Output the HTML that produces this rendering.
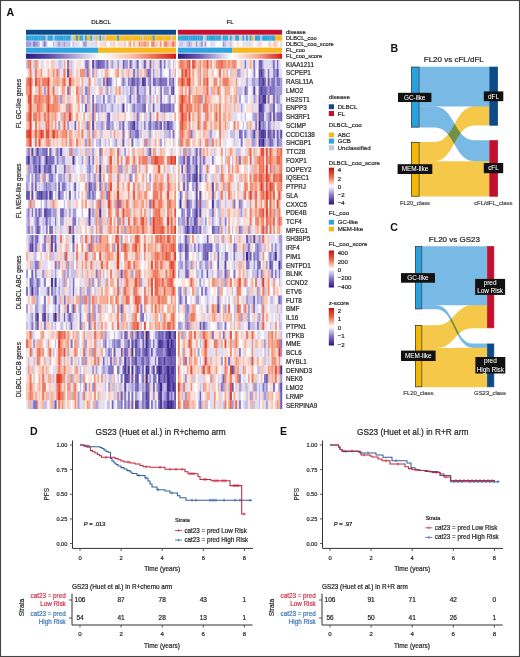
<!DOCTYPE html><html><head><meta charset="utf-8"><style>html,body{margin:0;padding:0;background:#fff}body{width:520px;height:657px;overflow:hidden}svg{display:block}text{font-family:"Liberation Sans",sans-serif}</style></head><body><svg width="520" height="657" viewBox="0 0 520 657" font-family='"Liberation Sans", sans-serif'>
<defs><linearGradient id="g0" x1="0" x2="1" y1="0" y2="0"><stop offset="0" stop-color="#2a1a80"/><stop offset="0.15" stop-color="#5a48a8"/><stop offset="0.3" stop-color="#a898d0"/><stop offset="0.5" stop-color="#ffffff"/><stop offset="0.7" stop-color="#f8c0a8"/><stop offset="0.86" stop-color="#ee6a4c"/><stop offset="1" stop-color="#d41c1c"/></linearGradient><linearGradient id="g1" x1="0" x2="1" y1="0" y2="0"><stop offset="0" stop-color="#2a1a80"/><stop offset="0.2" stop-color="#6a58b4"/><stop offset="0.52" stop-color="#ffffff"/><stop offset="0.78" stop-color="#f6a088"/><stop offset="1" stop-color="#d41c1c"/></linearGradient><filter id="hb" x="-0.01" y="-0.01" width="1.02" height="1.02"><feGaussianBlur stdDeviation="0.45 0.35"/></filter><filter id="ab" x="-0.01" y="-0.1" width="1.02" height="1.2"><feGaussianBlur stdDeviation="0.45 0.01"/></filter><linearGradient id="gz" x1="0" x2="0" y1="0" y2="1"><stop offset="0" stop-color="#c4100c"/><stop offset="0.25" stop-color="#f06a48"/><stop offset="0.5" stop-color="#ffffff"/><stop offset="0.75" stop-color="#8a78c8"/><stop offset="1" stop-color="#2a1478"/></linearGradient></defs>
<rect x="0" y="0" width="520" height="657" fill="#fff"/>
<text x="6.6" y="15.9" font-size="10.6" text-anchor="start" fill="#111" font-weight="bold" >A</text>
<text x="101" y="24.3" font-size="6.1" text-anchor="middle" fill="#262626" stroke="#262626" stroke-width="0.2" >DLBCL</text>
<text x="230" y="24.3" font-size="6.1" text-anchor="middle" fill="#262626" stroke="#262626" stroke-width="0.2" >FL</text>
<g filter="url(#ab)"><rect x="26" y="29.8" width="150" height="4.9" fill="#0c4a88"/><rect x="177.7" y="29.8" width="104.3" height="4.9" fill="#c8102e"/><rect x="26" y="35.4" width="2.04" height="5.3" fill="#2ea4de"/><rect x="27.79" y="35.4" width="2.04" height="5.3" fill="#2ea4de"/><rect x="29.57" y="35.4" width="2.04" height="5.3" fill="#2ea4de"/><rect x="31.36" y="35.4" width="2.04" height="5.3" fill="#2ea4de"/><rect x="33.14" y="35.4" width="2.04" height="5.3" fill="#2ea4de"/><rect x="34.93" y="35.4" width="2.04" height="5.3" fill="#2ea4de"/><rect x="36.71" y="35.4" width="2.04" height="5.3" fill="#2ea4de"/><rect x="38.5" y="35.4" width="2.04" height="5.3" fill="#2ea4de"/><rect x="40.29" y="35.4" width="2.04" height="5.3" fill="#2ea4de"/><rect x="42.07" y="35.4" width="2.04" height="5.3" fill="#2ea4de"/><rect x="43.86" y="35.4" width="2.04" height="5.3" fill="#2ea4de"/><rect x="45.64" y="35.4" width="2.04" height="5.3" fill="#c4cbd6"/><rect x="47.43" y="35.4" width="2.04" height="5.3" fill="#2ea4de"/><rect x="49.21" y="35.4" width="2.04" height="5.3" fill="#2ea4de"/><rect x="51" y="35.4" width="2.04" height="5.3" fill="#2ea4de"/><rect x="52.79" y="35.4" width="2.04" height="5.3" fill="#c4cbd6"/><rect x="54.57" y="35.4" width="2.04" height="5.3" fill="#2ea4de"/><rect x="56.36" y="35.4" width="2.04" height="5.3" fill="#2ea4de"/><rect x="58.14" y="35.4" width="2.04" height="5.3" fill="#2ea4de"/><rect x="59.93" y="35.4" width="2.04" height="5.3" fill="#2ea4de"/><rect x="61.71" y="35.4" width="2.04" height="5.3" fill="#2ea4de"/><rect x="63.5" y="35.4" width="2.04" height="5.3" fill="#2ea4de"/><rect x="65.29" y="35.4" width="2.04" height="5.3" fill="#2ea4de"/><rect x="67.07" y="35.4" width="2.04" height="5.3" fill="#2ea4de"/><rect x="68.86" y="35.4" width="2.04" height="5.3" fill="#2ea4de"/><rect x="70.64" y="35.4" width="2.04" height="5.3" fill="#c4cbd6"/><rect x="72.43" y="35.4" width="2.04" height="5.3" fill="#c4cbd6"/><rect x="74.21" y="35.4" width="2.04" height="5.3" fill="#f6b81c"/><rect x="76" y="35.4" width="2.04" height="5.3" fill="#2ea4de"/><rect x="77.79" y="35.4" width="2.04" height="5.3" fill="#f6b81c"/><rect x="79.57" y="35.4" width="2.04" height="5.3" fill="#2ea4de"/><rect x="81.36" y="35.4" width="2.04" height="5.3" fill="#2ea4de"/><rect x="83.14" y="35.4" width="2.04" height="5.3" fill="#c4cbd6"/><rect x="84.93" y="35.4" width="2.04" height="5.3" fill="#2ea4de"/><rect x="86.71" y="35.4" width="2.04" height="5.3" fill="#f6b81c"/><rect x="88.5" y="35.4" width="2.04" height="5.3" fill="#f6b81c"/><rect x="90.29" y="35.4" width="2.04" height="5.3" fill="#2ea4de"/><rect x="92.07" y="35.4" width="2.04" height="5.3" fill="#c4cbd6"/><rect x="93.86" y="35.4" width="2.04" height="5.3" fill="#c4cbd6"/><rect x="95.64" y="35.4" width="2.04" height="5.3" fill="#f6b81c"/><rect x="97.43" y="35.4" width="2.04" height="5.3" fill="#c4cbd6"/><rect x="99.21" y="35.4" width="2.04" height="5.3" fill="#2ea4de"/><rect x="101" y="35.4" width="2.04" height="5.3" fill="#c4cbd6"/><rect x="102.79" y="35.4" width="2.04" height="5.3" fill="#f6b81c"/><rect x="104.57" y="35.4" width="2.04" height="5.3" fill="#c4cbd6"/><rect x="106.36" y="35.4" width="2.04" height="5.3" fill="#f6b81c"/><rect x="108.14" y="35.4" width="2.04" height="5.3" fill="#f6b81c"/><rect x="109.93" y="35.4" width="2.04" height="5.3" fill="#f6b81c"/><rect x="111.71" y="35.4" width="2.04" height="5.3" fill="#f6b81c"/><rect x="113.5" y="35.4" width="2.04" height="5.3" fill="#f6b81c"/><rect x="115.29" y="35.4" width="2.04" height="5.3" fill="#f6b81c"/><rect x="117.07" y="35.4" width="2.04" height="5.3" fill="#2ea4de"/><rect x="118.86" y="35.4" width="2.04" height="5.3" fill="#f6b81c"/><rect x="120.64" y="35.4" width="2.04" height="5.3" fill="#f6b81c"/><rect x="122.43" y="35.4" width="2.04" height="5.3" fill="#f6b81c"/><rect x="124.21" y="35.4" width="2.04" height="5.3" fill="#f6b81c"/><rect x="126" y="35.4" width="2.04" height="5.3" fill="#f6b81c"/><rect x="127.79" y="35.4" width="2.04" height="5.3" fill="#f6b81c"/><rect x="129.57" y="35.4" width="2.04" height="5.3" fill="#f6b81c"/><rect x="131.36" y="35.4" width="2.04" height="5.3" fill="#f6b81c"/><rect x="133.14" y="35.4" width="2.04" height="5.3" fill="#f6b81c"/><rect x="134.93" y="35.4" width="2.04" height="5.3" fill="#f6b81c"/><rect x="136.71" y="35.4" width="2.04" height="5.3" fill="#f6b81c"/><rect x="138.5" y="35.4" width="2.04" height="5.3" fill="#f6b81c"/><rect x="140.29" y="35.4" width="2.04" height="5.3" fill="#f6b81c"/><rect x="142.07" y="35.4" width="2.04" height="5.3" fill="#c4cbd6"/><rect x="143.86" y="35.4" width="2.04" height="5.3" fill="#f6b81c"/><rect x="145.64" y="35.4" width="2.04" height="5.3" fill="#f6b81c"/><rect x="147.43" y="35.4" width="2.04" height="5.3" fill="#f6b81c"/><rect x="149.21" y="35.4" width="2.04" height="5.3" fill="#f6b81c"/><rect x="151" y="35.4" width="2.04" height="5.3" fill="#f6b81c"/><rect x="152.79" y="35.4" width="2.04" height="5.3" fill="#2ea4de"/><rect x="154.57" y="35.4" width="2.04" height="5.3" fill="#f6b81c"/><rect x="156.36" y="35.4" width="2.04" height="5.3" fill="#f6b81c"/><rect x="158.14" y="35.4" width="2.04" height="5.3" fill="#f6b81c"/><rect x="159.93" y="35.4" width="2.04" height="5.3" fill="#f6b81c"/><rect x="161.71" y="35.4" width="2.04" height="5.3" fill="#f6b81c"/><rect x="163.5" y="35.4" width="2.04" height="5.3" fill="#f6b81c"/><rect x="165.29" y="35.4" width="2.04" height="5.3" fill="#f6b81c"/><rect x="167.07" y="35.4" width="2.04" height="5.3" fill="#f6b81c"/><rect x="168.86" y="35.4" width="2.04" height="5.3" fill="#f6b81c"/><rect x="170.64" y="35.4" width="2.04" height="5.3" fill="#c4cbd6"/><rect x="172.43" y="35.4" width="2.04" height="5.3" fill="#f6b81c"/><rect x="174.21" y="35.4" width="2.04" height="5.3" fill="#f6b81c"/><rect x="26" y="41.3" width="2.04" height="5.5" fill="#a49ad6"/><rect x="27.79" y="41.3" width="2.04" height="5.5" fill="#a49ad6"/><rect x="29.57" y="41.3" width="2.04" height="5.5" fill="#a49ad6"/><rect x="31.36" y="41.3" width="2.04" height="5.5" fill="#c6bfe7"/><rect x="33.14" y="41.3" width="2.04" height="5.5" fill="#8274c6"/><rect x="34.93" y="41.3" width="2.04" height="5.5" fill="#a49ad6"/><rect x="36.71" y="41.3" width="2.04" height="5.5" fill="#a49ad6"/><rect x="38.5" y="41.3" width="2.04" height="5.5" fill="#c6bfe7"/><rect x="40.29" y="41.3" width="2.04" height="5.5" fill="#fbf9fb"/><rect x="42.07" y="41.3" width="2.04" height="5.5" fill="#c6bfe7"/><rect x="43.86" y="41.3" width="2.04" height="5.5" fill="#8274c6"/><rect x="45.64" y="41.3" width="2.04" height="5.5" fill="#c6bfe7"/><rect x="47.43" y="41.3" width="2.04" height="5.5" fill="#fbf9fb"/><rect x="49.21" y="41.3" width="2.04" height="5.5" fill="#fbf9fb"/><rect x="51" y="41.3" width="2.04" height="5.5" fill="#fbf9fb"/><rect x="52.79" y="41.3" width="2.04" height="5.5" fill="#c6bfe7"/><rect x="54.57" y="41.3" width="2.04" height="5.5" fill="#e0dcf1"/><rect x="56.36" y="41.3" width="2.04" height="5.5" fill="#c6bfe7"/><rect x="58.14" y="41.3" width="2.04" height="5.5" fill="#a49ad6"/><rect x="59.93" y="41.3" width="2.04" height="5.5" fill="#c6bfe7"/><rect x="61.71" y="41.3" width="2.04" height="5.5" fill="#c6bfe7"/><rect x="63.5" y="41.3" width="2.04" height="5.5" fill="#a49ad6"/><rect x="65.29" y="41.3" width="2.04" height="5.5" fill="#c6bfe7"/><rect x="67.07" y="41.3" width="2.04" height="5.5" fill="#c6bfe7"/><rect x="68.86" y="41.3" width="2.04" height="5.5" fill="#c6bfe7"/><rect x="70.64" y="41.3" width="2.04" height="5.5" fill="#fbf9fb"/><rect x="72.43" y="41.3" width="2.04" height="5.5" fill="#c6bfe7"/><rect x="74.21" y="41.3" width="2.04" height="5.5" fill="#e0dcf1"/><rect x="76" y="41.3" width="2.04" height="5.5" fill="#e0dcf1"/><rect x="77.79" y="41.3" width="2.04" height="5.5" fill="#e0dcf1"/><rect x="79.57" y="41.3" width="2.04" height="5.5" fill="#fbf9fb"/><rect x="81.36" y="41.3" width="2.04" height="5.5" fill="#e0dcf1"/><rect x="83.14" y="41.3" width="2.04" height="5.5" fill="#a49ad6"/><rect x="84.93" y="41.3" width="2.04" height="5.5" fill="#a49ad6"/><rect x="86.71" y="41.3" width="2.04" height="5.5" fill="#e0dcf1"/><rect x="88.5" y="41.3" width="2.04" height="5.5" fill="#e0dcf1"/><rect x="90.29" y="41.3" width="2.04" height="5.5" fill="#e0dcf1"/><rect x="92.07" y="41.3" width="2.04" height="5.5" fill="#e0dcf1"/><rect x="93.86" y="41.3" width="2.04" height="5.5" fill="#e0dcf1"/><rect x="95.64" y="41.3" width="2.04" height="5.5" fill="#f8c8b8"/><rect x="97.43" y="41.3" width="2.04" height="5.5" fill="#fbf9fb"/><rect x="99.21" y="41.3" width="2.04" height="5.5" fill="#fae0da"/><rect x="101" y="41.3" width="2.04" height="5.5" fill="#fae0da"/><rect x="102.79" y="41.3" width="2.04" height="5.5" fill="#fae0da"/><rect x="104.57" y="41.3" width="2.04" height="5.5" fill="#f8c8b8"/><rect x="106.36" y="41.3" width="2.04" height="5.5" fill="#fbf9fb"/><rect x="108.14" y="41.3" width="2.04" height="5.5" fill="#fbf9fb"/><rect x="109.93" y="41.3" width="2.04" height="5.5" fill="#e0dcf1"/><rect x="111.71" y="41.3" width="2.04" height="5.5" fill="#fae0da"/><rect x="113.5" y="41.3" width="2.04" height="5.5" fill="#f8c8b8"/><rect x="115.29" y="41.3" width="2.04" height="5.5" fill="#fbf9fb"/><rect x="117.07" y="41.3" width="2.04" height="5.5" fill="#fae0da"/><rect x="118.86" y="41.3" width="2.04" height="5.5" fill="#fae0da"/><rect x="120.64" y="41.3" width="2.04" height="5.5" fill="#fae0da"/><rect x="122.43" y="41.3" width="2.04" height="5.5" fill="#fae0da"/><rect x="124.21" y="41.3" width="2.04" height="5.5" fill="#f8c8b8"/><rect x="126" y="41.3" width="2.04" height="5.5" fill="#fbf9fb"/><rect x="127.79" y="41.3" width="2.04" height="5.5" fill="#f8c8b8"/><rect x="129.57" y="41.3" width="2.04" height="5.5" fill="#f29276"/><rect x="131.36" y="41.3" width="2.04" height="5.5" fill="#fbf9fb"/><rect x="133.14" y="41.3" width="2.04" height="5.5" fill="#f5ad97"/><rect x="134.93" y="41.3" width="2.04" height="5.5" fill="#fae0da"/><rect x="136.71" y="41.3" width="2.04" height="5.5" fill="#fae0da"/><rect x="138.5" y="41.3" width="2.04" height="5.5" fill="#f29276"/><rect x="140.29" y="41.3" width="2.04" height="5.5" fill="#f5ad97"/><rect x="142.07" y="41.3" width="2.04" height="5.5" fill="#f5ad97"/><rect x="143.86" y="41.3" width="2.04" height="5.5" fill="#f29276"/><rect x="145.64" y="41.3" width="2.04" height="5.5" fill="#f5ad97"/><rect x="147.43" y="41.3" width="2.04" height="5.5" fill="#f5ad97"/><rect x="149.21" y="41.3" width="2.04" height="5.5" fill="#fbf9fb"/><rect x="151" y="41.3" width="2.04" height="5.5" fill="#f29276"/><rect x="152.79" y="41.3" width="2.04" height="5.5" fill="#ee7d64"/><rect x="154.57" y="41.3" width="2.04" height="5.5" fill="#f8c8b8"/><rect x="156.36" y="41.3" width="2.04" height="5.5" fill="#f8c8b8"/><rect x="158.14" y="41.3" width="2.04" height="5.5" fill="#fae0da"/><rect x="159.93" y="41.3" width="2.04" height="5.5" fill="#f29276"/><rect x="161.71" y="41.3" width="2.04" height="5.5" fill="#fbf9fb"/><rect x="163.5" y="41.3" width="2.04" height="5.5" fill="#f29276"/><rect x="165.29" y="41.3" width="2.04" height="5.5" fill="#ee7d64"/><rect x="167.07" y="41.3" width="2.04" height="5.5" fill="#f5ad97"/><rect x="168.86" y="41.3" width="2.04" height="5.5" fill="#f8c8b8"/><rect x="170.64" y="41.3" width="2.04" height="5.5" fill="#f5ad97"/><rect x="172.43" y="41.3" width="2.04" height="5.5" fill="#ea6851"/><rect x="174.21" y="41.3" width="2.04" height="5.5" fill="#f5ad97"/><rect x="26" y="47.6" width="72" height="5.2" fill="#2ea4de"/><rect x="98" y="47.6" width="78" height="5.2" fill="#f6b81c"/><rect x="26" y="53.6" width="150" height="5.2" fill="url(#g0)"/><rect x="177.7" y="35.4" width="2.05" height="5.3" fill="#2ea4de"/><rect x="179.5" y="35.4" width="2.05" height="5.3" fill="#2ea4de"/><rect x="181.3" y="35.4" width="2.05" height="5.3" fill="#2ea4de"/><rect x="183.09" y="35.4" width="2.05" height="5.3" fill="#2ea4de"/><rect x="184.89" y="35.4" width="2.05" height="5.3" fill="#2ea4de"/><rect x="186.69" y="35.4" width="2.05" height="5.3" fill="#2ea4de"/><rect x="188.49" y="35.4" width="2.05" height="5.3" fill="#2ea4de"/><rect x="190.29" y="35.4" width="2.05" height="5.3" fill="#2ea4de"/><rect x="192.09" y="35.4" width="2.05" height="5.3" fill="#2ea4de"/><rect x="193.88" y="35.4" width="2.05" height="5.3" fill="#2ea4de"/><rect x="195.68" y="35.4" width="2.05" height="5.3" fill="#2ea4de"/><rect x="197.48" y="35.4" width="2.05" height="5.3" fill="#2ea4de"/><rect x="199.28" y="35.4" width="2.05" height="5.3" fill="#2ea4de"/><rect x="201.08" y="35.4" width="2.05" height="5.3" fill="#2ea4de"/><rect x="202.88" y="35.4" width="2.05" height="5.3" fill="#c4cbd6"/><rect x="204.67" y="35.4" width="2.05" height="5.3" fill="#c4cbd6"/><rect x="206.47" y="35.4" width="2.05" height="5.3" fill="#2ea4de"/><rect x="208.27" y="35.4" width="2.05" height="5.3" fill="#2ea4de"/><rect x="210.07" y="35.4" width="2.05" height="5.3" fill="#2ea4de"/><rect x="211.87" y="35.4" width="2.05" height="5.3" fill="#2ea4de"/><rect x="213.67" y="35.4" width="2.05" height="5.3" fill="#2ea4de"/><rect x="215.46" y="35.4" width="2.05" height="5.3" fill="#2ea4de"/><rect x="217.26" y="35.4" width="2.05" height="5.3" fill="#2ea4de"/><rect x="219.06" y="35.4" width="2.05" height="5.3" fill="#2ea4de"/><rect x="220.86" y="35.4" width="2.05" height="5.3" fill="#c4cbd6"/><rect x="222.66" y="35.4" width="2.05" height="5.3" fill="#2ea4de"/><rect x="224.46" y="35.4" width="2.05" height="5.3" fill="#2ea4de"/><rect x="226.25" y="35.4" width="2.05" height="5.3" fill="#2ea4de"/><rect x="228.05" y="35.4" width="2.05" height="5.3" fill="#c4cbd6"/><rect x="229.85" y="35.4" width="2.05" height="5.3" fill="#2ea4de"/><rect x="231.65" y="35.4" width="2.05" height="5.3" fill="#c4cbd6"/><rect x="233.45" y="35.4" width="2.05" height="5.3" fill="#c4cbd6"/><rect x="235.24" y="35.4" width="2.05" height="5.3" fill="#2ea4de"/><rect x="237.04" y="35.4" width="2.05" height="5.3" fill="#2ea4de"/><rect x="238.84" y="35.4" width="2.05" height="5.3" fill="#c4cbd6"/><rect x="240.64" y="35.4" width="2.05" height="5.3" fill="#c4cbd6"/><rect x="242.44" y="35.4" width="2.05" height="5.3" fill="#2ea4de"/><rect x="244.24" y="35.4" width="2.05" height="5.3" fill="#c4cbd6"/><rect x="246.03" y="35.4" width="2.05" height="5.3" fill="#2ea4de"/><rect x="247.83" y="35.4" width="2.05" height="5.3" fill="#c4cbd6"/><rect x="249.63" y="35.4" width="2.05" height="5.3" fill="#2ea4de"/><rect x="251.43" y="35.4" width="2.05" height="5.3" fill="#f6b81c"/><rect x="253.23" y="35.4" width="2.05" height="5.3" fill="#c4cbd6"/><rect x="255.03" y="35.4" width="2.05" height="5.3" fill="#2ea4de"/><rect x="256.82" y="35.4" width="2.05" height="5.3" fill="#2ea4de"/><rect x="258.62" y="35.4" width="2.05" height="5.3" fill="#2ea4de"/><rect x="260.42" y="35.4" width="2.05" height="5.3" fill="#c4cbd6"/><rect x="262.22" y="35.4" width="2.05" height="5.3" fill="#2ea4de"/><rect x="264.02" y="35.4" width="2.05" height="5.3" fill="#2ea4de"/><rect x="265.82" y="35.4" width="2.05" height="5.3" fill="#2ea4de"/><rect x="267.61" y="35.4" width="2.05" height="5.3" fill="#2ea4de"/><rect x="269.41" y="35.4" width="2.05" height="5.3" fill="#2ea4de"/><rect x="271.21" y="35.4" width="2.05" height="5.3" fill="#2ea4de"/><rect x="273.01" y="35.4" width="2.05" height="5.3" fill="#2ea4de"/><rect x="274.81" y="35.4" width="2.05" height="5.3" fill="#f6b81c"/><rect x="276.61" y="35.4" width="2.05" height="5.3" fill="#f6b81c"/><rect x="278.4" y="35.4" width="2.05" height="5.3" fill="#f6b81c"/><rect x="280.2" y="35.4" width="2.05" height="5.3" fill="#f6b81c"/><rect x="177.7" y="41.3" width="2.05" height="5.5" fill="#e0dcf1"/><rect x="179.5" y="41.3" width="2.05" height="5.5" fill="#c6bfe7"/><rect x="181.3" y="41.3" width="2.05" height="5.5" fill="#c6bfe7"/><rect x="183.09" y="41.3" width="2.05" height="5.5" fill="#e0dcf1"/><rect x="184.89" y="41.3" width="2.05" height="5.5" fill="#e0dcf1"/><rect x="186.69" y="41.3" width="2.05" height="5.5" fill="#c6bfe7"/><rect x="188.49" y="41.3" width="2.05" height="5.5" fill="#a49ad6"/><rect x="190.29" y="41.3" width="2.05" height="5.5" fill="#c6bfe7"/><rect x="192.09" y="41.3" width="2.05" height="5.5" fill="#e0dcf1"/><rect x="193.88" y="41.3" width="2.05" height="5.5" fill="#fae0da"/><rect x="195.68" y="41.3" width="2.05" height="5.5" fill="#a49ad6"/><rect x="197.48" y="41.3" width="2.05" height="5.5" fill="#e0dcf1"/><rect x="199.28" y="41.3" width="2.05" height="5.5" fill="#c6bfe7"/><rect x="201.08" y="41.3" width="2.05" height="5.5" fill="#a49ad6"/><rect x="202.88" y="41.3" width="2.05" height="5.5" fill="#fae0da"/><rect x="204.67" y="41.3" width="2.05" height="5.5" fill="#a49ad6"/><rect x="206.47" y="41.3" width="2.05" height="5.5" fill="#fbf9fb"/><rect x="208.27" y="41.3" width="2.05" height="5.5" fill="#fbf9fb"/><rect x="210.07" y="41.3" width="2.05" height="5.5" fill="#e0dcf1"/><rect x="211.87" y="41.3" width="2.05" height="5.5" fill="#e0dcf1"/><rect x="213.67" y="41.3" width="2.05" height="5.5" fill="#e0dcf1"/><rect x="215.46" y="41.3" width="2.05" height="5.5" fill="#fbf9fb"/><rect x="217.26" y="41.3" width="2.05" height="5.5" fill="#fbf9fb"/><rect x="219.06" y="41.3" width="2.05" height="5.5" fill="#fbf9fb"/><rect x="220.86" y="41.3" width="2.05" height="5.5" fill="#fbf9fb"/><rect x="222.66" y="41.3" width="2.05" height="5.5" fill="#a49ad6"/><rect x="224.46" y="41.3" width="2.05" height="5.5" fill="#c6bfe7"/><rect x="226.25" y="41.3" width="2.05" height="5.5" fill="#e0dcf1"/><rect x="228.05" y="41.3" width="2.05" height="5.5" fill="#e0dcf1"/><rect x="229.85" y="41.3" width="2.05" height="5.5" fill="#c6bfe7"/><rect x="231.65" y="41.3" width="2.05" height="5.5" fill="#fae0da"/><rect x="233.45" y="41.3" width="2.05" height="5.5" fill="#fbf9fb"/><rect x="235.24" y="41.3" width="2.05" height="5.5" fill="#fbf9fb"/><rect x="237.04" y="41.3" width="2.05" height="5.5" fill="#fae0da"/><rect x="238.84" y="41.3" width="2.05" height="5.5" fill="#fbf9fb"/><rect x="240.64" y="41.3" width="2.05" height="5.5" fill="#fbf9fb"/><rect x="242.44" y="41.3" width="2.05" height="5.5" fill="#e0dcf1"/><rect x="244.24" y="41.3" width="2.05" height="5.5" fill="#fae0da"/><rect x="246.03" y="41.3" width="2.05" height="5.5" fill="#e0dcf1"/><rect x="247.83" y="41.3" width="2.05" height="5.5" fill="#e0dcf1"/><rect x="249.63" y="41.3" width="2.05" height="5.5" fill="#e0dcf1"/><rect x="251.43" y="41.3" width="2.05" height="5.5" fill="#fae0da"/><rect x="253.23" y="41.3" width="2.05" height="5.5" fill="#fbf9fb"/><rect x="255.03" y="41.3" width="2.05" height="5.5" fill="#fbf9fb"/><rect x="256.82" y="41.3" width="2.05" height="5.5" fill="#fae0da"/><rect x="258.62" y="41.3" width="2.05" height="5.5" fill="#e0dcf1"/><rect x="260.42" y="41.3" width="2.05" height="5.5" fill="#fae0da"/><rect x="262.22" y="41.3" width="2.05" height="5.5" fill="#fbf9fb"/><rect x="264.02" y="41.3" width="2.05" height="5.5" fill="#fbf9fb"/><rect x="265.82" y="41.3" width="2.05" height="5.5" fill="#fbf9fb"/><rect x="267.61" y="41.3" width="2.05" height="5.5" fill="#fae0da"/><rect x="269.41" y="41.3" width="2.05" height="5.5" fill="#f8c8b8"/><rect x="271.21" y="41.3" width="2.05" height="5.5" fill="#fbf9fb"/><rect x="273.01" y="41.3" width="2.05" height="5.5" fill="#f8c8b8"/><rect x="274.81" y="41.3" width="2.05" height="5.5" fill="#f8c8b8"/><rect x="276.61" y="41.3" width="2.05" height="5.5" fill="#fae0da"/><rect x="278.4" y="41.3" width="2.05" height="5.5" fill="#fbf9fb"/><rect x="280.2" y="41.3" width="2.05" height="5.5" fill="#e0dcf1"/><rect x="177.7" y="47.6" width="54.8" height="5.2" fill="#2ea4de"/><rect x="232.5" y="47.6" width="49.5" height="5.2" fill="#f6b81c"/><rect x="177.7" y="53.6" width="104.3" height="5.2" fill="url(#g1)"/></g>
<g filter="url(#hb)"><path fill="#c6bfe7" d="M26 60h2.04v8.82h-2.04zM26 147.25h2.04v8.82h-2.04zM26 173.43h2.04v8.82h-2.04zM26 208.32h2.04v8.82h-2.04zM26 217.05h2.04v8.82h-2.04zM26 225.78h2.04v8.82h-2.04zM26 321.75h2.04v8.82h-2.04zM27.79 182.15h2.04v8.82h-2.04zM27.79 199.6h2.04v8.82h-2.04zM27.79 234.5h2.04v8.82h-2.04zM27.79 243.22h2.04v8.82h-2.04zM27.79 356.65h2.04v8.82h-2.04zM27.79 400.27h2.04v8.82h-2.04zM29.57 155.97h2.04v8.82h-2.04zM29.57 313.02h2.04v8.82h-2.04zM29.57 321.75h2.04v8.82h-2.04zM31.36 164.7h2.04v8.82h-2.04zM31.36 199.6h2.04v8.82h-2.04zM31.36 260.67h2.04v8.82h-2.04zM31.36 330.47h2.04v8.82h-2.04zM31.36 347.93h2.04v8.82h-2.04zM31.36 365.38h2.04v8.82h-2.04zM31.36 400.27h2.04v8.82h-2.04zM33.14 60h2.04v8.82h-2.04zM33.14 217.05h2.04v8.82h-2.04zM33.14 234.5h2.04v8.82h-2.04zM33.14 243.22h2.04v8.82h-2.04zM33.14 251.95h2.04v8.82h-2.04zM33.14 260.67h2.04v8.82h-2.04zM33.14 278.12h2.04v8.82h-2.04zM33.14 286.85h2.04v8.82h-2.04zM33.14 356.65h2.04v8.82h-2.04zM34.93 190.88h2.04v8.82h-2.04zM34.93 251.95h2.04v8.82h-2.04zM34.93 278.12h2.04v8.82h-2.04zM34.93 295.57h2.04v8.82h-2.04zM36.71 208.32h2.04v8.82h-2.04zM36.71 243.22h2.04v8.82h-2.04zM38.5 182.15h2.04v8.82h-2.04zM38.5 217.05h2.04v8.82h-2.04zM40.29 155.97h2.04v8.82h-2.04zM40.29 164.7h2.04v8.82h-2.04zM40.29 199.6h2.04v8.82h-2.04zM42.07 164.7h2.04v8.82h-2.04zM42.07 182.15h2.04v8.82h-2.04zM42.07 217.05h2.04v8.82h-2.04zM42.07 225.78h2.04v8.82h-2.04zM43.86 199.6h2.04v8.82h-2.04zM43.86 217.05h2.04v8.82h-2.04zM43.86 269.4h2.04v8.82h-2.04zM43.86 400.27h2.04v8.82h-2.04zM45.64 286.85h2.04v8.82h-2.04zM45.64 400.27h2.04v8.82h-2.04zM47.43 173.43h2.04v8.82h-2.04zM47.43 190.88h2.04v8.82h-2.04zM47.43 217.05h2.04v8.82h-2.04zM47.43 234.5h2.04v8.82h-2.04zM47.43 391.55h2.04v8.82h-2.04zM51 147.25h2.04v8.82h-2.04zM51 164.7h2.04v8.82h-2.04zM51 182.15h2.04v8.82h-2.04zM51 199.6h2.04v8.82h-2.04zM51 208.32h2.04v8.82h-2.04zM51 251.95h2.04v8.82h-2.04zM51 269.4h2.04v8.82h-2.04zM51 321.75h2.04v8.82h-2.04zM52.79 173.43h2.04v8.82h-2.04zM52.79 182.15h2.04v8.82h-2.04zM52.79 251.95h2.04v8.82h-2.04zM52.79 286.85h2.04v8.82h-2.04zM52.79 347.93h2.04v8.82h-2.04zM52.79 374.1h2.04v8.82h-2.04zM52.79 400.27h2.04v8.82h-2.04zM54.57 147.25h2.04v8.82h-2.04zM54.57 173.43h2.04v8.82h-2.04zM54.57 190.88h2.04v8.82h-2.04zM54.57 225.78h2.04v8.82h-2.04zM54.57 321.75h2.04v8.82h-2.04zM54.57 339.2h2.04v8.82h-2.04zM58.14 60h2.04v8.82h-2.04zM58.14 68.72h2.04v8.82h-2.04zM58.14 94.9h2.04v8.82h-2.04zM58.14 147.25h2.04v8.82h-2.04zM58.14 155.97h2.04v8.82h-2.04zM58.14 278.12h2.04v8.82h-2.04zM58.14 295.57h2.04v8.82h-2.04zM59.93 60h2.04v8.82h-2.04zM59.93 112.35h2.04v8.82h-2.04zM59.93 155.97h2.04v8.82h-2.04zM59.93 225.78h2.04v8.82h-2.04zM59.93 321.75h2.04v8.82h-2.04zM61.71 147.25h2.04v8.82h-2.04zM61.71 173.43h2.04v8.82h-2.04zM61.71 278.12h2.04v8.82h-2.04zM61.71 286.85h2.04v8.82h-2.04zM61.71 321.75h2.04v8.82h-2.04zM63.5 199.6h2.04v8.82h-2.04zM63.5 208.32h2.04v8.82h-2.04zM63.5 304.3h2.04v8.82h-2.04zM65.29 164.7h2.04v8.82h-2.04zM65.29 182.15h2.04v8.82h-2.04zM65.29 190.88h2.04v8.82h-2.04zM65.29 208.32h2.04v8.82h-2.04zM65.29 321.75h2.04v8.82h-2.04zM67.07 94.9h2.04v8.82h-2.04zM67.07 112.35h2.04v8.82h-2.04zM67.07 243.22h2.04v8.82h-2.04zM68.86 164.7h2.04v8.82h-2.04zM68.86 182.15h2.04v8.82h-2.04zM68.86 199.6h2.04v8.82h-2.04zM68.86 278.12h2.04v8.82h-2.04zM68.86 286.85h2.04v8.82h-2.04zM68.86 295.57h2.04v8.82h-2.04zM68.86 321.75h2.04v8.82h-2.04zM70.64 60h2.04v8.82h-2.04zM70.64 260.67h2.04v8.82h-2.04zM70.64 269.4h2.04v8.82h-2.04zM70.64 304.3h2.04v8.82h-2.04zM70.64 391.55h2.04v8.82h-2.04zM72.43 147.25h2.04v8.82h-2.04zM72.43 164.7h2.04v8.82h-2.04zM72.43 182.15h2.04v8.82h-2.04zM72.43 251.95h2.04v8.82h-2.04zM72.43 260.67h2.04v8.82h-2.04zM72.43 269.4h2.04v8.82h-2.04zM72.43 295.57h2.04v8.82h-2.04zM72.43 313.02h2.04v8.82h-2.04zM74.21 147.25h2.04v8.82h-2.04zM74.21 155.97h2.04v8.82h-2.04zM74.21 269.4h2.04v8.82h-2.04zM76 147.25h2.04v8.82h-2.04zM77.79 190.88h2.04v8.82h-2.04zM77.79 217.05h2.04v8.82h-2.04zM77.79 304.3h2.04v8.82h-2.04zM77.79 330.47h2.04v8.82h-2.04zM77.79 339.2h2.04v8.82h-2.04zM77.79 356.65h2.04v8.82h-2.04zM79.57 86.17h2.04v8.82h-2.04zM79.57 234.5h2.04v8.82h-2.04zM79.57 365.38h2.04v8.82h-2.04zM79.57 382.82h2.04v8.82h-2.04zM81.36 103.62h2.04v8.82h-2.04zM81.36 208.32h2.04v8.82h-2.04zM81.36 374.1h2.04v8.82h-2.04zM81.36 391.55h2.04v8.82h-2.04zM83.14 173.43h2.04v8.82h-2.04zM83.14 286.85h2.04v8.82h-2.04zM83.14 321.75h2.04v8.82h-2.04zM84.93 68.72h2.04v8.82h-2.04zM84.93 121.07h2.04v8.82h-2.04zM84.93 347.93h2.04v8.82h-2.04zM86.71 103.62h2.04v8.82h-2.04zM86.71 129.8h2.04v8.82h-2.04zM86.71 138.52h2.04v8.82h-2.04zM86.71 147.25h2.04v8.82h-2.04zM86.71 155.97h2.04v8.82h-2.04zM86.71 173.43h2.04v8.82h-2.04zM86.71 182.15h2.04v8.82h-2.04zM86.71 217.05h2.04v8.82h-2.04zM88.5 147.25h2.04v8.82h-2.04zM90.29 164.7h2.04v8.82h-2.04zM90.29 190.88h2.04v8.82h-2.04zM92.07 138.52h2.04v8.82h-2.04zM92.07 164.7h2.04v8.82h-2.04zM92.07 173.43h2.04v8.82h-2.04zM92.07 199.6h2.04v8.82h-2.04zM92.07 225.78h2.04v8.82h-2.04zM92.07 400.27h2.04v8.82h-2.04zM93.86 60h2.04v8.82h-2.04zM93.86 208.32h2.04v8.82h-2.04zM93.86 217.05h2.04v8.82h-2.04zM93.86 286.85h2.04v8.82h-2.04zM95.64 68.72h2.04v8.82h-2.04zM95.64 94.9h2.04v8.82h-2.04zM95.64 121.07h2.04v8.82h-2.04zM95.64 138.52h2.04v8.82h-2.04zM95.64 339.2h2.04v8.82h-2.04zM95.64 356.65h2.04v8.82h-2.04zM97.43 77.45h2.04v8.82h-2.04zM97.43 94.9h2.04v8.82h-2.04zM97.43 112.35h2.04v8.82h-2.04zM97.43 121.07h2.04v8.82h-2.04zM97.43 138.52h2.04v8.82h-2.04zM97.43 173.43h2.04v8.82h-2.04zM97.43 234.5h2.04v8.82h-2.04zM97.43 321.75h2.04v8.82h-2.04zM97.43 400.27h2.04v8.82h-2.04zM99.21 77.45h2.04v8.82h-2.04zM99.21 94.9h2.04v8.82h-2.04zM99.21 103.62h2.04v8.82h-2.04zM99.21 121.07h2.04v8.82h-2.04zM99.21 129.8h2.04v8.82h-2.04zM99.21 190.88h2.04v8.82h-2.04zM101 86.17h2.04v8.82h-2.04zM101 129.8h2.04v8.82h-2.04zM101 155.97h2.04v8.82h-2.04zM101 365.38h2.04v8.82h-2.04zM102.79 103.62h2.04v8.82h-2.04zM102.79 121.07h2.04v8.82h-2.04zM102.79 269.4h2.04v8.82h-2.04zM102.79 330.47h2.04v8.82h-2.04zM104.57 60h2.04v8.82h-2.04zM104.57 138.52h2.04v8.82h-2.04zM104.57 190.88h2.04v8.82h-2.04zM104.57 278.12h2.04v8.82h-2.04zM104.57 347.93h2.04v8.82h-2.04zM104.57 365.38h2.04v8.82h-2.04zM104.57 374.1h2.04v8.82h-2.04zM104.57 382.82h2.04v8.82h-2.04zM106.36 94.9h2.04v8.82h-2.04zM106.36 182.15h2.04v8.82h-2.04zM106.36 199.6h2.04v8.82h-2.04zM106.36 217.05h2.04v8.82h-2.04zM106.36 347.93h2.04v8.82h-2.04zM106.36 356.65h2.04v8.82h-2.04zM106.36 365.38h2.04v8.82h-2.04zM106.36 400.27h2.04v8.82h-2.04zM108.14 138.52h2.04v8.82h-2.04zM108.14 339.2h2.04v8.82h-2.04zM108.14 374.1h2.04v8.82h-2.04zM108.14 400.27h2.04v8.82h-2.04zM109.93 60h2.04v8.82h-2.04zM109.93 86.17h2.04v8.82h-2.04zM109.93 94.9h2.04v8.82h-2.04zM109.93 103.62h2.04v8.82h-2.04zM109.93 121.07h2.04v8.82h-2.04zM109.93 129.8h2.04v8.82h-2.04zM109.93 374.1h2.04v8.82h-2.04zM111.71 382.82h2.04v8.82h-2.04zM113.5 138.52h2.04v8.82h-2.04zM113.5 304.3h2.04v8.82h-2.04zM113.5 330.47h2.04v8.82h-2.04zM113.5 374.1h2.04v8.82h-2.04zM113.5 382.82h2.04v8.82h-2.04zM113.5 391.55h2.04v8.82h-2.04zM115.29 77.45h2.04v8.82h-2.04zM117.07 103.62h2.04v8.82h-2.04zM117.07 374.1h2.04v8.82h-2.04zM118.86 147.25h2.04v8.82h-2.04zM118.86 173.43h2.04v8.82h-2.04zM118.86 269.4h2.04v8.82h-2.04zM118.86 286.85h2.04v8.82h-2.04zM118.86 304.3h2.04v8.82h-2.04zM118.86 330.47h2.04v8.82h-2.04zM118.86 365.38h2.04v8.82h-2.04zM118.86 382.82h2.04v8.82h-2.04zM120.64 77.45h2.04v8.82h-2.04zM120.64 103.62h2.04v8.82h-2.04zM120.64 121.07h2.04v8.82h-2.04zM120.64 278.12h2.04v8.82h-2.04zM120.64 295.57h2.04v8.82h-2.04zM120.64 321.75h2.04v8.82h-2.04zM120.64 356.65h2.04v8.82h-2.04zM120.64 382.82h2.04v8.82h-2.04zM122.43 68.72h2.04v8.82h-2.04zM122.43 86.17h2.04v8.82h-2.04zM124.21 77.45h2.04v8.82h-2.04zM124.21 155.97h2.04v8.82h-2.04zM124.21 164.7h2.04v8.82h-2.04zM124.21 173.43h2.04v8.82h-2.04zM126 86.17h2.04v8.82h-2.04zM126 94.9h2.04v8.82h-2.04zM126 103.62h2.04v8.82h-2.04zM126 400.27h2.04v8.82h-2.04zM127.79 94.9h2.04v8.82h-2.04zM127.79 347.93h2.04v8.82h-2.04zM127.79 382.82h2.04v8.82h-2.04zM129.57 234.5h2.04v8.82h-2.04zM129.57 321.75h2.04v8.82h-2.04zM129.57 382.82h2.04v8.82h-2.04zM131.36 60h2.04v8.82h-2.04zM131.36 147.25h2.04v8.82h-2.04zM131.36 173.43h2.04v8.82h-2.04zM133.14 86.17h2.04v8.82h-2.04zM133.14 94.9h2.04v8.82h-2.04zM133.14 112.35h2.04v8.82h-2.04zM133.14 382.82h2.04v8.82h-2.04zM134.93 60h2.04v8.82h-2.04zM134.93 103.62h2.04v8.82h-2.04zM134.93 121.07h2.04v8.82h-2.04zM136.71 138.52h2.04v8.82h-2.04zM136.71 391.55h2.04v8.82h-2.04zM138.5 86.17h2.04v8.82h-2.04zM138.5 112.35h2.04v8.82h-2.04zM138.5 129.8h2.04v8.82h-2.04zM138.5 382.82h2.04v8.82h-2.04zM138.5 400.27h2.04v8.82h-2.04zM140.29 77.45h2.04v8.82h-2.04zM140.29 86.17h2.04v8.82h-2.04zM140.29 94.9h2.04v8.82h-2.04zM140.29 121.07h2.04v8.82h-2.04zM140.29 129.8h2.04v8.82h-2.04zM140.29 295.57h2.04v8.82h-2.04zM140.29 321.75h2.04v8.82h-2.04zM140.29 347.93h2.04v8.82h-2.04zM140.29 365.38h2.04v8.82h-2.04zM140.29 374.1h2.04v8.82h-2.04zM140.29 382.82h2.04v8.82h-2.04zM140.29 400.27h2.04v8.82h-2.04zM142.07 60h2.04v8.82h-2.04zM142.07 86.17h2.04v8.82h-2.04zM143.86 68.72h2.04v8.82h-2.04zM143.86 112.35h2.04v8.82h-2.04zM143.86 339.2h2.04v8.82h-2.04zM143.86 382.82h2.04v8.82h-2.04zM145.64 173.43h2.04v8.82h-2.04zM145.64 313.02h2.04v8.82h-2.04zM147.43 103.62h2.04v8.82h-2.04zM147.43 129.8h2.04v8.82h-2.04zM147.43 138.52h2.04v8.82h-2.04zM147.43 155.97h2.04v8.82h-2.04zM147.43 374.1h2.04v8.82h-2.04zM149.21 103.62h2.04v8.82h-2.04zM149.21 138.52h2.04v8.82h-2.04zM149.21 155.97h2.04v8.82h-2.04zM149.21 182.15h2.04v8.82h-2.04zM149.21 208.32h2.04v8.82h-2.04zM149.21 347.93h2.04v8.82h-2.04zM149.21 356.65h2.04v8.82h-2.04zM151 121.07h2.04v8.82h-2.04zM152.79 60h2.04v8.82h-2.04zM152.79 94.9h2.04v8.82h-2.04zM154.57 86.17h2.04v8.82h-2.04zM154.57 347.93h2.04v8.82h-2.04zM158.14 60h2.04v8.82h-2.04zM159.93 313.02h2.04v8.82h-2.04zM161.71 391.55h2.04v8.82h-2.04zM163.5 112.35h2.04v8.82h-2.04zM163.5 129.8h2.04v8.82h-2.04zM163.5 138.52h2.04v8.82h-2.04zM163.5 382.82h2.04v8.82h-2.04zM165.29 129.8h2.04v8.82h-2.04zM167.07 60h2.04v8.82h-2.04zM167.07 94.9h2.04v8.82h-2.04zM167.07 129.8h2.04v8.82h-2.04zM168.86 60h2.04v8.82h-2.04zM170.64 147.25h2.04v8.82h-2.04zM172.43 60h2.04v8.82h-2.04zM172.43 121.07h2.04v8.82h-2.04zM172.43 138.52h2.04v8.82h-2.04zM172.43 164.7h2.04v8.82h-2.04zM172.43 391.55h2.04v8.82h-2.04zM174.21 94.9h2.04v8.82h-2.04zM177.7 138.52h2.05v8.82h-2.05zM177.7 155.97h2.05v8.82h-2.05zM177.7 260.67h2.05v8.82h-2.05zM177.7 295.57h2.05v8.82h-2.05zM177.7 304.3h2.05v8.82h-2.05zM179.5 147.25h2.05v8.82h-2.05zM179.5 217.05h2.05v8.82h-2.05zM179.5 225.78h2.05v8.82h-2.05zM179.5 234.5h2.05v8.82h-2.05zM181.3 173.43h2.05v8.82h-2.05zM181.3 190.88h2.05v8.82h-2.05zM181.3 295.57h2.05v8.82h-2.05zM181.3 321.75h2.05v8.82h-2.05zM181.3 347.93h2.05v8.82h-2.05zM181.3 382.82h2.05v8.82h-2.05zM181.3 391.55h2.05v8.82h-2.05zM183.09 234.5h2.05v8.82h-2.05zM183.09 243.22h2.05v8.82h-2.05zM184.89 330.47h2.05v8.82h-2.05zM186.69 147.25h2.05v8.82h-2.05zM188.49 217.05h2.05v8.82h-2.05zM188.49 304.3h2.05v8.82h-2.05zM190.29 86.17h2.05v8.82h-2.05zM190.29 164.7h2.05v8.82h-2.05zM190.29 173.43h2.05v8.82h-2.05zM190.29 243.22h2.05v8.82h-2.05zM190.29 321.75h2.05v8.82h-2.05zM192.09 129.8h2.05v8.82h-2.05zM192.09 164.7h2.05v8.82h-2.05zM192.09 217.05h2.05v8.82h-2.05zM192.09 374.1h2.05v8.82h-2.05zM193.88 147.25h2.05v8.82h-2.05zM193.88 182.15h2.05v8.82h-2.05zM193.88 199.6h2.05v8.82h-2.05zM195.68 260.67h2.05v8.82h-2.05zM195.68 269.4h2.05v8.82h-2.05zM195.68 286.85h2.05v8.82h-2.05zM197.48 208.32h2.05v8.82h-2.05zM197.48 251.95h2.05v8.82h-2.05zM197.48 269.4h2.05v8.82h-2.05zM197.48 286.85h2.05v8.82h-2.05zM197.48 400.27h2.05v8.82h-2.05zM199.28 217.05h2.05v8.82h-2.05zM199.28 243.22h2.05v8.82h-2.05zM199.28 330.47h2.05v8.82h-2.05zM199.28 339.2h2.05v8.82h-2.05zM199.28 356.65h2.05v8.82h-2.05zM199.28 382.82h2.05v8.82h-2.05zM201.08 164.7h2.05v8.82h-2.05zM201.08 173.43h2.05v8.82h-2.05zM201.08 199.6h2.05v8.82h-2.05zM201.08 217.05h2.05v8.82h-2.05zM201.08 243.22h2.05v8.82h-2.05zM201.08 251.95h2.05v8.82h-2.05zM201.08 260.67h2.05v8.82h-2.05zM201.08 321.75h2.05v8.82h-2.05zM201.08 400.27h2.05v8.82h-2.05zM202.88 199.6h2.05v8.82h-2.05zM202.88 225.78h2.05v8.82h-2.05zM202.88 278.12h2.05v8.82h-2.05zM204.67 155.97h2.05v8.82h-2.05zM204.67 199.6h2.05v8.82h-2.05zM204.67 225.78h2.05v8.82h-2.05zM206.47 286.85h2.05v8.82h-2.05zM206.47 295.57h2.05v8.82h-2.05zM206.47 321.75h2.05v8.82h-2.05zM206.47 356.65h2.05v8.82h-2.05zM206.47 400.27h2.05v8.82h-2.05zM208.27 129.8h2.05v8.82h-2.05zM208.27 138.52h2.05v8.82h-2.05zM208.27 208.32h2.05v8.82h-2.05zM210.07 86.17h2.05v8.82h-2.05zM210.07 138.52h2.05v8.82h-2.05zM210.07 208.32h2.05v8.82h-2.05zM210.07 251.95h2.05v8.82h-2.05zM211.87 173.43h2.05v8.82h-2.05zM211.87 243.22h2.05v8.82h-2.05zM211.87 269.4h2.05v8.82h-2.05zM211.87 374.1h2.05v8.82h-2.05zM213.67 147.25h2.05v8.82h-2.05zM213.67 234.5h2.05v8.82h-2.05zM215.46 199.6h2.05v8.82h-2.05zM217.26 164.7h2.05v8.82h-2.05zM217.26 182.15h2.05v8.82h-2.05zM217.26 208.32h2.05v8.82h-2.05zM217.26 234.5h2.05v8.82h-2.05zM217.26 278.12h2.05v8.82h-2.05zM217.26 339.2h2.05v8.82h-2.05zM217.26 382.82h2.05v8.82h-2.05zM219.06 173.43h2.05v8.82h-2.05zM219.06 190.88h2.05v8.82h-2.05zM219.06 199.6h2.05v8.82h-2.05zM219.06 208.32h2.05v8.82h-2.05zM219.06 225.78h2.05v8.82h-2.05zM219.06 269.4h2.05v8.82h-2.05zM219.06 295.57h2.05v8.82h-2.05zM219.06 304.3h2.05v8.82h-2.05zM219.06 321.75h2.05v8.82h-2.05zM220.86 234.5h2.05v8.82h-2.05zM220.86 251.95h2.05v8.82h-2.05zM220.86 269.4h2.05v8.82h-2.05zM220.86 278.12h2.05v8.82h-2.05zM220.86 321.75h2.05v8.82h-2.05zM220.86 374.1h2.05v8.82h-2.05zM222.66 400.27h2.05v8.82h-2.05zM224.46 147.25h2.05v8.82h-2.05zM224.46 155.97h2.05v8.82h-2.05zM224.46 182.15h2.05v8.82h-2.05zM224.46 190.88h2.05v8.82h-2.05zM224.46 199.6h2.05v8.82h-2.05zM224.46 225.78h2.05v8.82h-2.05zM224.46 243.22h2.05v8.82h-2.05zM228.05 295.57h2.05v8.82h-2.05zM228.05 382.82h2.05v8.82h-2.05zM228.05 391.55h2.05v8.82h-2.05zM229.85 68.72h2.05v8.82h-2.05zM229.85 129.8h2.05v8.82h-2.05zM231.65 129.8h2.05v8.82h-2.05zM231.65 155.97h2.05v8.82h-2.05zM231.65 225.78h2.05v8.82h-2.05zM231.65 286.85h2.05v8.82h-2.05zM231.65 339.2h2.05v8.82h-2.05zM233.45 129.8h2.05v8.82h-2.05zM233.45 138.52h2.05v8.82h-2.05zM233.45 234.5h2.05v8.82h-2.05zM233.45 260.67h2.05v8.82h-2.05zM233.45 295.57h2.05v8.82h-2.05zM233.45 304.3h2.05v8.82h-2.05zM233.45 313.02h2.05v8.82h-2.05zM233.45 321.75h2.05v8.82h-2.05zM235.24 147.25h2.05v8.82h-2.05zM235.24 286.85h2.05v8.82h-2.05zM235.24 304.3h2.05v8.82h-2.05zM237.04 86.17h2.05v8.82h-2.05zM237.04 147.25h2.05v8.82h-2.05zM238.84 86.17h2.05v8.82h-2.05zM238.84 147.25h2.05v8.82h-2.05zM238.84 173.43h2.05v8.82h-2.05zM238.84 208.32h2.05v8.82h-2.05zM238.84 391.55h2.05v8.82h-2.05zM240.64 86.17h2.05v8.82h-2.05zM240.64 260.67h2.05v8.82h-2.05zM240.64 382.82h2.05v8.82h-2.05zM242.44 121.07h2.05v8.82h-2.05zM242.44 304.3h2.05v8.82h-2.05zM244.24 94.9h2.05v8.82h-2.05zM244.24 112.35h2.05v8.82h-2.05zM244.24 243.22h2.05v8.82h-2.05zM244.24 382.82h2.05v8.82h-2.05zM244.24 400.27h2.05v8.82h-2.05zM246.03 68.72h2.05v8.82h-2.05zM246.03 94.9h2.05v8.82h-2.05zM246.03 121.07h2.05v8.82h-2.05zM246.03 129.8h2.05v8.82h-2.05zM246.03 243.22h2.05v8.82h-2.05zM246.03 269.4h2.05v8.82h-2.05zM246.03 278.12h2.05v8.82h-2.05zM246.03 286.85h2.05v8.82h-2.05zM246.03 313.02h2.05v8.82h-2.05zM246.03 382.82h2.05v8.82h-2.05zM246.03 391.55h2.05v8.82h-2.05zM246.03 400.27h2.05v8.82h-2.05zM247.83 234.5h2.05v8.82h-2.05zM247.83 286.85h2.05v8.82h-2.05zM247.83 295.57h2.05v8.82h-2.05zM249.63 129.8h2.05v8.82h-2.05zM249.63 295.57h2.05v8.82h-2.05zM249.63 321.75h2.05v8.82h-2.05zM249.63 356.65h2.05v8.82h-2.05zM249.63 400.27h2.05v8.82h-2.05zM251.43 112.35h2.05v8.82h-2.05zM251.43 164.7h2.05v8.82h-2.05zM251.43 190.88h2.05v8.82h-2.05zM251.43 269.4h2.05v8.82h-2.05zM251.43 295.57h2.05v8.82h-2.05zM251.43 321.75h2.05v8.82h-2.05zM253.23 155.97h2.05v8.82h-2.05zM253.23 269.4h2.05v8.82h-2.05zM253.23 321.75h2.05v8.82h-2.05zM253.23 400.27h2.05v8.82h-2.05zM255.03 77.45h2.05v8.82h-2.05zM255.03 94.9h2.05v8.82h-2.05zM255.03 129.8h2.05v8.82h-2.05zM255.03 138.52h2.05v8.82h-2.05zM255.03 269.4h2.05v8.82h-2.05zM255.03 391.55h2.05v8.82h-2.05zM256.82 77.45h2.05v8.82h-2.05zM256.82 234.5h2.05v8.82h-2.05zM256.82 313.02h2.05v8.82h-2.05zM256.82 365.38h2.05v8.82h-2.05zM258.62 251.95h2.05v8.82h-2.05zM258.62 295.57h2.05v8.82h-2.05zM258.62 365.38h2.05v8.82h-2.05zM258.62 382.82h2.05v8.82h-2.05zM258.62 391.55h2.05v8.82h-2.05zM258.62 400.27h2.05v8.82h-2.05zM260.42 234.5h2.05v8.82h-2.05zM260.42 243.22h2.05v8.82h-2.05zM260.42 278.12h2.05v8.82h-2.05zM260.42 304.3h2.05v8.82h-2.05zM260.42 321.75h2.05v8.82h-2.05zM262.22 60h2.05v8.82h-2.05zM262.22 391.55h2.05v8.82h-2.05zM264.02 68.72h2.05v8.82h-2.05zM264.02 103.62h2.05v8.82h-2.05zM264.02 225.78h2.05v8.82h-2.05zM264.02 243.22h2.05v8.82h-2.05zM264.02 286.85h2.05v8.82h-2.05zM264.02 347.93h2.05v8.82h-2.05zM264.02 356.65h2.05v8.82h-2.05zM264.02 382.82h2.05v8.82h-2.05zM265.82 112.35h2.05v8.82h-2.05zM265.82 138.52h2.05v8.82h-2.05zM265.82 391.55h2.05v8.82h-2.05zM267.61 251.95h2.05v8.82h-2.05zM269.41 77.45h2.05v8.82h-2.05zM269.41 269.4h2.05v8.82h-2.05zM269.41 295.57h2.05v8.82h-2.05zM269.41 321.75h2.05v8.82h-2.05zM271.21 60h2.05v8.82h-2.05zM271.21 251.95h2.05v8.82h-2.05zM271.21 295.57h2.05v8.82h-2.05zM273.01 121.07h2.05v8.82h-2.05zM273.01 138.52h2.05v8.82h-2.05zM274.81 77.45h2.05v8.82h-2.05zM274.81 94.9h2.05v8.82h-2.05zM274.81 112.35h2.05v8.82h-2.05zM274.81 164.7h2.05v8.82h-2.05zM274.81 208.32h2.05v8.82h-2.05zM276.61 103.62h2.05v8.82h-2.05zM278.4 103.62h2.05v8.82h-2.05zM278.4 129.8h2.05v8.82h-2.05zM278.4 243.22h2.05v8.82h-2.05zM278.4 251.95h2.05v8.82h-2.05zM278.4 278.12h2.05v8.82h-2.05zM278.4 313.02h2.05v8.82h-2.05zM278.4 321.75h2.05v8.82h-2.05zM280.2 304.3h2.05v8.82h-2.05zM280.2 321.75h2.05v8.82h-2.05zM280.2 330.47h2.05v8.82h-2.05z"/>
<path fill="#fbf9fb" d="M26 68.72h2.04v8.82h-2.04zM26 199.6h2.04v8.82h-2.04zM26 295.57h2.04v8.82h-2.04zM27.79 269.4h2.04v8.82h-2.04zM27.79 278.12h2.04v8.82h-2.04zM27.79 286.85h2.04v8.82h-2.04zM27.79 304.3h2.04v8.82h-2.04zM27.79 347.93h2.04v8.82h-2.04zM29.57 173.43h2.04v8.82h-2.04zM29.57 190.88h2.04v8.82h-2.04zM29.57 269.4h2.04v8.82h-2.04zM29.57 295.57h2.04v8.82h-2.04zM31.36 138.52h2.04v8.82h-2.04zM31.36 217.05h2.04v8.82h-2.04zM31.36 374.1h2.04v8.82h-2.04zM33.14 77.45h2.04v8.82h-2.04zM33.14 86.17h2.04v8.82h-2.04zM33.14 121.07h2.04v8.82h-2.04zM33.14 190.88h2.04v8.82h-2.04zM33.14 269.4h2.04v8.82h-2.04zM33.14 304.3h2.04v8.82h-2.04zM33.14 313.02h2.04v8.82h-2.04zM34.93 199.6h2.04v8.82h-2.04zM34.93 330.47h2.04v8.82h-2.04zM34.93 365.38h2.04v8.82h-2.04zM34.93 374.1h2.04v8.82h-2.04zM34.93 382.82h2.04v8.82h-2.04zM36.71 199.6h2.04v8.82h-2.04zM36.71 251.95h2.04v8.82h-2.04zM36.71 330.47h2.04v8.82h-2.04zM36.71 374.1h2.04v8.82h-2.04zM38.5 60h2.04v8.82h-2.04zM38.5 199.6h2.04v8.82h-2.04zM38.5 251.95h2.04v8.82h-2.04zM38.5 286.85h2.04v8.82h-2.04zM38.5 313.02h2.04v8.82h-2.04zM38.5 330.47h2.04v8.82h-2.04zM40.29 225.78h2.04v8.82h-2.04zM40.29 234.5h2.04v8.82h-2.04zM40.29 243.22h2.04v8.82h-2.04zM40.29 278.12h2.04v8.82h-2.04zM40.29 295.57h2.04v8.82h-2.04zM40.29 356.65h2.04v8.82h-2.04zM42.07 68.72h2.04v8.82h-2.04zM42.07 199.6h2.04v8.82h-2.04zM42.07 208.32h2.04v8.82h-2.04zM42.07 251.95h2.04v8.82h-2.04zM42.07 295.57h2.04v8.82h-2.04zM43.86 60h2.04v8.82h-2.04zM43.86 339.2h2.04v8.82h-2.04zM43.86 347.93h2.04v8.82h-2.04zM45.64 68.72h2.04v8.82h-2.04zM45.64 278.12h2.04v8.82h-2.04zM45.64 295.57h2.04v8.82h-2.04zM45.64 330.47h2.04v8.82h-2.04zM45.64 347.93h2.04v8.82h-2.04zM45.64 382.82h2.04v8.82h-2.04zM47.43 147.25h2.04v8.82h-2.04zM47.43 225.78h2.04v8.82h-2.04zM47.43 251.95h2.04v8.82h-2.04zM47.43 260.67h2.04v8.82h-2.04zM47.43 278.12h2.04v8.82h-2.04zM47.43 400.27h2.04v8.82h-2.04zM49.21 60h2.04v8.82h-2.04zM49.21 260.67h2.04v8.82h-2.04zM49.21 286.85h2.04v8.82h-2.04zM49.21 304.3h2.04v8.82h-2.04zM49.21 365.38h2.04v8.82h-2.04zM51 295.57h2.04v8.82h-2.04zM51 304.3h2.04v8.82h-2.04zM51 339.2h2.04v8.82h-2.04zM51 356.65h2.04v8.82h-2.04zM51 365.38h2.04v8.82h-2.04zM52.79 190.88h2.04v8.82h-2.04zM52.79 243.22h2.04v8.82h-2.04zM52.79 260.67h2.04v8.82h-2.04zM52.79 339.2h2.04v8.82h-2.04zM52.79 356.65h2.04v8.82h-2.04zM54.57 347.93h2.04v8.82h-2.04zM56.36 121.07h2.04v8.82h-2.04zM56.36 164.7h2.04v8.82h-2.04zM56.36 173.43h2.04v8.82h-2.04zM56.36 182.15h2.04v8.82h-2.04zM56.36 278.12h2.04v8.82h-2.04zM56.36 321.75h2.04v8.82h-2.04zM56.36 339.2h2.04v8.82h-2.04zM58.14 86.17h2.04v8.82h-2.04zM58.14 112.35h2.04v8.82h-2.04zM58.14 199.6h2.04v8.82h-2.04zM58.14 208.32h2.04v8.82h-2.04zM58.14 217.05h2.04v8.82h-2.04zM58.14 269.4h2.04v8.82h-2.04zM58.14 321.75h2.04v8.82h-2.04zM59.93 182.15h2.04v8.82h-2.04zM59.93 199.6h2.04v8.82h-2.04zM59.93 269.4h2.04v8.82h-2.04zM59.93 304.3h2.04v8.82h-2.04zM61.71 199.6h2.04v8.82h-2.04zM61.71 243.22h2.04v8.82h-2.04zM63.5 190.88h2.04v8.82h-2.04zM63.5 234.5h2.04v8.82h-2.04zM63.5 321.75h2.04v8.82h-2.04zM65.29 60h2.04v8.82h-2.04zM65.29 86.17h2.04v8.82h-2.04zM65.29 199.6h2.04v8.82h-2.04zM65.29 382.82h2.04v8.82h-2.04zM65.29 391.55h2.04v8.82h-2.04zM65.29 400.27h2.04v8.82h-2.04zM67.07 190.88h2.04v8.82h-2.04zM67.07 278.12h2.04v8.82h-2.04zM68.86 304.3h2.04v8.82h-2.04zM70.64 86.17h2.04v8.82h-2.04zM70.64 182.15h2.04v8.82h-2.04zM70.64 190.88h2.04v8.82h-2.04zM70.64 243.22h2.04v8.82h-2.04zM70.64 330.47h2.04v8.82h-2.04zM70.64 400.27h2.04v8.82h-2.04zM72.43 103.62h2.04v8.82h-2.04zM72.43 112.35h2.04v8.82h-2.04zM72.43 129.8h2.04v8.82h-2.04zM72.43 173.43h2.04v8.82h-2.04zM72.43 339.2h2.04v8.82h-2.04zM72.43 365.38h2.04v8.82h-2.04zM74.21 60h2.04v8.82h-2.04zM74.21 68.72h2.04v8.82h-2.04zM74.21 86.17h2.04v8.82h-2.04zM74.21 94.9h2.04v8.82h-2.04zM74.21 138.52h2.04v8.82h-2.04zM74.21 234.5h2.04v8.82h-2.04zM74.21 260.67h2.04v8.82h-2.04zM74.21 278.12h2.04v8.82h-2.04zM76 121.07h2.04v8.82h-2.04zM76 155.97h2.04v8.82h-2.04zM76 164.7h2.04v8.82h-2.04zM76 182.15h2.04v8.82h-2.04zM76 190.88h2.04v8.82h-2.04zM76 208.32h2.04v8.82h-2.04zM76 217.05h2.04v8.82h-2.04zM76 278.12h2.04v8.82h-2.04zM76 304.3h2.04v8.82h-2.04zM77.79 164.7h2.04v8.82h-2.04zM77.79 173.43h2.04v8.82h-2.04zM77.79 199.6h2.04v8.82h-2.04zM77.79 208.32h2.04v8.82h-2.04zM77.79 234.5h2.04v8.82h-2.04zM77.79 243.22h2.04v8.82h-2.04zM77.79 278.12h2.04v8.82h-2.04zM77.79 286.85h2.04v8.82h-2.04zM77.79 313.02h2.04v8.82h-2.04zM77.79 321.75h2.04v8.82h-2.04zM77.79 347.93h2.04v8.82h-2.04zM77.79 382.82h2.04v8.82h-2.04zM79.57 77.45h2.04v8.82h-2.04zM79.57 103.62h2.04v8.82h-2.04zM79.57 121.07h2.04v8.82h-2.04zM79.57 182.15h2.04v8.82h-2.04zM79.57 190.88h2.04v8.82h-2.04zM79.57 199.6h2.04v8.82h-2.04zM79.57 208.32h2.04v8.82h-2.04zM79.57 243.22h2.04v8.82h-2.04zM79.57 330.47h2.04v8.82h-2.04zM79.57 339.2h2.04v8.82h-2.04zM79.57 356.65h2.04v8.82h-2.04zM81.36 60h2.04v8.82h-2.04zM81.36 112.35h2.04v8.82h-2.04zM81.36 182.15h2.04v8.82h-2.04zM81.36 225.78h2.04v8.82h-2.04zM81.36 304.3h2.04v8.82h-2.04zM81.36 365.38h2.04v8.82h-2.04zM81.36 382.82h2.04v8.82h-2.04zM83.14 103.62h2.04v8.82h-2.04zM83.14 155.97h2.04v8.82h-2.04zM83.14 164.7h2.04v8.82h-2.04zM83.14 182.15h2.04v8.82h-2.04zM83.14 190.88h2.04v8.82h-2.04zM83.14 208.32h2.04v8.82h-2.04zM83.14 225.78h2.04v8.82h-2.04zM83.14 243.22h2.04v8.82h-2.04zM83.14 313.02h2.04v8.82h-2.04zM84.93 112.35h2.04v8.82h-2.04zM84.93 208.32h2.04v8.82h-2.04zM84.93 374.1h2.04v8.82h-2.04zM84.93 400.27h2.04v8.82h-2.04zM86.71 199.6h2.04v8.82h-2.04zM86.71 208.32h2.04v8.82h-2.04zM86.71 225.78h2.04v8.82h-2.04zM86.71 321.75h2.04v8.82h-2.04zM86.71 374.1h2.04v8.82h-2.04zM88.5 356.65h2.04v8.82h-2.04zM90.29 60h2.04v8.82h-2.04zM90.29 68.72h2.04v8.82h-2.04zM90.29 94.9h2.04v8.82h-2.04zM90.29 121.07h2.04v8.82h-2.04zM90.29 304.3h2.04v8.82h-2.04zM90.29 400.27h2.04v8.82h-2.04zM92.07 77.45h2.04v8.82h-2.04zM92.07 286.85h2.04v8.82h-2.04zM92.07 339.2h2.04v8.82h-2.04zM92.07 374.1h2.04v8.82h-2.04zM92.07 391.55h2.04v8.82h-2.04zM93.86 94.9h2.04v8.82h-2.04zM93.86 138.52h2.04v8.82h-2.04zM93.86 164.7h2.04v8.82h-2.04zM93.86 199.6h2.04v8.82h-2.04zM93.86 225.78h2.04v8.82h-2.04zM95.64 86.17h2.04v8.82h-2.04zM95.64 112.35h2.04v8.82h-2.04zM95.64 190.88h2.04v8.82h-2.04zM95.64 251.95h2.04v8.82h-2.04zM95.64 278.12h2.04v8.82h-2.04zM95.64 391.55h2.04v8.82h-2.04zM97.43 147.25h2.04v8.82h-2.04zM97.43 182.15h2.04v8.82h-2.04zM97.43 190.88h2.04v8.82h-2.04zM97.43 251.95h2.04v8.82h-2.04zM99.21 68.72h2.04v8.82h-2.04zM99.21 365.38h2.04v8.82h-2.04zM99.21 374.1h2.04v8.82h-2.04zM101 138.52h2.04v8.82h-2.04zM101 339.2h2.04v8.82h-2.04zM102.79 68.72h2.04v8.82h-2.04zM102.79 147.25h2.04v8.82h-2.04zM102.79 286.85h2.04v8.82h-2.04zM102.79 321.75h2.04v8.82h-2.04zM102.79 347.93h2.04v8.82h-2.04zM104.57 94.9h2.04v8.82h-2.04zM104.57 155.97h2.04v8.82h-2.04zM104.57 173.43h2.04v8.82h-2.04zM104.57 269.4h2.04v8.82h-2.04zM104.57 313.02h2.04v8.82h-2.04zM104.57 400.27h2.04v8.82h-2.04zM106.36 173.43h2.04v8.82h-2.04zM106.36 208.32h2.04v8.82h-2.04zM106.36 313.02h2.04v8.82h-2.04zM106.36 339.2h2.04v8.82h-2.04zM106.36 382.82h2.04v8.82h-2.04zM106.36 391.55h2.04v8.82h-2.04zM108.14 234.5h2.04v8.82h-2.04zM108.14 260.67h2.04v8.82h-2.04zM108.14 269.4h2.04v8.82h-2.04zM108.14 278.12h2.04v8.82h-2.04zM108.14 295.57h2.04v8.82h-2.04zM108.14 304.3h2.04v8.82h-2.04zM108.14 321.75h2.04v8.82h-2.04zM109.93 68.72h2.04v8.82h-2.04zM109.93 112.35h2.04v8.82h-2.04zM109.93 138.52h2.04v8.82h-2.04zM109.93 234.5h2.04v8.82h-2.04zM109.93 243.22h2.04v8.82h-2.04zM109.93 286.85h2.04v8.82h-2.04zM109.93 304.3h2.04v8.82h-2.04zM109.93 321.75h2.04v8.82h-2.04zM109.93 330.47h2.04v8.82h-2.04zM109.93 400.27h2.04v8.82h-2.04zM111.71 68.72h2.04v8.82h-2.04zM111.71 217.05h2.04v8.82h-2.04zM111.71 330.47h2.04v8.82h-2.04zM111.71 347.93h2.04v8.82h-2.04zM113.5 77.45h2.04v8.82h-2.04zM113.5 121.07h2.04v8.82h-2.04zM113.5 208.32h2.04v8.82h-2.04zM113.5 295.57h2.04v8.82h-2.04zM113.5 365.38h2.04v8.82h-2.04zM115.29 94.9h2.04v8.82h-2.04zM115.29 147.25h2.04v8.82h-2.04zM115.29 217.05h2.04v8.82h-2.04zM115.29 278.12h2.04v8.82h-2.04zM115.29 304.3h2.04v8.82h-2.04zM115.29 321.75h2.04v8.82h-2.04zM115.29 330.47h2.04v8.82h-2.04zM115.29 365.38h2.04v8.82h-2.04zM115.29 374.1h2.04v8.82h-2.04zM115.29 400.27h2.04v8.82h-2.04zM117.07 77.45h2.04v8.82h-2.04zM118.86 68.72h2.04v8.82h-2.04zM118.86 77.45h2.04v8.82h-2.04zM118.86 155.97h2.04v8.82h-2.04zM118.86 313.02h2.04v8.82h-2.04zM118.86 374.1h2.04v8.82h-2.04zM120.64 251.95h2.04v8.82h-2.04zM120.64 365.38h2.04v8.82h-2.04zM122.43 155.97h2.04v8.82h-2.04zM122.43 234.5h2.04v8.82h-2.04zM122.43 251.95h2.04v8.82h-2.04zM122.43 260.67h2.04v8.82h-2.04zM122.43 374.1h2.04v8.82h-2.04zM122.43 400.27h2.04v8.82h-2.04zM124.21 94.9h2.04v8.82h-2.04zM124.21 103.62h2.04v8.82h-2.04zM124.21 121.07h2.04v8.82h-2.04zM124.21 138.52h2.04v8.82h-2.04zM124.21 182.15h2.04v8.82h-2.04zM126 112.35h2.04v8.82h-2.04zM126 129.8h2.04v8.82h-2.04zM126 147.25h2.04v8.82h-2.04zM126 313.02h2.04v8.82h-2.04zM127.79 103.62h2.04v8.82h-2.04zM127.79 112.35h2.04v8.82h-2.04zM127.79 234.5h2.04v8.82h-2.04zM129.57 138.52h2.04v8.82h-2.04zM129.57 147.25h2.04v8.82h-2.04zM129.57 155.97h2.04v8.82h-2.04zM129.57 182.15h2.04v8.82h-2.04zM129.57 199.6h2.04v8.82h-2.04zM129.57 295.57h2.04v8.82h-2.04zM129.57 365.38h2.04v8.82h-2.04zM129.57 391.55h2.04v8.82h-2.04zM131.36 304.3h2.04v8.82h-2.04zM133.14 138.52h2.04v8.82h-2.04zM133.14 173.43h2.04v8.82h-2.04zM133.14 347.93h2.04v8.82h-2.04zM133.14 391.55h2.04v8.82h-2.04zM133.14 400.27h2.04v8.82h-2.04zM134.93 147.25h2.04v8.82h-2.04zM134.93 190.88h2.04v8.82h-2.04zM136.71 155.97h2.04v8.82h-2.04zM136.71 313.02h2.04v8.82h-2.04zM138.5 60h2.04v8.82h-2.04zM138.5 173.43h2.04v8.82h-2.04zM138.5 374.1h2.04v8.82h-2.04zM140.29 138.52h2.04v8.82h-2.04zM140.29 234.5h2.04v8.82h-2.04zM140.29 243.22h2.04v8.82h-2.04zM140.29 260.67h2.04v8.82h-2.04zM140.29 391.55h2.04v8.82h-2.04zM142.07 112.35h2.04v8.82h-2.04zM142.07 251.95h2.04v8.82h-2.04zM142.07 260.67h2.04v8.82h-2.04zM142.07 269.4h2.04v8.82h-2.04zM142.07 286.85h2.04v8.82h-2.04zM142.07 295.57h2.04v8.82h-2.04zM142.07 304.3h2.04v8.82h-2.04zM142.07 321.75h2.04v8.82h-2.04zM143.86 182.15h2.04v8.82h-2.04zM143.86 313.02h2.04v8.82h-2.04zM145.64 103.62h2.04v8.82h-2.04zM145.64 234.5h2.04v8.82h-2.04zM145.64 260.67h2.04v8.82h-2.04zM145.64 321.75h2.04v8.82h-2.04zM147.43 86.17h2.04v8.82h-2.04zM147.43 164.7h2.04v8.82h-2.04zM147.43 173.43h2.04v8.82h-2.04zM147.43 304.3h2.04v8.82h-2.04zM147.43 313.02h2.04v8.82h-2.04zM147.43 321.75h2.04v8.82h-2.04zM149.21 164.7h2.04v8.82h-2.04zM149.21 190.88h2.04v8.82h-2.04zM149.21 400.27h2.04v8.82h-2.04zM151 77.45h2.04v8.82h-2.04zM151 86.17h2.04v8.82h-2.04zM151 164.7h2.04v8.82h-2.04zM151 173.43h2.04v8.82h-2.04zM151 182.15h2.04v8.82h-2.04zM151 190.88h2.04v8.82h-2.04zM151 208.32h2.04v8.82h-2.04zM151 330.47h2.04v8.82h-2.04zM152.79 129.8h2.04v8.82h-2.04zM152.79 260.67h2.04v8.82h-2.04zM152.79 278.12h2.04v8.82h-2.04zM152.79 286.85h2.04v8.82h-2.04zM152.79 304.3h2.04v8.82h-2.04zM154.57 94.9h2.04v8.82h-2.04zM154.57 112.35h2.04v8.82h-2.04zM156.36 86.17h2.04v8.82h-2.04zM156.36 138.52h2.04v8.82h-2.04zM156.36 147.25h2.04v8.82h-2.04zM156.36 374.1h2.04v8.82h-2.04zM156.36 400.27h2.04v8.82h-2.04zM158.14 313.02h2.04v8.82h-2.04zM161.71 86.17h2.04v8.82h-2.04zM161.71 138.52h2.04v8.82h-2.04zM161.71 164.7h2.04v8.82h-2.04zM163.5 68.72h2.04v8.82h-2.04zM163.5 173.43h2.04v8.82h-2.04zM163.5 304.3h2.04v8.82h-2.04zM165.29 60h2.04v8.82h-2.04zM165.29 68.72h2.04v8.82h-2.04zM165.29 94.9h2.04v8.82h-2.04zM165.29 147.25h2.04v8.82h-2.04zM165.29 208.32h2.04v8.82h-2.04zM165.29 304.3h2.04v8.82h-2.04zM167.07 68.72h2.04v8.82h-2.04zM167.07 77.45h2.04v8.82h-2.04zM167.07 112.35h2.04v8.82h-2.04zM167.07 138.52h2.04v8.82h-2.04zM167.07 147.25h2.04v8.82h-2.04zM167.07 295.57h2.04v8.82h-2.04zM170.64 60h2.04v8.82h-2.04zM170.64 94.9h2.04v8.82h-2.04zM170.64 129.8h2.04v8.82h-2.04zM170.64 138.52h2.04v8.82h-2.04zM170.64 164.7h2.04v8.82h-2.04zM172.43 112.35h2.04v8.82h-2.04zM172.43 190.88h2.04v8.82h-2.04zM174.21 86.17h2.04v8.82h-2.04zM174.21 103.62h2.04v8.82h-2.04zM174.21 278.12h2.04v8.82h-2.04zM177.7 121.07h2.05v8.82h-2.05zM177.7 208.32h2.05v8.82h-2.05zM177.7 251.95h2.05v8.82h-2.05zM177.7 278.12h2.05v8.82h-2.05zM179.5 68.72h2.05v8.82h-2.05zM179.5 164.7h2.05v8.82h-2.05zM179.5 182.15h2.05v8.82h-2.05zM179.5 208.32h2.05v8.82h-2.05zM179.5 278.12h2.05v8.82h-2.05zM179.5 313.02h2.05v8.82h-2.05zM179.5 339.2h2.05v8.82h-2.05zM179.5 347.93h2.05v8.82h-2.05zM181.3 199.6h2.05v8.82h-2.05zM181.3 234.5h2.05v8.82h-2.05zM181.3 286.85h2.05v8.82h-2.05zM181.3 313.02h2.05v8.82h-2.05zM181.3 365.38h2.05v8.82h-2.05zM181.3 374.1h2.05v8.82h-2.05zM181.3 400.27h2.05v8.82h-2.05zM183.09 190.88h2.05v8.82h-2.05zM183.09 251.95h2.05v8.82h-2.05zM184.89 208.32h2.05v8.82h-2.05zM184.89 278.12h2.05v8.82h-2.05zM184.89 365.38h2.05v8.82h-2.05zM186.69 86.17h2.05v8.82h-2.05zM186.69 278.12h2.05v8.82h-2.05zM186.69 295.57h2.05v8.82h-2.05zM186.69 330.47h2.05v8.82h-2.05zM186.69 347.93h2.05v8.82h-2.05zM188.49 182.15h2.05v8.82h-2.05zM188.49 251.95h2.05v8.82h-2.05zM188.49 295.57h2.05v8.82h-2.05zM190.29 60h2.05v8.82h-2.05zM190.29 94.9h2.05v8.82h-2.05zM190.29 112.35h2.05v8.82h-2.05zM190.29 121.07h2.05v8.82h-2.05zM190.29 138.52h2.05v8.82h-2.05zM190.29 182.15h2.05v8.82h-2.05zM190.29 208.32h2.05v8.82h-2.05zM190.29 234.5h2.05v8.82h-2.05zM190.29 251.95h2.05v8.82h-2.05zM190.29 286.85h2.05v8.82h-2.05zM192.09 190.88h2.05v8.82h-2.05zM192.09 295.57h2.05v8.82h-2.05zM192.09 330.47h2.05v8.82h-2.05zM193.88 234.5h2.05v8.82h-2.05zM193.88 251.95h2.05v8.82h-2.05zM193.88 269.4h2.05v8.82h-2.05zM193.88 339.2h2.05v8.82h-2.05zM193.88 382.82h2.05v8.82h-2.05zM195.68 77.45h2.05v8.82h-2.05zM195.68 129.8h2.05v8.82h-2.05zM195.68 138.52h2.05v8.82h-2.05zM195.68 304.3h2.05v8.82h-2.05zM195.68 347.93h2.05v8.82h-2.05zM195.68 374.1h2.05v8.82h-2.05zM195.68 382.82h2.05v8.82h-2.05zM195.68 391.55h2.05v8.82h-2.05zM195.68 400.27h2.05v8.82h-2.05zM197.48 164.7h2.05v8.82h-2.05zM197.48 190.88h2.05v8.82h-2.05zM197.48 260.67h2.05v8.82h-2.05zM197.48 278.12h2.05v8.82h-2.05zM197.48 304.3h2.05v8.82h-2.05zM197.48 313.02h2.05v8.82h-2.05zM197.48 339.2h2.05v8.82h-2.05zM197.48 356.65h2.05v8.82h-2.05zM199.28 234.5h2.05v8.82h-2.05zM199.28 251.95h2.05v8.82h-2.05zM199.28 286.85h2.05v8.82h-2.05zM199.28 347.93h2.05v8.82h-2.05zM201.08 77.45h2.05v8.82h-2.05zM201.08 112.35h2.05v8.82h-2.05zM201.08 129.8h2.05v8.82h-2.05zM201.08 182.15h2.05v8.82h-2.05zM201.08 234.5h2.05v8.82h-2.05zM201.08 278.12h2.05v8.82h-2.05zM201.08 295.57h2.05v8.82h-2.05zM201.08 356.65h2.05v8.82h-2.05zM202.88 138.52h2.05v8.82h-2.05zM202.88 182.15h2.05v8.82h-2.05zM202.88 190.88h2.05v8.82h-2.05zM202.88 286.85h2.05v8.82h-2.05zM202.88 295.57h2.05v8.82h-2.05zM202.88 304.3h2.05v8.82h-2.05zM202.88 391.55h2.05v8.82h-2.05zM204.67 269.4h2.05v8.82h-2.05zM204.67 278.12h2.05v8.82h-2.05zM206.47 190.88h2.05v8.82h-2.05zM206.47 208.32h2.05v8.82h-2.05zM206.47 217.05h2.05v8.82h-2.05zM206.47 278.12h2.05v8.82h-2.05zM206.47 374.1h2.05v8.82h-2.05zM208.27 77.45h2.05v8.82h-2.05zM208.27 147.25h2.05v8.82h-2.05zM208.27 173.43h2.05v8.82h-2.05zM208.27 199.6h2.05v8.82h-2.05zM208.27 225.78h2.05v8.82h-2.05zM208.27 251.95h2.05v8.82h-2.05zM208.27 374.1h2.05v8.82h-2.05zM208.27 400.27h2.05v8.82h-2.05zM210.07 155.97h2.05v8.82h-2.05zM210.07 164.7h2.05v8.82h-2.05zM210.07 199.6h2.05v8.82h-2.05zM210.07 225.78h2.05v8.82h-2.05zM210.07 278.12h2.05v8.82h-2.05zM210.07 286.85h2.05v8.82h-2.05zM210.07 295.57h2.05v8.82h-2.05zM210.07 321.75h2.05v8.82h-2.05zM211.87 60h2.05v8.82h-2.05zM211.87 112.35h2.05v8.82h-2.05zM211.87 164.7h2.05v8.82h-2.05zM211.87 234.5h2.05v8.82h-2.05zM211.87 251.95h2.05v8.82h-2.05zM211.87 286.85h2.05v8.82h-2.05zM211.87 321.75h2.05v8.82h-2.05zM211.87 339.2h2.05v8.82h-2.05zM213.67 68.72h2.05v8.82h-2.05zM213.67 164.7h2.05v8.82h-2.05zM213.67 182.15h2.05v8.82h-2.05zM213.67 243.22h2.05v8.82h-2.05zM213.67 260.67h2.05v8.82h-2.05zM213.67 269.4h2.05v8.82h-2.05zM213.67 295.57h2.05v8.82h-2.05zM213.67 321.75h2.05v8.82h-2.05zM215.46 68.72h2.05v8.82h-2.05zM215.46 94.9h2.05v8.82h-2.05zM215.46 129.8h2.05v8.82h-2.05zM215.46 155.97h2.05v8.82h-2.05zM215.46 190.88h2.05v8.82h-2.05zM215.46 208.32h2.05v8.82h-2.05zM215.46 217.05h2.05v8.82h-2.05zM215.46 260.67h2.05v8.82h-2.05zM215.46 286.85h2.05v8.82h-2.05zM215.46 374.1h2.05v8.82h-2.05zM215.46 382.82h2.05v8.82h-2.05zM215.46 391.55h2.05v8.82h-2.05zM217.26 77.45h2.05v8.82h-2.05zM217.26 129.8h2.05v8.82h-2.05zM217.26 147.25h2.05v8.82h-2.05zM217.26 155.97h2.05v8.82h-2.05zM219.06 155.97h2.05v8.82h-2.05zM219.06 251.95h2.05v8.82h-2.05zM219.06 365.38h2.05v8.82h-2.05zM220.86 68.72h2.05v8.82h-2.05zM220.86 86.17h2.05v8.82h-2.05zM220.86 103.62h2.05v8.82h-2.05zM220.86 112.35h2.05v8.82h-2.05zM220.86 138.52h2.05v8.82h-2.05zM220.86 243.22h2.05v8.82h-2.05zM220.86 304.3h2.05v8.82h-2.05zM220.86 313.02h2.05v8.82h-2.05zM220.86 330.47h2.05v8.82h-2.05zM222.66 94.9h2.05v8.82h-2.05zM222.66 147.25h2.05v8.82h-2.05zM222.66 155.97h2.05v8.82h-2.05zM222.66 286.85h2.05v8.82h-2.05zM222.66 295.57h2.05v8.82h-2.05zM222.66 321.75h2.05v8.82h-2.05zM222.66 339.2h2.05v8.82h-2.05zM222.66 356.65h2.05v8.82h-2.05zM222.66 391.55h2.05v8.82h-2.05zM224.46 286.85h2.05v8.82h-2.05zM226.25 138.52h2.05v8.82h-2.05zM226.25 164.7h2.05v8.82h-2.05zM226.25 217.05h2.05v8.82h-2.05zM226.25 243.22h2.05v8.82h-2.05zM226.25 260.67h2.05v8.82h-2.05zM226.25 295.57h2.05v8.82h-2.05zM226.25 321.75h2.05v8.82h-2.05zM226.25 339.2h2.05v8.82h-2.05zM226.25 400.27h2.05v8.82h-2.05zM228.05 68.72h2.05v8.82h-2.05zM228.05 129.8h2.05v8.82h-2.05zM228.05 138.52h2.05v8.82h-2.05zM228.05 251.95h2.05v8.82h-2.05zM228.05 321.75h2.05v8.82h-2.05zM228.05 347.93h2.05v8.82h-2.05zM228.05 365.38h2.05v8.82h-2.05zM229.85 121.07h2.05v8.82h-2.05zM229.85 138.52h2.05v8.82h-2.05zM229.85 155.97h2.05v8.82h-2.05zM229.85 217.05h2.05v8.82h-2.05zM229.85 225.78h2.05v8.82h-2.05zM229.85 260.67h2.05v8.82h-2.05zM229.85 269.4h2.05v8.82h-2.05zM229.85 295.57h2.05v8.82h-2.05zM229.85 304.3h2.05v8.82h-2.05zM231.65 86.17h2.05v8.82h-2.05zM231.65 121.07h2.05v8.82h-2.05zM231.65 234.5h2.05v8.82h-2.05zM231.65 251.95h2.05v8.82h-2.05zM231.65 269.4h2.05v8.82h-2.05zM231.65 278.12h2.05v8.82h-2.05zM231.65 304.3h2.05v8.82h-2.05zM231.65 313.02h2.05v8.82h-2.05zM231.65 330.47h2.05v8.82h-2.05zM231.65 347.93h2.05v8.82h-2.05zM231.65 391.55h2.05v8.82h-2.05zM233.45 173.43h2.05v8.82h-2.05zM233.45 225.78h2.05v8.82h-2.05zM233.45 286.85h2.05v8.82h-2.05zM233.45 382.82h2.05v8.82h-2.05zM235.24 182.15h2.05v8.82h-2.05zM235.24 190.88h2.05v8.82h-2.05zM235.24 199.6h2.05v8.82h-2.05zM235.24 217.05h2.05v8.82h-2.05zM235.24 269.4h2.05v8.82h-2.05zM235.24 391.55h2.05v8.82h-2.05zM237.04 60h2.05v8.82h-2.05zM237.04 112.35h2.05v8.82h-2.05zM238.84 77.45h2.05v8.82h-2.05zM238.84 112.35h2.05v8.82h-2.05zM238.84 121.07h2.05v8.82h-2.05zM238.84 138.52h2.05v8.82h-2.05zM238.84 295.57h2.05v8.82h-2.05zM238.84 330.47h2.05v8.82h-2.05zM238.84 339.2h2.05v8.82h-2.05zM240.64 94.9h2.05v8.82h-2.05zM240.64 121.07h2.05v8.82h-2.05zM240.64 164.7h2.05v8.82h-2.05zM240.64 182.15h2.05v8.82h-2.05zM240.64 217.05h2.05v8.82h-2.05zM240.64 243.22h2.05v8.82h-2.05zM240.64 269.4h2.05v8.82h-2.05zM240.64 304.3h2.05v8.82h-2.05zM240.64 339.2h2.05v8.82h-2.05zM240.64 347.93h2.05v8.82h-2.05zM240.64 374.1h2.05v8.82h-2.05zM240.64 391.55h2.05v8.82h-2.05zM240.64 400.27h2.05v8.82h-2.05zM242.44 94.9h2.05v8.82h-2.05zM242.44 112.35h2.05v8.82h-2.05zM242.44 129.8h2.05v8.82h-2.05zM242.44 138.52h2.05v8.82h-2.05zM242.44 147.25h2.05v8.82h-2.05zM242.44 164.7h2.05v8.82h-2.05zM242.44 286.85h2.05v8.82h-2.05zM242.44 391.55h2.05v8.82h-2.05zM244.24 68.72h2.05v8.82h-2.05zM244.24 103.62h2.05v8.82h-2.05zM244.24 121.07h2.05v8.82h-2.05zM244.24 199.6h2.05v8.82h-2.05zM244.24 286.85h2.05v8.82h-2.05zM244.24 321.75h2.05v8.82h-2.05zM246.03 112.35h2.05v8.82h-2.05zM246.03 190.88h2.05v8.82h-2.05zM246.03 347.93h2.05v8.82h-2.05zM246.03 365.38h2.05v8.82h-2.05zM246.03 374.1h2.05v8.82h-2.05zM247.83 68.72h2.05v8.82h-2.05zM247.83 86.17h2.05v8.82h-2.05zM247.83 94.9h2.05v8.82h-2.05zM247.83 112.35h2.05v8.82h-2.05zM247.83 155.97h2.05v8.82h-2.05zM247.83 164.7h2.05v8.82h-2.05zM247.83 173.43h2.05v8.82h-2.05zM247.83 182.15h2.05v8.82h-2.05zM247.83 208.32h2.05v8.82h-2.05zM247.83 278.12h2.05v8.82h-2.05zM247.83 347.93h2.05v8.82h-2.05zM249.63 68.72h2.05v8.82h-2.05zM249.63 86.17h2.05v8.82h-2.05zM249.63 112.35h2.05v8.82h-2.05zM249.63 269.4h2.05v8.82h-2.05zM249.63 313.02h2.05v8.82h-2.05zM249.63 347.93h2.05v8.82h-2.05zM249.63 374.1h2.05v8.82h-2.05zM249.63 382.82h2.05v8.82h-2.05zM251.43 147.25h2.05v8.82h-2.05zM251.43 251.95h2.05v8.82h-2.05zM253.23 217.05h2.05v8.82h-2.05zM253.23 243.22h2.05v8.82h-2.05zM253.23 278.12h2.05v8.82h-2.05zM253.23 365.38h2.05v8.82h-2.05zM255.03 68.72h2.05v8.82h-2.05zM255.03 330.47h2.05v8.82h-2.05zM255.03 365.38h2.05v8.82h-2.05zM256.82 60h2.05v8.82h-2.05zM256.82 68.72h2.05v8.82h-2.05zM256.82 86.17h2.05v8.82h-2.05zM258.62 304.3h2.05v8.82h-2.05zM258.62 339.2h2.05v8.82h-2.05zM258.62 356.65h2.05v8.82h-2.05zM258.62 374.1h2.05v8.82h-2.05zM260.42 260.67h2.05v8.82h-2.05zM260.42 286.85h2.05v8.82h-2.05zM260.42 330.47h2.05v8.82h-2.05zM260.42 400.27h2.05v8.82h-2.05zM262.22 330.47h2.05v8.82h-2.05zM262.22 347.93h2.05v8.82h-2.05zM262.22 374.1h2.05v8.82h-2.05zM264.02 155.97h2.05v8.82h-2.05zM264.02 217.05h2.05v8.82h-2.05zM264.02 251.95h2.05v8.82h-2.05zM264.02 313.02h2.05v8.82h-2.05zM265.82 68.72h2.05v8.82h-2.05zM265.82 251.95h2.05v8.82h-2.05zM267.61 199.6h2.05v8.82h-2.05zM267.61 225.78h2.05v8.82h-2.05zM267.61 295.57h2.05v8.82h-2.05zM267.61 304.3h2.05v8.82h-2.05zM267.61 321.75h2.05v8.82h-2.05zM267.61 382.82h2.05v8.82h-2.05zM269.41 94.9h2.05v8.82h-2.05zM269.41 243.22h2.05v8.82h-2.05zM269.41 278.12h2.05v8.82h-2.05zM269.41 286.85h2.05v8.82h-2.05zM269.41 313.02h2.05v8.82h-2.05zM269.41 347.93h2.05v8.82h-2.05zM271.21 286.85h2.05v8.82h-2.05zM273.01 260.67h2.05v8.82h-2.05zM273.01 269.4h2.05v8.82h-2.05zM273.01 313.02h2.05v8.82h-2.05zM273.01 391.55h2.05v8.82h-2.05zM273.01 400.27h2.05v8.82h-2.05zM274.81 103.62h2.05v8.82h-2.05zM274.81 182.15h2.05v8.82h-2.05zM274.81 190.88h2.05v8.82h-2.05zM274.81 199.6h2.05v8.82h-2.05zM274.81 225.78h2.05v8.82h-2.05zM274.81 234.5h2.05v8.82h-2.05zM274.81 295.57h2.05v8.82h-2.05zM274.81 382.82h2.05v8.82h-2.05zM276.61 260.67h2.05v8.82h-2.05zM276.61 278.12h2.05v8.82h-2.05zM276.61 321.75h2.05v8.82h-2.05zM276.61 382.82h2.05v8.82h-2.05zM278.4 286.85h2.05v8.82h-2.05zM280.2 60h2.05v8.82h-2.05zM280.2 121.07h2.05v8.82h-2.05zM280.2 199.6h2.05v8.82h-2.05zM280.2 208.32h2.05v8.82h-2.05z"/>
<path fill="#f29276" d="M26 77.45h2.04v8.82h-2.04zM26 86.17h2.04v8.82h-2.04zM27.79 86.17h2.04v8.82h-2.04zM27.79 103.62h2.04v8.82h-2.04zM27.79 365.38h2.04v8.82h-2.04zM31.36 391.55h2.04v8.82h-2.04zM33.14 94.9h2.04v8.82h-2.04zM34.93 60h2.04v8.82h-2.04zM36.71 77.45h2.04v8.82h-2.04zM36.71 94.9h2.04v8.82h-2.04zM36.71 400.27h2.04v8.82h-2.04zM38.5 356.65h2.04v8.82h-2.04zM40.29 68.72h2.04v8.82h-2.04zM40.29 94.9h2.04v8.82h-2.04zM40.29 103.62h2.04v8.82h-2.04zM42.07 94.9h2.04v8.82h-2.04zM42.07 173.43h2.04v8.82h-2.04zM42.07 330.47h2.04v8.82h-2.04zM42.07 347.93h2.04v8.82h-2.04zM42.07 365.38h2.04v8.82h-2.04zM45.64 103.62h2.04v8.82h-2.04zM45.64 138.52h2.04v8.82h-2.04zM47.43 339.2h2.04v8.82h-2.04zM49.21 103.62h2.04v8.82h-2.04zM49.21 243.22h2.04v8.82h-2.04zM51 103.62h2.04v8.82h-2.04zM51 129.8h2.04v8.82h-2.04zM52.79 68.72h2.04v8.82h-2.04zM52.79 94.9h2.04v8.82h-2.04zM52.79 199.6h2.04v8.82h-2.04zM54.57 103.62h2.04v8.82h-2.04zM54.57 112.35h2.04v8.82h-2.04zM54.57 121.07h2.04v8.82h-2.04zM54.57 129.8h2.04v8.82h-2.04zM56.36 77.45h2.04v8.82h-2.04zM56.36 94.9h2.04v8.82h-2.04zM56.36 103.62h2.04v8.82h-2.04zM59.93 339.2h2.04v8.82h-2.04zM59.93 382.82h2.04v8.82h-2.04zM61.71 77.45h2.04v8.82h-2.04zM61.71 86.17h2.04v8.82h-2.04zM61.71 129.8h2.04v8.82h-2.04zM61.71 374.1h2.04v8.82h-2.04zM61.71 400.27h2.04v8.82h-2.04zM63.5 129.8h2.04v8.82h-2.04zM63.5 374.1h2.04v8.82h-2.04zM65.29 103.62h2.04v8.82h-2.04zM65.29 138.52h2.04v8.82h-2.04zM65.29 260.67h2.04v8.82h-2.04zM67.07 330.47h2.04v8.82h-2.04zM67.07 339.2h2.04v8.82h-2.04zM67.07 347.93h2.04v8.82h-2.04zM67.07 382.82h2.04v8.82h-2.04zM68.86 86.17h2.04v8.82h-2.04zM68.86 129.8h2.04v8.82h-2.04zM68.86 138.52h2.04v8.82h-2.04zM68.86 382.82h2.04v8.82h-2.04zM70.64 77.45h2.04v8.82h-2.04zM70.64 112.35h2.04v8.82h-2.04zM70.64 138.52h2.04v8.82h-2.04zM70.64 225.78h2.04v8.82h-2.04zM72.43 391.55h2.04v8.82h-2.04zM74.21 304.3h2.04v8.82h-2.04zM74.21 339.2h2.04v8.82h-2.04zM74.21 391.55h2.04v8.82h-2.04zM74.21 400.27h2.04v8.82h-2.04zM76 112.35h2.04v8.82h-2.04zM76 243.22h2.04v8.82h-2.04zM76 365.38h2.04v8.82h-2.04zM77.79 94.9h2.04v8.82h-2.04zM79.57 68.72h2.04v8.82h-2.04zM81.36 68.72h2.04v8.82h-2.04zM81.36 243.22h2.04v8.82h-2.04zM81.36 260.67h2.04v8.82h-2.04zM81.36 295.57h2.04v8.82h-2.04zM83.14 68.72h2.04v8.82h-2.04zM83.14 330.47h2.04v8.82h-2.04zM83.14 339.2h2.04v8.82h-2.04zM83.14 356.65h2.04v8.82h-2.04zM83.14 374.1h2.04v8.82h-2.04zM84.93 182.15h2.04v8.82h-2.04zM84.93 199.6h2.04v8.82h-2.04zM84.93 260.67h2.04v8.82h-2.04zM86.71 251.95h2.04v8.82h-2.04zM86.71 313.02h2.04v8.82h-2.04zM86.71 400.27h2.04v8.82h-2.04zM88.5 86.17h2.04v8.82h-2.04zM88.5 121.07h2.04v8.82h-2.04zM88.5 129.8h2.04v8.82h-2.04zM88.5 382.82h2.04v8.82h-2.04zM92.07 243.22h2.04v8.82h-2.04zM92.07 304.3h2.04v8.82h-2.04zM92.07 313.02h2.04v8.82h-2.04zM93.86 251.95h2.04v8.82h-2.04zM93.86 339.2h2.04v8.82h-2.04zM93.86 374.1h2.04v8.82h-2.04zM93.86 391.55h2.04v8.82h-2.04zM95.64 164.7h2.04v8.82h-2.04zM95.64 217.05h2.04v8.82h-2.04zM95.64 225.78h2.04v8.82h-2.04zM99.21 243.22h2.04v8.82h-2.04zM99.21 269.4h2.04v8.82h-2.04zM99.21 304.3h2.04v8.82h-2.04zM101 147.25h2.04v8.82h-2.04zM101 190.88h2.04v8.82h-2.04zM101 225.78h2.04v8.82h-2.04zM101 321.75h2.04v8.82h-2.04zM101 330.47h2.04v8.82h-2.04zM101 374.1h2.04v8.82h-2.04zM104.57 243.22h2.04v8.82h-2.04zM106.36 234.5h2.04v8.82h-2.04zM106.36 251.95h2.04v8.82h-2.04zM106.36 278.12h2.04v8.82h-2.04zM106.36 295.57h2.04v8.82h-2.04zM108.14 155.97h2.04v8.82h-2.04zM108.14 164.7h2.04v8.82h-2.04zM108.14 182.15h2.04v8.82h-2.04zM108.14 225.78h2.04v8.82h-2.04zM108.14 251.95h2.04v8.82h-2.04zM109.93 147.25h2.04v8.82h-2.04zM109.93 173.43h2.04v8.82h-2.04zM109.93 199.6h2.04v8.82h-2.04zM109.93 208.32h2.04v8.82h-2.04zM109.93 225.78h2.04v8.82h-2.04zM109.93 295.57h2.04v8.82h-2.04zM111.71 243.22h2.04v8.82h-2.04zM111.71 321.75h2.04v8.82h-2.04zM113.5 129.8h2.04v8.82h-2.04zM115.29 208.32h2.04v8.82h-2.04zM117.07 68.72h2.04v8.82h-2.04zM117.07 164.7h2.04v8.82h-2.04zM117.07 295.57h2.04v8.82h-2.04zM118.86 86.17h2.04v8.82h-2.04zM120.64 155.97h2.04v8.82h-2.04zM120.64 199.6h2.04v8.82h-2.04zM120.64 225.78h2.04v8.82h-2.04zM122.43 286.85h2.04v8.82h-2.04zM122.43 304.3h2.04v8.82h-2.04zM126 208.32h2.04v8.82h-2.04zM126 243.22h2.04v8.82h-2.04zM126 251.95h2.04v8.82h-2.04zM126 269.4h2.04v8.82h-2.04zM127.79 155.97h2.04v8.82h-2.04zM127.79 190.88h2.04v8.82h-2.04zM127.79 208.32h2.04v8.82h-2.04zM129.57 260.67h2.04v8.82h-2.04zM129.57 330.47h2.04v8.82h-2.04zM131.36 243.22h2.04v8.82h-2.04zM131.36 321.75h2.04v8.82h-2.04zM133.14 164.7h2.04v8.82h-2.04zM133.14 199.6h2.04v8.82h-2.04zM133.14 225.78h2.04v8.82h-2.04zM133.14 313.02h2.04v8.82h-2.04zM134.93 173.43h2.04v8.82h-2.04zM134.93 217.05h2.04v8.82h-2.04zM134.93 251.95h2.04v8.82h-2.04zM134.93 269.4h2.04v8.82h-2.04zM136.71 251.95h2.04v8.82h-2.04zM136.71 269.4h2.04v8.82h-2.04zM136.71 278.12h2.04v8.82h-2.04zM138.5 190.88h2.04v8.82h-2.04zM138.5 234.5h2.04v8.82h-2.04zM138.5 243.22h2.04v8.82h-2.04zM140.29 208.32h2.04v8.82h-2.04zM142.07 199.6h2.04v8.82h-2.04zM143.86 190.88h2.04v8.82h-2.04zM143.86 208.32h2.04v8.82h-2.04zM143.86 234.5h2.04v8.82h-2.04zM143.86 251.95h2.04v8.82h-2.04zM143.86 304.3h2.04v8.82h-2.04zM145.64 68.72h2.04v8.82h-2.04zM145.64 164.7h2.04v8.82h-2.04zM145.64 190.88h2.04v8.82h-2.04zM145.64 217.05h2.04v8.82h-2.04zM147.43 243.22h2.04v8.82h-2.04zM147.43 278.12h2.04v8.82h-2.04zM151 199.6h2.04v8.82h-2.04zM151 295.57h2.04v8.82h-2.04zM151 304.3h2.04v8.82h-2.04zM152.79 147.25h2.04v8.82h-2.04zM152.79 182.15h2.04v8.82h-2.04zM152.79 208.32h2.04v8.82h-2.04zM154.57 173.43h2.04v8.82h-2.04zM154.57 234.5h2.04v8.82h-2.04zM154.57 243.22h2.04v8.82h-2.04zM154.57 321.75h2.04v8.82h-2.04zM156.36 295.57h2.04v8.82h-2.04zM158.14 182.15h2.04v8.82h-2.04zM158.14 234.5h2.04v8.82h-2.04zM158.14 251.95h2.04v8.82h-2.04zM158.14 304.3h2.04v8.82h-2.04zM158.14 321.75h2.04v8.82h-2.04zM161.71 182.15h2.04v8.82h-2.04zM161.71 217.05h2.04v8.82h-2.04zM161.71 234.5h2.04v8.82h-2.04zM161.71 260.67h2.04v8.82h-2.04zM163.5 225.78h2.04v8.82h-2.04zM163.5 243.22h2.04v8.82h-2.04zM163.5 251.95h2.04v8.82h-2.04zM163.5 295.57h2.04v8.82h-2.04zM165.29 295.57h2.04v8.82h-2.04zM168.86 182.15h2.04v8.82h-2.04zM168.86 269.4h2.04v8.82h-2.04zM170.64 208.32h2.04v8.82h-2.04zM170.64 269.4h2.04v8.82h-2.04zM170.64 286.85h2.04v8.82h-2.04zM170.64 295.57h2.04v8.82h-2.04zM172.43 225.78h2.04v8.82h-2.04zM172.43 251.95h2.04v8.82h-2.04zM172.43 304.3h2.04v8.82h-2.04zM174.21 190.88h2.04v8.82h-2.04zM174.21 199.6h2.04v8.82h-2.04zM174.21 217.05h2.04v8.82h-2.04zM174.21 234.5h2.04v8.82h-2.04zM177.7 77.45h2.05v8.82h-2.05zM177.7 182.15h2.05v8.82h-2.05zM177.7 374.1h2.05v8.82h-2.05zM179.5 77.45h2.05v8.82h-2.05zM179.5 112.35h2.05v8.82h-2.05zM181.3 86.17h2.05v8.82h-2.05zM183.09 60h2.05v8.82h-2.05zM183.09 68.72h2.05v8.82h-2.05zM183.09 121.07h2.05v8.82h-2.05zM183.09 347.93h2.05v8.82h-2.05zM184.89 94.9h2.05v8.82h-2.05zM184.89 103.62h2.05v8.82h-2.05zM184.89 121.07h2.05v8.82h-2.05zM184.89 147.25h2.05v8.82h-2.05zM186.69 68.72h2.05v8.82h-2.05zM188.49 121.07h2.05v8.82h-2.05zM188.49 321.75h2.05v8.82h-2.05zM188.49 330.47h2.05v8.82h-2.05zM188.49 356.65h2.05v8.82h-2.05zM190.29 339.2h2.05v8.82h-2.05zM190.29 382.82h2.05v8.82h-2.05zM192.09 68.72h2.05v8.82h-2.05zM192.09 234.5h2.05v8.82h-2.05zM192.09 286.85h2.05v8.82h-2.05zM192.09 304.3h2.05v8.82h-2.05zM193.88 94.9h2.05v8.82h-2.05zM193.88 103.62h2.05v8.82h-2.05zM193.88 313.02h2.05v8.82h-2.05zM193.88 356.65h2.05v8.82h-2.05zM195.68 94.9h2.05v8.82h-2.05zM197.48 199.6h2.05v8.82h-2.05zM199.28 60h2.05v8.82h-2.05zM199.28 68.72h2.05v8.82h-2.05zM199.28 77.45h2.05v8.82h-2.05zM199.28 138.52h2.05v8.82h-2.05zM201.08 365.38h2.05v8.82h-2.05zM202.88 60h2.05v8.82h-2.05zM202.88 121.07h2.05v8.82h-2.05zM202.88 382.82h2.05v8.82h-2.05zM204.67 77.45h2.05v8.82h-2.05zM204.67 112.35h2.05v8.82h-2.05zM204.67 138.52h2.05v8.82h-2.05zM204.67 330.47h2.05v8.82h-2.05zM206.47 68.72h2.05v8.82h-2.05zM206.47 365.38h2.05v8.82h-2.05zM210.07 60h2.05v8.82h-2.05zM210.07 374.1h2.05v8.82h-2.05zM211.87 278.12h2.05v8.82h-2.05zM213.67 278.12h2.05v8.82h-2.05zM213.67 313.02h2.05v8.82h-2.05zM213.67 391.55h2.05v8.82h-2.05zM213.67 400.27h2.05v8.82h-2.05zM215.46 60h2.05v8.82h-2.05zM215.46 77.45h2.05v8.82h-2.05zM215.46 103.62h2.05v8.82h-2.05zM215.46 182.15h2.05v8.82h-2.05zM215.46 365.38h2.05v8.82h-2.05zM219.06 138.52h2.05v8.82h-2.05zM220.86 147.25h2.05v8.82h-2.05zM220.86 164.7h2.05v8.82h-2.05zM220.86 225.78h2.05v8.82h-2.05zM222.66 60h2.05v8.82h-2.05zM222.66 173.43h2.05v8.82h-2.05zM222.66 182.15h2.05v8.82h-2.05zM222.66 234.5h2.05v8.82h-2.05zM224.46 60h2.05v8.82h-2.05zM224.46 86.17h2.05v8.82h-2.05zM224.46 121.07h2.05v8.82h-2.05zM228.05 60h2.05v8.82h-2.05zM228.05 155.97h2.05v8.82h-2.05zM228.05 164.7h2.05v8.82h-2.05zM228.05 225.78h2.05v8.82h-2.05zM229.85 147.25h2.05v8.82h-2.05zM229.85 173.43h2.05v8.82h-2.05zM229.85 234.5h2.05v8.82h-2.05zM229.85 339.2h2.05v8.82h-2.05zM229.85 347.93h2.05v8.82h-2.05zM231.65 60h2.05v8.82h-2.05zM231.65 164.7h2.05v8.82h-2.05zM235.24 77.45h2.05v8.82h-2.05zM235.24 94.9h2.05v8.82h-2.05zM235.24 155.97h2.05v8.82h-2.05zM235.24 356.65h2.05v8.82h-2.05zM237.04 164.7h2.05v8.82h-2.05zM237.04 278.12h2.05v8.82h-2.05zM237.04 295.57h2.05v8.82h-2.05zM237.04 365.38h2.05v8.82h-2.05zM238.84 313.02h2.05v8.82h-2.05zM242.44 243.22h2.05v8.82h-2.05zM242.44 365.38h2.05v8.82h-2.05zM244.24 155.97h2.05v8.82h-2.05zM244.24 173.43h2.05v8.82h-2.05zM246.03 182.15h2.05v8.82h-2.05zM249.63 182.15h2.05v8.82h-2.05zM249.63 199.6h2.05v8.82h-2.05zM251.43 182.15h2.05v8.82h-2.05zM251.43 339.2h2.05v8.82h-2.05zM251.43 347.93h2.05v8.82h-2.05zM251.43 391.55h2.05v8.82h-2.05zM255.03 182.15h2.05v8.82h-2.05zM255.03 208.32h2.05v8.82h-2.05zM255.03 217.05h2.05v8.82h-2.05zM256.82 155.97h2.05v8.82h-2.05zM260.42 199.6h2.05v8.82h-2.05zM260.42 217.05h2.05v8.82h-2.05zM260.42 225.78h2.05v8.82h-2.05zM262.22 251.95h2.05v8.82h-2.05zM267.61 155.97h2.05v8.82h-2.05zM267.61 217.05h2.05v8.82h-2.05zM267.61 278.12h2.05v8.82h-2.05zM267.61 286.85h2.05v8.82h-2.05zM267.61 330.47h2.05v8.82h-2.05zM267.61 339.2h2.05v8.82h-2.05zM267.61 365.38h2.05v8.82h-2.05zM269.41 173.43h2.05v8.82h-2.05zM271.21 155.97h2.05v8.82h-2.05zM271.21 339.2h2.05v8.82h-2.05zM271.21 347.93h2.05v8.82h-2.05zM271.21 356.65h2.05v8.82h-2.05zM271.21 365.38h2.05v8.82h-2.05zM273.01 164.7h2.05v8.82h-2.05zM273.01 182.15h2.05v8.82h-2.05zM273.01 208.32h2.05v8.82h-2.05zM273.01 225.78h2.05v8.82h-2.05zM273.01 278.12h2.05v8.82h-2.05zM273.01 356.65h2.05v8.82h-2.05zM274.81 321.75h2.05v8.82h-2.05zM274.81 330.47h2.05v8.82h-2.05zM274.81 356.65h2.05v8.82h-2.05zM276.61 182.15h2.05v8.82h-2.05zM276.61 400.27h2.05v8.82h-2.05zM278.4 147.25h2.05v8.82h-2.05zM278.4 164.7h2.05v8.82h-2.05zM278.4 182.15h2.05v8.82h-2.05zM278.4 225.78h2.05v8.82h-2.05zM278.4 356.65h2.05v8.82h-2.05zM280.2 217.05h2.05v8.82h-2.05z"/>
<path fill="#fae0da" d="M26 94.9h2.04v8.82h-2.04zM26 103.62h2.04v8.82h-2.04zM26 243.22h2.04v8.82h-2.04zM26 260.67h2.04v8.82h-2.04zM26 347.93h2.04v8.82h-2.04zM26 356.65h2.04v8.82h-2.04zM26 374.1h2.04v8.82h-2.04zM26 400.27h2.04v8.82h-2.04zM29.57 182.15h2.04v8.82h-2.04zM29.57 217.05h2.04v8.82h-2.04zM29.57 251.95h2.04v8.82h-2.04zM29.57 356.65h2.04v8.82h-2.04zM31.36 86.17h2.04v8.82h-2.04zM31.36 94.9h2.04v8.82h-2.04zM31.36 112.35h2.04v8.82h-2.04zM31.36 121.07h2.04v8.82h-2.04zM31.36 251.95h2.04v8.82h-2.04zM31.36 339.2h2.04v8.82h-2.04zM31.36 356.65h2.04v8.82h-2.04zM33.14 173.43h2.04v8.82h-2.04zM33.14 182.15h2.04v8.82h-2.04zM33.14 321.75h2.04v8.82h-2.04zM33.14 347.93h2.04v8.82h-2.04zM34.93 339.2h2.04v8.82h-2.04zM34.93 347.93h2.04v8.82h-2.04zM36.71 121.07h2.04v8.82h-2.04zM36.71 138.52h2.04v8.82h-2.04zM36.71 365.38h2.04v8.82h-2.04zM36.71 391.55h2.04v8.82h-2.04zM38.5 321.75h2.04v8.82h-2.04zM38.5 400.27h2.04v8.82h-2.04zM40.29 260.67h2.04v8.82h-2.04zM40.29 269.4h2.04v8.82h-2.04zM40.29 313.02h2.04v8.82h-2.04zM40.29 374.1h2.04v8.82h-2.04zM40.29 382.82h2.04v8.82h-2.04zM40.29 391.55h2.04v8.82h-2.04zM42.07 86.17h2.04v8.82h-2.04zM42.07 138.52h2.04v8.82h-2.04zM42.07 339.2h2.04v8.82h-2.04zM42.07 356.65h2.04v8.82h-2.04zM43.86 68.72h2.04v8.82h-2.04zM43.86 129.8h2.04v8.82h-2.04zM43.86 330.47h2.04v8.82h-2.04zM43.86 365.38h2.04v8.82h-2.04zM45.64 60h2.04v8.82h-2.04zM45.64 173.43h2.04v8.82h-2.04zM45.64 243.22h2.04v8.82h-2.04zM45.64 304.3h2.04v8.82h-2.04zM47.43 60h2.04v8.82h-2.04zM47.43 269.4h2.04v8.82h-2.04zM47.43 330.47h2.04v8.82h-2.04zM47.43 382.82h2.04v8.82h-2.04zM49.21 68.72h2.04v8.82h-2.04zM49.21 86.17h2.04v8.82h-2.04zM49.21 269.4h2.04v8.82h-2.04zM49.21 278.12h2.04v8.82h-2.04zM49.21 295.57h2.04v8.82h-2.04zM49.21 321.75h2.04v8.82h-2.04zM49.21 330.47h2.04v8.82h-2.04zM49.21 339.2h2.04v8.82h-2.04zM51 77.45h2.04v8.82h-2.04zM51 94.9h2.04v8.82h-2.04zM51 260.67h2.04v8.82h-2.04zM51 347.93h2.04v8.82h-2.04zM51 382.82h2.04v8.82h-2.04zM52.79 121.07h2.04v8.82h-2.04zM52.79 147.25h2.04v8.82h-2.04zM52.79 225.78h2.04v8.82h-2.04zM54.57 60h2.04v8.82h-2.04zM54.57 138.52h2.04v8.82h-2.04zM54.57 330.47h2.04v8.82h-2.04zM54.57 356.65h2.04v8.82h-2.04zM54.57 374.1h2.04v8.82h-2.04zM54.57 391.55h2.04v8.82h-2.04zM56.36 199.6h2.04v8.82h-2.04zM56.36 208.32h2.04v8.82h-2.04zM56.36 243.22h2.04v8.82h-2.04zM56.36 400.27h2.04v8.82h-2.04zM58.14 138.52h2.04v8.82h-2.04zM58.14 225.78h2.04v8.82h-2.04zM58.14 234.5h2.04v8.82h-2.04zM58.14 251.95h2.04v8.82h-2.04zM59.93 68.72h2.04v8.82h-2.04zM59.93 86.17h2.04v8.82h-2.04zM59.93 103.62h2.04v8.82h-2.04zM59.93 121.07h2.04v8.82h-2.04zM59.93 138.52h2.04v8.82h-2.04zM59.93 260.67h2.04v8.82h-2.04zM59.93 313.02h2.04v8.82h-2.04zM61.71 103.62h2.04v8.82h-2.04zM61.71 304.3h2.04v8.82h-2.04zM61.71 382.82h2.04v8.82h-2.04zM63.5 103.62h2.04v8.82h-2.04zM63.5 217.05h2.04v8.82h-2.04zM63.5 225.78h2.04v8.82h-2.04zM63.5 243.22h2.04v8.82h-2.04zM65.29 68.72h2.04v8.82h-2.04zM65.29 94.9h2.04v8.82h-2.04zM65.29 121.07h2.04v8.82h-2.04zM65.29 147.25h2.04v8.82h-2.04zM65.29 286.85h2.04v8.82h-2.04zM67.07 129.8h2.04v8.82h-2.04zM67.07 208.32h2.04v8.82h-2.04zM67.07 217.05h2.04v8.82h-2.04zM67.07 321.75h2.04v8.82h-2.04zM68.86 121.07h2.04v8.82h-2.04zM68.86 217.05h2.04v8.82h-2.04zM68.86 243.22h2.04v8.82h-2.04zM68.86 251.95h2.04v8.82h-2.04zM68.86 339.2h2.04v8.82h-2.04zM68.86 356.65h2.04v8.82h-2.04zM68.86 400.27h2.04v8.82h-2.04zM70.64 94.9h2.04v8.82h-2.04zM70.64 155.97h2.04v8.82h-2.04zM70.64 199.6h2.04v8.82h-2.04zM70.64 217.05h2.04v8.82h-2.04zM70.64 347.93h2.04v8.82h-2.04zM72.43 86.17h2.04v8.82h-2.04zM72.43 94.9h2.04v8.82h-2.04zM72.43 347.93h2.04v8.82h-2.04zM72.43 356.65h2.04v8.82h-2.04zM72.43 400.27h2.04v8.82h-2.04zM74.21 77.45h2.04v8.82h-2.04zM74.21 103.62h2.04v8.82h-2.04zM74.21 112.35h2.04v8.82h-2.04zM74.21 199.6h2.04v8.82h-2.04zM74.21 243.22h2.04v8.82h-2.04zM74.21 251.95h2.04v8.82h-2.04zM74.21 295.57h2.04v8.82h-2.04zM74.21 374.1h2.04v8.82h-2.04zM76 60h2.04v8.82h-2.04zM76 103.62h2.04v8.82h-2.04zM76 173.43h2.04v8.82h-2.04zM76 234.5h2.04v8.82h-2.04zM76 286.85h2.04v8.82h-2.04zM76 321.75h2.04v8.82h-2.04zM76 382.82h2.04v8.82h-2.04zM77.79 60h2.04v8.82h-2.04zM77.79 68.72h2.04v8.82h-2.04zM77.79 112.35h2.04v8.82h-2.04zM77.79 251.95h2.04v8.82h-2.04zM77.79 269.4h2.04v8.82h-2.04zM79.57 60h2.04v8.82h-2.04zM79.57 94.9h2.04v8.82h-2.04zM79.57 112.35h2.04v8.82h-2.04zM79.57 129.8h2.04v8.82h-2.04zM79.57 217.05h2.04v8.82h-2.04zM79.57 260.67h2.04v8.82h-2.04zM81.36 138.52h2.04v8.82h-2.04zM81.36 217.05h2.04v8.82h-2.04zM81.36 278.12h2.04v8.82h-2.04zM81.36 330.47h2.04v8.82h-2.04zM81.36 347.93h2.04v8.82h-2.04zM83.14 77.45h2.04v8.82h-2.04zM83.14 129.8h2.04v8.82h-2.04zM83.14 199.6h2.04v8.82h-2.04zM83.14 251.95h2.04v8.82h-2.04zM83.14 260.67h2.04v8.82h-2.04zM84.93 173.43h2.04v8.82h-2.04zM84.93 243.22h2.04v8.82h-2.04zM84.93 286.85h2.04v8.82h-2.04zM84.93 313.02h2.04v8.82h-2.04zM84.93 321.75h2.04v8.82h-2.04zM86.71 339.2h2.04v8.82h-2.04zM86.71 365.38h2.04v8.82h-2.04zM86.71 391.55h2.04v8.82h-2.04zM88.5 339.2h2.04v8.82h-2.04zM88.5 374.1h2.04v8.82h-2.04zM90.29 77.45h2.04v8.82h-2.04zM90.29 129.8h2.04v8.82h-2.04zM90.29 173.43h2.04v8.82h-2.04zM90.29 365.38h2.04v8.82h-2.04zM90.29 374.1h2.04v8.82h-2.04zM90.29 382.82h2.04v8.82h-2.04zM92.07 321.75h2.04v8.82h-2.04zM92.07 356.65h2.04v8.82h-2.04zM93.86 86.17h2.04v8.82h-2.04zM93.86 121.07h2.04v8.82h-2.04zM93.86 155.97h2.04v8.82h-2.04zM93.86 269.4h2.04v8.82h-2.04zM93.86 278.12h2.04v8.82h-2.04zM93.86 365.38h2.04v8.82h-2.04zM95.64 147.25h2.04v8.82h-2.04zM95.64 313.02h2.04v8.82h-2.04zM95.64 374.1h2.04v8.82h-2.04zM97.43 68.72h2.04v8.82h-2.04zM97.43 86.17h2.04v8.82h-2.04zM97.43 129.8h2.04v8.82h-2.04zM97.43 155.97h2.04v8.82h-2.04zM97.43 295.57h2.04v8.82h-2.04zM97.43 382.82h2.04v8.82h-2.04zM99.21 286.85h2.04v8.82h-2.04zM99.21 356.65h2.04v8.82h-2.04zM99.21 382.82h2.04v8.82h-2.04zM101 112.35h2.04v8.82h-2.04zM101 164.7h2.04v8.82h-2.04zM101 173.43h2.04v8.82h-2.04zM101 251.95h2.04v8.82h-2.04zM101 313.02h2.04v8.82h-2.04zM101 382.82h2.04v8.82h-2.04zM101 400.27h2.04v8.82h-2.04zM102.79 112.35h2.04v8.82h-2.04zM102.79 129.8h2.04v8.82h-2.04zM102.79 155.97h2.04v8.82h-2.04zM102.79 225.78h2.04v8.82h-2.04zM102.79 313.02h2.04v8.82h-2.04zM104.57 121.07h2.04v8.82h-2.04zM104.57 129.8h2.04v8.82h-2.04zM104.57 164.7h2.04v8.82h-2.04zM104.57 199.6h2.04v8.82h-2.04zM104.57 391.55h2.04v8.82h-2.04zM106.36 129.8h2.04v8.82h-2.04zM106.36 138.52h2.04v8.82h-2.04zM106.36 321.75h2.04v8.82h-2.04zM106.36 374.1h2.04v8.82h-2.04zM108.14 60h2.04v8.82h-2.04zM108.14 68.72h2.04v8.82h-2.04zM108.14 86.17h2.04v8.82h-2.04zM108.14 129.8h2.04v8.82h-2.04zM108.14 286.85h2.04v8.82h-2.04zM108.14 313.02h2.04v8.82h-2.04zM108.14 356.65h2.04v8.82h-2.04zM109.93 260.67h2.04v8.82h-2.04zM109.93 391.55h2.04v8.82h-2.04zM111.71 129.8h2.04v8.82h-2.04zM111.71 155.97h2.04v8.82h-2.04zM111.71 182.15h2.04v8.82h-2.04zM111.71 190.88h2.04v8.82h-2.04zM111.71 199.6h2.04v8.82h-2.04zM111.71 208.32h2.04v8.82h-2.04zM111.71 260.67h2.04v8.82h-2.04zM111.71 269.4h2.04v8.82h-2.04zM111.71 286.85h2.04v8.82h-2.04zM111.71 313.02h2.04v8.82h-2.04zM111.71 391.55h2.04v8.82h-2.04zM113.5 68.72h2.04v8.82h-2.04zM113.5 86.17h2.04v8.82h-2.04zM113.5 182.15h2.04v8.82h-2.04zM113.5 234.5h2.04v8.82h-2.04zM113.5 251.95h2.04v8.82h-2.04zM113.5 278.12h2.04v8.82h-2.04zM113.5 313.02h2.04v8.82h-2.04zM115.29 173.43h2.04v8.82h-2.04zM115.29 182.15h2.04v8.82h-2.04zM115.29 243.22h2.04v8.82h-2.04zM115.29 286.85h2.04v8.82h-2.04zM115.29 347.93h2.04v8.82h-2.04zM117.07 94.9h2.04v8.82h-2.04zM117.07 121.07h2.04v8.82h-2.04zM118.86 60h2.04v8.82h-2.04zM118.86 94.9h2.04v8.82h-2.04zM118.86 112.35h2.04v8.82h-2.04zM118.86 129.8h2.04v8.82h-2.04zM118.86 138.52h2.04v8.82h-2.04zM118.86 190.88h2.04v8.82h-2.04zM118.86 243.22h2.04v8.82h-2.04zM118.86 260.67h2.04v8.82h-2.04zM118.86 295.57h2.04v8.82h-2.04zM120.64 112.35h2.04v8.82h-2.04zM120.64 129.8h2.04v8.82h-2.04zM120.64 173.43h2.04v8.82h-2.04zM120.64 182.15h2.04v8.82h-2.04zM122.43 112.35h2.04v8.82h-2.04zM122.43 147.25h2.04v8.82h-2.04zM122.43 173.43h2.04v8.82h-2.04zM122.43 190.88h2.04v8.82h-2.04zM122.43 278.12h2.04v8.82h-2.04zM122.43 330.47h2.04v8.82h-2.04zM122.43 339.2h2.04v8.82h-2.04zM122.43 356.65h2.04v8.82h-2.04zM122.43 382.82h2.04v8.82h-2.04zM124.21 68.72h2.04v8.82h-2.04zM124.21 129.8h2.04v8.82h-2.04zM124.21 190.88h2.04v8.82h-2.04zM124.21 304.3h2.04v8.82h-2.04zM126 173.43h2.04v8.82h-2.04zM126 190.88h2.04v8.82h-2.04zM126 304.3h2.04v8.82h-2.04zM127.79 60h2.04v8.82h-2.04zM127.79 164.7h2.04v8.82h-2.04zM127.79 251.95h2.04v8.82h-2.04zM127.79 313.02h2.04v8.82h-2.04zM129.57 112.35h2.04v8.82h-2.04zM129.57 243.22h2.04v8.82h-2.04zM129.57 251.95h2.04v8.82h-2.04zM129.57 339.2h2.04v8.82h-2.04zM131.36 182.15h2.04v8.82h-2.04zM131.36 260.67h2.04v8.82h-2.04zM131.36 295.57h2.04v8.82h-2.04zM133.14 251.95h2.04v8.82h-2.04zM133.14 269.4h2.04v8.82h-2.04zM133.14 374.1h2.04v8.82h-2.04zM134.93 68.72h2.04v8.82h-2.04zM134.93 86.17h2.04v8.82h-2.04zM134.93 94.9h2.04v8.82h-2.04zM136.71 164.7h2.04v8.82h-2.04zM136.71 208.32h2.04v8.82h-2.04zM138.5 217.05h2.04v8.82h-2.04zM138.5 286.85h2.04v8.82h-2.04zM138.5 304.3h2.04v8.82h-2.04zM138.5 313.02h2.04v8.82h-2.04zM140.29 112.35h2.04v8.82h-2.04zM140.29 164.7h2.04v8.82h-2.04zM140.29 173.43h2.04v8.82h-2.04zM140.29 286.85h2.04v8.82h-2.04zM142.07 68.72h2.04v8.82h-2.04zM142.07 129.8h2.04v8.82h-2.04zM142.07 138.52h2.04v8.82h-2.04zM142.07 208.32h2.04v8.82h-2.04zM142.07 234.5h2.04v8.82h-2.04zM142.07 243.22h2.04v8.82h-2.04zM143.86 173.43h2.04v8.82h-2.04zM143.86 199.6h2.04v8.82h-2.04zM143.86 260.67h2.04v8.82h-2.04zM143.86 278.12h2.04v8.82h-2.04zM145.64 86.17h2.04v8.82h-2.04zM145.64 129.8h2.04v8.82h-2.04zM145.64 243.22h2.04v8.82h-2.04zM145.64 251.95h2.04v8.82h-2.04zM145.64 269.4h2.04v8.82h-2.04zM145.64 278.12h2.04v8.82h-2.04zM147.43 190.88h2.04v8.82h-2.04zM147.43 225.78h2.04v8.82h-2.04zM149.21 234.5h2.04v8.82h-2.04zM149.21 251.95h2.04v8.82h-2.04zM149.21 286.85h2.04v8.82h-2.04zM149.21 304.3h2.04v8.82h-2.04zM149.21 330.47h2.04v8.82h-2.04zM149.21 391.55h2.04v8.82h-2.04zM151 94.9h2.04v8.82h-2.04zM151 103.62h2.04v8.82h-2.04zM151 112.35h2.04v8.82h-2.04zM151 129.8h2.04v8.82h-2.04zM151 138.52h2.04v8.82h-2.04zM151 147.25h2.04v8.82h-2.04zM151 313.02h2.04v8.82h-2.04zM151 391.55h2.04v8.82h-2.04zM152.79 138.52h2.04v8.82h-2.04zM152.79 234.5h2.04v8.82h-2.04zM152.79 321.75h2.04v8.82h-2.04zM154.57 365.38h2.04v8.82h-2.04zM154.57 382.82h2.04v8.82h-2.04zM154.57 391.55h2.04v8.82h-2.04zM156.36 60h2.04v8.82h-2.04zM156.36 129.8h2.04v8.82h-2.04zM156.36 391.55h2.04v8.82h-2.04zM158.14 112.35h2.04v8.82h-2.04zM158.14 129.8h2.04v8.82h-2.04zM158.14 243.22h2.04v8.82h-2.04zM159.93 164.7h2.04v8.82h-2.04zM161.71 94.9h2.04v8.82h-2.04zM161.71 121.07h2.04v8.82h-2.04zM161.71 129.8h2.04v8.82h-2.04zM161.71 190.88h2.04v8.82h-2.04zM163.5 190.88h2.04v8.82h-2.04zM163.5 199.6h2.04v8.82h-2.04zM163.5 217.05h2.04v8.82h-2.04zM163.5 269.4h2.04v8.82h-2.04zM165.29 112.35h2.04v8.82h-2.04zM165.29 138.52h2.04v8.82h-2.04zM165.29 199.6h2.04v8.82h-2.04zM167.07 260.67h2.04v8.82h-2.04zM167.07 313.02h2.04v8.82h-2.04zM168.86 138.52h2.04v8.82h-2.04zM168.86 147.25h2.04v8.82h-2.04zM168.86 190.88h2.04v8.82h-2.04zM168.86 295.57h2.04v8.82h-2.04zM168.86 313.02h2.04v8.82h-2.04zM170.64 112.35h2.04v8.82h-2.04zM172.43 94.9h2.04v8.82h-2.04zM172.43 147.25h2.04v8.82h-2.04zM172.43 208.32h2.04v8.82h-2.04zM174.21 60h2.04v8.82h-2.04zM174.21 129.8h2.04v8.82h-2.04zM174.21 138.52h2.04v8.82h-2.04zM174.21 147.25h2.04v8.82h-2.04zM174.21 164.7h2.04v8.82h-2.04zM177.7 68.72h2.05v8.82h-2.05zM177.7 86.17h2.05v8.82h-2.05zM177.7 147.25h2.05v8.82h-2.05zM177.7 313.02h2.05v8.82h-2.05zM179.5 304.3h2.05v8.82h-2.05zM181.3 147.25h2.05v8.82h-2.05zM181.3 182.15h2.05v8.82h-2.05zM181.3 278.12h2.05v8.82h-2.05zM181.3 304.3h2.05v8.82h-2.05zM181.3 339.2h2.05v8.82h-2.05zM183.09 86.17h2.05v8.82h-2.05zM183.09 138.52h2.05v8.82h-2.05zM183.09 278.12h2.05v8.82h-2.05zM183.09 313.02h2.05v8.82h-2.05zM183.09 321.75h2.05v8.82h-2.05zM183.09 365.38h2.05v8.82h-2.05zM184.89 182.15h2.05v8.82h-2.05zM184.89 339.2h2.05v8.82h-2.05zM186.69 356.65h2.05v8.82h-2.05zM186.69 374.1h2.05v8.82h-2.05zM188.49 286.85h2.05v8.82h-2.05zM188.49 365.38h2.05v8.82h-2.05zM188.49 374.1h2.05v8.82h-2.05zM188.49 382.82h2.05v8.82h-2.05zM190.29 68.72h2.05v8.82h-2.05zM190.29 190.88h2.05v8.82h-2.05zM190.29 269.4h2.05v8.82h-2.05zM190.29 391.55h2.05v8.82h-2.05zM192.09 251.95h2.05v8.82h-2.05zM192.09 269.4h2.05v8.82h-2.05zM192.09 339.2h2.05v8.82h-2.05zM192.09 347.93h2.05v8.82h-2.05zM192.09 356.65h2.05v8.82h-2.05zM192.09 382.82h2.05v8.82h-2.05zM192.09 391.55h2.05v8.82h-2.05zM193.88 68.72h2.05v8.82h-2.05zM193.88 77.45h2.05v8.82h-2.05zM193.88 86.17h2.05v8.82h-2.05zM193.88 121.07h2.05v8.82h-2.05zM193.88 278.12h2.05v8.82h-2.05zM193.88 295.57h2.05v8.82h-2.05zM193.88 391.55h2.05v8.82h-2.05zM195.68 68.72h2.05v8.82h-2.05zM195.68 112.35h2.05v8.82h-2.05zM195.68 121.07h2.05v8.82h-2.05zM195.68 313.02h2.05v8.82h-2.05zM195.68 330.47h2.05v8.82h-2.05zM195.68 365.38h2.05v8.82h-2.05zM197.48 129.8h2.05v8.82h-2.05zM197.48 147.25h2.05v8.82h-2.05zM197.48 382.82h2.05v8.82h-2.05zM199.28 304.3h2.05v8.82h-2.05zM199.28 313.02h2.05v8.82h-2.05zM201.08 190.88h2.05v8.82h-2.05zM201.08 208.32h2.05v8.82h-2.05zM201.08 225.78h2.05v8.82h-2.05zM202.88 94.9h2.05v8.82h-2.05zM202.88 164.7h2.05v8.82h-2.05zM202.88 208.32h2.05v8.82h-2.05zM204.67 147.25h2.05v8.82h-2.05zM204.67 182.15h2.05v8.82h-2.05zM204.67 190.88h2.05v8.82h-2.05zM204.67 304.3h2.05v8.82h-2.05zM204.67 313.02h2.05v8.82h-2.05zM204.67 374.1h2.05v8.82h-2.05zM206.47 155.97h2.05v8.82h-2.05zM206.47 382.82h2.05v8.82h-2.05zM208.27 68.72h2.05v8.82h-2.05zM208.27 86.17h2.05v8.82h-2.05zM208.27 103.62h2.05v8.82h-2.05zM208.27 121.07h2.05v8.82h-2.05zM208.27 182.15h2.05v8.82h-2.05zM208.27 234.5h2.05v8.82h-2.05zM208.27 304.3h2.05v8.82h-2.05zM208.27 339.2h2.05v8.82h-2.05zM210.07 68.72h2.05v8.82h-2.05zM210.07 77.45h2.05v8.82h-2.05zM210.07 190.88h2.05v8.82h-2.05zM210.07 234.5h2.05v8.82h-2.05zM210.07 304.3h2.05v8.82h-2.05zM210.07 313.02h2.05v8.82h-2.05zM210.07 339.2h2.05v8.82h-2.05zM211.87 77.45h2.05v8.82h-2.05zM211.87 94.9h2.05v8.82h-2.05zM211.87 103.62h2.05v8.82h-2.05zM211.87 121.07h2.05v8.82h-2.05zM211.87 129.8h2.05v8.82h-2.05zM211.87 260.67h2.05v8.82h-2.05zM211.87 365.38h2.05v8.82h-2.05zM213.67 94.9h2.05v8.82h-2.05zM213.67 138.52h2.05v8.82h-2.05zM213.67 286.85h2.05v8.82h-2.05zM213.67 330.47h2.05v8.82h-2.05zM213.67 347.93h2.05v8.82h-2.05zM213.67 356.65h2.05v8.82h-2.05zM215.46 147.25h2.05v8.82h-2.05zM215.46 269.4h2.05v8.82h-2.05zM215.46 295.57h2.05v8.82h-2.05zM215.46 321.75h2.05v8.82h-2.05zM215.46 330.47h2.05v8.82h-2.05zM215.46 400.27h2.05v8.82h-2.05zM217.26 94.9h2.05v8.82h-2.05zM217.26 138.52h2.05v8.82h-2.05zM217.26 330.47h2.05v8.82h-2.05zM217.26 356.65h2.05v8.82h-2.05zM217.26 365.38h2.05v8.82h-2.05zM217.26 391.55h2.05v8.82h-2.05zM219.06 147.25h2.05v8.82h-2.05zM219.06 182.15h2.05v8.82h-2.05zM219.06 234.5h2.05v8.82h-2.05zM219.06 356.65h2.05v8.82h-2.05zM219.06 374.1h2.05v8.82h-2.05zM220.86 94.9h2.05v8.82h-2.05zM220.86 121.07h2.05v8.82h-2.05zM220.86 199.6h2.05v8.82h-2.05zM220.86 295.57h2.05v8.82h-2.05zM220.86 365.38h2.05v8.82h-2.05zM222.66 86.17h2.05v8.82h-2.05zM222.66 138.52h2.05v8.82h-2.05zM222.66 190.88h2.05v8.82h-2.05zM222.66 199.6h2.05v8.82h-2.05zM222.66 260.67h2.05v8.82h-2.05zM222.66 269.4h2.05v8.82h-2.05zM224.46 68.72h2.05v8.82h-2.05zM224.46 129.8h2.05v8.82h-2.05zM224.46 173.43h2.05v8.82h-2.05zM224.46 347.93h2.05v8.82h-2.05zM226.25 112.35h2.05v8.82h-2.05zM226.25 147.25h2.05v8.82h-2.05zM226.25 173.43h2.05v8.82h-2.05zM226.25 190.88h2.05v8.82h-2.05zM226.25 234.5h2.05v8.82h-2.05zM226.25 304.3h2.05v8.82h-2.05zM226.25 330.47h2.05v8.82h-2.05zM226.25 347.93h2.05v8.82h-2.05zM226.25 356.65h2.05v8.82h-2.05zM226.25 374.1h2.05v8.82h-2.05zM226.25 391.55h2.05v8.82h-2.05zM228.05 199.6h2.05v8.82h-2.05zM228.05 243.22h2.05v8.82h-2.05zM228.05 260.67h2.05v8.82h-2.05zM228.05 286.85h2.05v8.82h-2.05zM229.85 86.17h2.05v8.82h-2.05zM229.85 208.32h2.05v8.82h-2.05zM229.85 286.85h2.05v8.82h-2.05zM231.65 94.9h2.05v8.82h-2.05zM231.65 138.52h2.05v8.82h-2.05zM231.65 182.15h2.05v8.82h-2.05zM231.65 190.88h2.05v8.82h-2.05zM231.65 208.32h2.05v8.82h-2.05zM231.65 217.05h2.05v8.82h-2.05zM231.65 243.22h2.05v8.82h-2.05zM231.65 295.57h2.05v8.82h-2.05zM231.65 321.75h2.05v8.82h-2.05zM231.65 374.1h2.05v8.82h-2.05zM233.45 77.45h2.05v8.82h-2.05zM233.45 147.25h2.05v8.82h-2.05zM233.45 155.97h2.05v8.82h-2.05zM233.45 164.7h2.05v8.82h-2.05zM233.45 217.05h2.05v8.82h-2.05zM233.45 330.47h2.05v8.82h-2.05zM233.45 374.1h2.05v8.82h-2.05zM235.24 103.62h2.05v8.82h-2.05zM235.24 121.07h2.05v8.82h-2.05zM235.24 129.8h2.05v8.82h-2.05zM235.24 173.43h2.05v8.82h-2.05zM235.24 208.32h2.05v8.82h-2.05zM235.24 321.75h2.05v8.82h-2.05zM237.04 173.43h2.05v8.82h-2.05zM237.04 199.6h2.05v8.82h-2.05zM237.04 243.22h2.05v8.82h-2.05zM237.04 269.4h2.05v8.82h-2.05zM237.04 347.93h2.05v8.82h-2.05zM237.04 391.55h2.05v8.82h-2.05zM238.84 60h2.05v8.82h-2.05zM238.84 164.7h2.05v8.82h-2.05zM238.84 190.88h2.05v8.82h-2.05zM238.84 251.95h2.05v8.82h-2.05zM240.64 147.25h2.05v8.82h-2.05zM240.64 278.12h2.05v8.82h-2.05zM240.64 286.85h2.05v8.82h-2.05zM240.64 356.65h2.05v8.82h-2.05zM242.44 77.45h2.05v8.82h-2.05zM242.44 182.15h2.05v8.82h-2.05zM242.44 199.6h2.05v8.82h-2.05zM242.44 217.05h2.05v8.82h-2.05zM242.44 234.5h2.05v8.82h-2.05zM242.44 330.47h2.05v8.82h-2.05zM242.44 339.2h2.05v8.82h-2.05zM242.44 382.82h2.05v8.82h-2.05zM244.24 217.05h2.05v8.82h-2.05zM244.24 234.5h2.05v8.82h-2.05zM244.24 260.67h2.05v8.82h-2.05zM244.24 269.4h2.05v8.82h-2.05zM244.24 295.57h2.05v8.82h-2.05zM244.24 356.65h2.05v8.82h-2.05zM244.24 391.55h2.05v8.82h-2.05zM246.03 103.62h2.05v8.82h-2.05zM246.03 208.32h2.05v8.82h-2.05zM246.03 217.05h2.05v8.82h-2.05zM246.03 304.3h2.05v8.82h-2.05zM246.03 339.2h2.05v8.82h-2.05zM246.03 356.65h2.05v8.82h-2.05zM247.83 60h2.05v8.82h-2.05zM247.83 103.62h2.05v8.82h-2.05zM247.83 217.05h2.05v8.82h-2.05zM247.83 339.2h2.05v8.82h-2.05zM247.83 365.38h2.05v8.82h-2.05zM247.83 391.55h2.05v8.82h-2.05zM247.83 400.27h2.05v8.82h-2.05zM249.63 94.9h2.05v8.82h-2.05zM249.63 103.62h2.05v8.82h-2.05zM249.63 138.52h2.05v8.82h-2.05zM249.63 278.12h2.05v8.82h-2.05zM249.63 304.3h2.05v8.82h-2.05zM249.63 330.47h2.05v8.82h-2.05zM249.63 365.38h2.05v8.82h-2.05zM251.43 60h2.05v8.82h-2.05zM251.43 121.07h2.05v8.82h-2.05zM251.43 155.97h2.05v8.82h-2.05zM251.43 173.43h2.05v8.82h-2.05zM251.43 199.6h2.05v8.82h-2.05zM253.23 199.6h2.05v8.82h-2.05zM253.23 225.78h2.05v8.82h-2.05zM253.23 356.65h2.05v8.82h-2.05zM255.03 86.17h2.05v8.82h-2.05zM255.03 286.85h2.05v8.82h-2.05zM255.03 313.02h2.05v8.82h-2.05zM255.03 356.65h2.05v8.82h-2.05zM256.82 94.9h2.05v8.82h-2.05zM256.82 103.62h2.05v8.82h-2.05zM256.82 121.07h2.05v8.82h-2.05zM256.82 138.52h2.05v8.82h-2.05zM256.82 147.25h2.05v8.82h-2.05zM256.82 164.7h2.05v8.82h-2.05zM256.82 190.88h2.05v8.82h-2.05zM256.82 199.6h2.05v8.82h-2.05zM256.82 391.55h2.05v8.82h-2.05zM258.62 147.25h2.05v8.82h-2.05zM258.62 225.78h2.05v8.82h-2.05zM258.62 347.93h2.05v8.82h-2.05zM260.42 356.65h2.05v8.82h-2.05zM260.42 391.55h2.05v8.82h-2.05zM262.22 199.6h2.05v8.82h-2.05zM264.02 147.25h2.05v8.82h-2.05zM264.02 164.7h2.05v8.82h-2.05zM264.02 208.32h2.05v8.82h-2.05zM264.02 234.5h2.05v8.82h-2.05zM264.02 260.67h2.05v8.82h-2.05zM264.02 278.12h2.05v8.82h-2.05zM264.02 321.75h2.05v8.82h-2.05zM265.82 77.45h2.05v8.82h-2.05zM265.82 234.5h2.05v8.82h-2.05zM265.82 243.22h2.05v8.82h-2.05zM265.82 269.4h2.05v8.82h-2.05zM265.82 304.3h2.05v8.82h-2.05zM265.82 321.75h2.05v8.82h-2.05zM265.82 365.38h2.05v8.82h-2.05zM267.61 313.02h2.05v8.82h-2.05zM267.61 400.27h2.05v8.82h-2.05zM269.41 382.82h2.05v8.82h-2.05zM269.41 400.27h2.05v8.82h-2.05zM271.21 112.35h2.05v8.82h-2.05zM271.21 225.78h2.05v8.82h-2.05zM271.21 382.82h2.05v8.82h-2.05zM273.01 321.75h2.05v8.82h-2.05zM273.01 330.47h2.05v8.82h-2.05zM274.81 121.07h2.05v8.82h-2.05zM274.81 129.8h2.05v8.82h-2.05zM274.81 147.25h2.05v8.82h-2.05zM274.81 278.12h2.05v8.82h-2.05zM274.81 286.85h2.05v8.82h-2.05zM274.81 391.55h2.05v8.82h-2.05zM276.61 295.57h2.05v8.82h-2.05zM276.61 313.02h2.05v8.82h-2.05zM276.61 330.47h2.05v8.82h-2.05zM276.61 347.93h2.05v8.82h-2.05zM276.61 356.65h2.05v8.82h-2.05zM276.61 374.1h2.05v8.82h-2.05zM280.2 225.78h2.05v8.82h-2.05zM280.2 286.85h2.05v8.82h-2.05zM280.2 356.65h2.05v8.82h-2.05z"/>
<path fill="#f5ad97" d="M26 112.35h2.04v8.82h-2.04zM26 138.52h2.04v8.82h-2.04zM26 251.95h2.04v8.82h-2.04zM27.79 121.07h2.04v8.82h-2.04zM27.79 339.2h2.04v8.82h-2.04zM27.79 391.55h2.04v8.82h-2.04zM29.57 260.67h2.04v8.82h-2.04zM29.57 339.2h2.04v8.82h-2.04zM29.57 400.27h2.04v8.82h-2.04zM31.36 77.45h2.04v8.82h-2.04zM31.36 295.57h2.04v8.82h-2.04zM31.36 382.82h2.04v8.82h-2.04zM33.14 103.62h2.04v8.82h-2.04zM33.14 129.8h2.04v8.82h-2.04zM33.14 199.6h2.04v8.82h-2.04zM33.14 295.57h2.04v8.82h-2.04zM34.93 391.55h2.04v8.82h-2.04zM36.71 60h2.04v8.82h-2.04zM36.71 112.35h2.04v8.82h-2.04zM36.71 129.8h2.04v8.82h-2.04zM36.71 339.2h2.04v8.82h-2.04zM38.5 121.07h2.04v8.82h-2.04zM38.5 260.67h2.04v8.82h-2.04zM38.5 339.2h2.04v8.82h-2.04zM38.5 374.1h2.04v8.82h-2.04zM38.5 382.82h2.04v8.82h-2.04zM40.29 86.17h2.04v8.82h-2.04zM40.29 330.47h2.04v8.82h-2.04zM40.29 339.2h2.04v8.82h-2.04zM40.29 347.93h2.04v8.82h-2.04zM42.07 103.62h2.04v8.82h-2.04zM42.07 400.27h2.04v8.82h-2.04zM43.86 94.9h2.04v8.82h-2.04zM43.86 356.65h2.04v8.82h-2.04zM45.64 112.35h2.04v8.82h-2.04zM45.64 234.5h2.04v8.82h-2.04zM45.64 365.38h2.04v8.82h-2.04zM45.64 391.55h2.04v8.82h-2.04zM47.43 68.72h2.04v8.82h-2.04zM47.43 347.93h2.04v8.82h-2.04zM47.43 374.1h2.04v8.82h-2.04zM49.21 94.9h2.04v8.82h-2.04zM49.21 138.52h2.04v8.82h-2.04zM49.21 234.5h2.04v8.82h-2.04zM49.21 251.95h2.04v8.82h-2.04zM49.21 356.65h2.04v8.82h-2.04zM49.21 374.1h2.04v8.82h-2.04zM51 112.35h2.04v8.82h-2.04zM51 121.07h2.04v8.82h-2.04zM51 391.55h2.04v8.82h-2.04zM51 400.27h2.04v8.82h-2.04zM52.79 77.45h2.04v8.82h-2.04zM52.79 112.35h2.04v8.82h-2.04zM54.57 77.45h2.04v8.82h-2.04zM56.36 260.67h2.04v8.82h-2.04zM56.36 330.47h2.04v8.82h-2.04zM56.36 365.38h2.04v8.82h-2.04zM58.14 77.45h2.04v8.82h-2.04zM58.14 103.62h2.04v8.82h-2.04zM59.93 129.8h2.04v8.82h-2.04zM59.93 295.57h2.04v8.82h-2.04zM59.93 356.65h2.04v8.82h-2.04zM59.93 365.38h2.04v8.82h-2.04zM61.71 94.9h2.04v8.82h-2.04zM61.71 112.35h2.04v8.82h-2.04zM61.71 138.52h2.04v8.82h-2.04zM61.71 269.4h2.04v8.82h-2.04zM61.71 339.2h2.04v8.82h-2.04zM61.71 347.93h2.04v8.82h-2.04zM63.5 60h2.04v8.82h-2.04zM63.5 86.17h2.04v8.82h-2.04zM63.5 356.65h2.04v8.82h-2.04zM63.5 382.82h2.04v8.82h-2.04zM63.5 391.55h2.04v8.82h-2.04zM65.29 112.35h2.04v8.82h-2.04zM65.29 243.22h2.04v8.82h-2.04zM65.29 278.12h2.04v8.82h-2.04zM65.29 304.3h2.04v8.82h-2.04zM65.29 339.2h2.04v8.82h-2.04zM67.07 164.7h2.04v8.82h-2.04zM67.07 295.57h2.04v8.82h-2.04zM67.07 374.1h2.04v8.82h-2.04zM67.07 391.55h2.04v8.82h-2.04zM68.86 68.72h2.04v8.82h-2.04zM68.86 374.1h2.04v8.82h-2.04zM68.86 391.55h2.04v8.82h-2.04zM70.64 68.72h2.04v8.82h-2.04zM70.64 103.62h2.04v8.82h-2.04zM70.64 129.8h2.04v8.82h-2.04zM72.43 77.45h2.04v8.82h-2.04zM72.43 330.47h2.04v8.82h-2.04zM72.43 374.1h2.04v8.82h-2.04zM72.43 382.82h2.04v8.82h-2.04zM74.21 365.38h2.04v8.82h-2.04zM76 94.9h2.04v8.82h-2.04zM76 260.67h2.04v8.82h-2.04zM76 295.57h2.04v8.82h-2.04zM76 330.47h2.04v8.82h-2.04zM76 339.2h2.04v8.82h-2.04zM76 347.93h2.04v8.82h-2.04zM77.79 86.17h2.04v8.82h-2.04zM77.79 103.62h2.04v8.82h-2.04zM77.79 121.07h2.04v8.82h-2.04zM77.79 129.8h2.04v8.82h-2.04zM77.79 295.57h2.04v8.82h-2.04zM81.36 77.45h2.04v8.82h-2.04zM81.36 86.17h2.04v8.82h-2.04zM81.36 199.6h2.04v8.82h-2.04zM81.36 234.5h2.04v8.82h-2.04zM81.36 269.4h2.04v8.82h-2.04zM81.36 321.75h2.04v8.82h-2.04zM83.14 94.9h2.04v8.82h-2.04zM83.14 112.35h2.04v8.82h-2.04zM83.14 382.82h2.04v8.82h-2.04zM84.93 147.25h2.04v8.82h-2.04zM86.71 234.5h2.04v8.82h-2.04zM86.71 243.22h2.04v8.82h-2.04zM86.71 269.4h2.04v8.82h-2.04zM86.71 295.57h2.04v8.82h-2.04zM88.5 68.72h2.04v8.82h-2.04zM88.5 94.9h2.04v8.82h-2.04zM88.5 103.62h2.04v8.82h-2.04zM88.5 347.93h2.04v8.82h-2.04zM88.5 400.27h2.04v8.82h-2.04zM90.29 225.78h2.04v8.82h-2.04zM90.29 278.12h2.04v8.82h-2.04zM90.29 313.02h2.04v8.82h-2.04zM90.29 321.75h2.04v8.82h-2.04zM90.29 347.93h2.04v8.82h-2.04zM92.07 251.95h2.04v8.82h-2.04zM93.86 103.62h2.04v8.82h-2.04zM93.86 112.35h2.04v8.82h-2.04zM93.86 129.8h2.04v8.82h-2.04zM93.86 295.57h2.04v8.82h-2.04zM93.86 400.27h2.04v8.82h-2.04zM95.64 199.6h2.04v8.82h-2.04zM95.64 208.32h2.04v8.82h-2.04zM95.64 243.22h2.04v8.82h-2.04zM95.64 295.57h2.04v8.82h-2.04zM95.64 330.47h2.04v8.82h-2.04zM97.43 208.32h2.04v8.82h-2.04zM97.43 217.05h2.04v8.82h-2.04zM97.43 243.22h2.04v8.82h-2.04zM97.43 269.4h2.04v8.82h-2.04zM97.43 374.1h2.04v8.82h-2.04zM97.43 391.55h2.04v8.82h-2.04zM99.21 86.17h2.04v8.82h-2.04zM99.21 278.12h2.04v8.82h-2.04zM99.21 295.57h2.04v8.82h-2.04zM99.21 313.02h2.04v8.82h-2.04zM99.21 330.47h2.04v8.82h-2.04zM101 182.15h2.04v8.82h-2.04zM101 217.05h2.04v8.82h-2.04zM101 234.5h2.04v8.82h-2.04zM101 243.22h2.04v8.82h-2.04zM101 286.85h2.04v8.82h-2.04zM101 295.57h2.04v8.82h-2.04zM101 347.93h2.04v8.82h-2.04zM102.79 173.43h2.04v8.82h-2.04zM102.79 190.88h2.04v8.82h-2.04zM102.79 234.5h2.04v8.82h-2.04zM102.79 243.22h2.04v8.82h-2.04zM102.79 295.57h2.04v8.82h-2.04zM104.57 68.72h2.04v8.82h-2.04zM104.57 77.45h2.04v8.82h-2.04zM104.57 234.5h2.04v8.82h-2.04zM104.57 251.95h2.04v8.82h-2.04zM104.57 286.85h2.04v8.82h-2.04zM104.57 295.57h2.04v8.82h-2.04zM104.57 321.75h2.04v8.82h-2.04zM106.36 68.72h2.04v8.82h-2.04zM106.36 286.85h2.04v8.82h-2.04zM108.14 173.43h2.04v8.82h-2.04zM108.14 217.05h2.04v8.82h-2.04zM108.14 243.22h2.04v8.82h-2.04zM109.93 251.95h2.04v8.82h-2.04zM109.93 278.12h2.04v8.82h-2.04zM111.71 147.25h2.04v8.82h-2.04zM111.71 251.95h2.04v8.82h-2.04zM111.71 278.12h2.04v8.82h-2.04zM111.71 295.57h2.04v8.82h-2.04zM111.71 304.3h2.04v8.82h-2.04zM113.5 199.6h2.04v8.82h-2.04zM113.5 217.05h2.04v8.82h-2.04zM113.5 225.78h2.04v8.82h-2.04zM113.5 286.85h2.04v8.82h-2.04zM115.29 68.72h2.04v8.82h-2.04zM115.29 86.17h2.04v8.82h-2.04zM115.29 260.67h2.04v8.82h-2.04zM115.29 356.65h2.04v8.82h-2.04zM117.07 269.4h2.04v8.82h-2.04zM122.43 182.15h2.04v8.82h-2.04zM122.43 199.6h2.04v8.82h-2.04zM122.43 225.78h2.04v8.82h-2.04zM122.43 269.4h2.04v8.82h-2.04zM122.43 295.57h2.04v8.82h-2.04zM122.43 313.02h2.04v8.82h-2.04zM122.43 321.75h2.04v8.82h-2.04zM122.43 347.93h2.04v8.82h-2.04zM124.21 208.32h2.04v8.82h-2.04zM124.21 260.67h2.04v8.82h-2.04zM124.21 278.12h2.04v8.82h-2.04zM124.21 295.57h2.04v8.82h-2.04zM124.21 313.02h2.04v8.82h-2.04zM126 164.7h2.04v8.82h-2.04zM126 225.78h2.04v8.82h-2.04zM126 260.67h2.04v8.82h-2.04zM126 286.85h2.04v8.82h-2.04zM126 321.75h2.04v8.82h-2.04zM127.79 68.72h2.04v8.82h-2.04zM127.79 199.6h2.04v8.82h-2.04zM127.79 225.78h2.04v8.82h-2.04zM127.79 243.22h2.04v8.82h-2.04zM127.79 278.12h2.04v8.82h-2.04zM127.79 286.85h2.04v8.82h-2.04zM129.57 208.32h2.04v8.82h-2.04zM129.57 269.4h2.04v8.82h-2.04zM129.57 347.93h2.04v8.82h-2.04zM131.36 225.78h2.04v8.82h-2.04zM131.36 313.02h2.04v8.82h-2.04zM133.14 147.25h2.04v8.82h-2.04zM133.14 208.32h2.04v8.82h-2.04zM133.14 278.12h2.04v8.82h-2.04zM133.14 295.57h2.04v8.82h-2.04zM134.93 199.6h2.04v8.82h-2.04zM134.93 225.78h2.04v8.82h-2.04zM134.93 260.67h2.04v8.82h-2.04zM134.93 304.3h2.04v8.82h-2.04zM136.71 182.15h2.04v8.82h-2.04zM136.71 190.88h2.04v8.82h-2.04zM136.71 199.6h2.04v8.82h-2.04zM136.71 217.05h2.04v8.82h-2.04zM136.71 243.22h2.04v8.82h-2.04zM136.71 260.67h2.04v8.82h-2.04zM136.71 286.85h2.04v8.82h-2.04zM138.5 164.7h2.04v8.82h-2.04zM138.5 182.15h2.04v8.82h-2.04zM138.5 225.78h2.04v8.82h-2.04zM138.5 251.95h2.04v8.82h-2.04zM140.29 155.97h2.04v8.82h-2.04zM140.29 190.88h2.04v8.82h-2.04zM140.29 199.6h2.04v8.82h-2.04zM140.29 225.78h2.04v8.82h-2.04zM142.07 147.25h2.04v8.82h-2.04zM142.07 173.43h2.04v8.82h-2.04zM143.86 217.05h2.04v8.82h-2.04zM143.86 225.78h2.04v8.82h-2.04zM145.64 182.15h2.04v8.82h-2.04zM145.64 199.6h2.04v8.82h-2.04zM145.64 225.78h2.04v8.82h-2.04zM147.43 182.15h2.04v8.82h-2.04zM147.43 286.85h2.04v8.82h-2.04zM149.21 243.22h2.04v8.82h-2.04zM149.21 278.12h2.04v8.82h-2.04zM149.21 321.75h2.04v8.82h-2.04zM151 217.05h2.04v8.82h-2.04zM151 225.78h2.04v8.82h-2.04zM151 234.5h2.04v8.82h-2.04zM151 243.22h2.04v8.82h-2.04zM151 251.95h2.04v8.82h-2.04zM151 269.4h2.04v8.82h-2.04zM152.79 251.95h2.04v8.82h-2.04zM152.79 295.57h2.04v8.82h-2.04zM154.57 138.52h2.04v8.82h-2.04zM154.57 147.25h2.04v8.82h-2.04zM154.57 199.6h2.04v8.82h-2.04zM154.57 295.57h2.04v8.82h-2.04zM154.57 313.02h2.04v8.82h-2.04zM156.36 94.9h2.04v8.82h-2.04zM156.36 164.7h2.04v8.82h-2.04zM156.36 173.43h2.04v8.82h-2.04zM156.36 182.15h2.04v8.82h-2.04zM156.36 199.6h2.04v8.82h-2.04zM156.36 313.02h2.04v8.82h-2.04zM156.36 321.75h2.04v8.82h-2.04zM158.14 269.4h2.04v8.82h-2.04zM158.14 286.85h2.04v8.82h-2.04zM159.93 147.25h2.04v8.82h-2.04zM159.93 173.43h2.04v8.82h-2.04zM159.93 243.22h2.04v8.82h-2.04zM159.93 251.95h2.04v8.82h-2.04zM159.93 278.12h2.04v8.82h-2.04zM159.93 286.85h2.04v8.82h-2.04zM159.93 295.57h2.04v8.82h-2.04zM161.71 173.43h2.04v8.82h-2.04zM161.71 199.6h2.04v8.82h-2.04zM161.71 304.3h2.04v8.82h-2.04zM161.71 321.75h2.04v8.82h-2.04zM163.5 164.7h2.04v8.82h-2.04zM163.5 278.12h2.04v8.82h-2.04zM165.29 278.12h2.04v8.82h-2.04zM165.29 286.85h2.04v8.82h-2.04zM167.07 243.22h2.04v8.82h-2.04zM167.07 286.85h2.04v8.82h-2.04zM167.07 304.3h2.04v8.82h-2.04zM168.86 208.32h2.04v8.82h-2.04zM168.86 286.85h2.04v8.82h-2.04zM168.86 304.3h2.04v8.82h-2.04zM170.64 199.6h2.04v8.82h-2.04zM170.64 321.75h2.04v8.82h-2.04zM172.43 199.6h2.04v8.82h-2.04zM172.43 278.12h2.04v8.82h-2.04zM174.21 68.72h2.04v8.82h-2.04zM174.21 112.35h2.04v8.82h-2.04zM174.21 182.15h2.04v8.82h-2.04zM174.21 260.67h2.04v8.82h-2.04zM174.21 269.4h2.04v8.82h-2.04zM174.21 286.85h2.04v8.82h-2.04zM174.21 295.57h2.04v8.82h-2.04zM174.21 304.3h2.04v8.82h-2.04zM177.7 164.7h2.05v8.82h-2.05zM177.7 173.43h2.05v8.82h-2.05zM179.5 86.17h2.05v8.82h-2.05zM179.5 356.65h2.05v8.82h-2.05zM179.5 382.82h2.05v8.82h-2.05zM179.5 400.27h2.05v8.82h-2.05zM183.09 103.62h2.05v8.82h-2.05zM183.09 129.8h2.05v8.82h-2.05zM183.09 286.85h2.05v8.82h-2.05zM183.09 330.47h2.05v8.82h-2.05zM183.09 339.2h2.05v8.82h-2.05zM184.89 60h2.05v8.82h-2.05zM184.89 77.45h2.05v8.82h-2.05zM184.89 86.17h2.05v8.82h-2.05zM184.89 138.52h2.05v8.82h-2.05zM184.89 164.7h2.05v8.82h-2.05zM184.89 190.88h2.05v8.82h-2.05zM184.89 199.6h2.05v8.82h-2.05zM186.69 94.9h2.05v8.82h-2.05zM186.69 129.8h2.05v8.82h-2.05zM186.69 365.38h2.05v8.82h-2.05zM186.69 391.55h2.05v8.82h-2.05zM188.49 138.52h2.05v8.82h-2.05zM188.49 234.5h2.05v8.82h-2.05zM188.49 313.02h2.05v8.82h-2.05zM188.49 391.55h2.05v8.82h-2.05zM188.49 400.27h2.05v8.82h-2.05zM190.29 356.65h2.05v8.82h-2.05zM192.09 77.45h2.05v8.82h-2.05zM192.09 94.9h2.05v8.82h-2.05zM192.09 112.35h2.05v8.82h-2.05zM192.09 260.67h2.05v8.82h-2.05zM192.09 278.12h2.05v8.82h-2.05zM192.09 400.27h2.05v8.82h-2.05zM193.88 304.3h2.05v8.82h-2.05zM193.88 347.93h2.05v8.82h-2.05zM195.68 86.17h2.05v8.82h-2.05zM195.68 103.62h2.05v8.82h-2.05zM195.68 339.2h2.05v8.82h-2.05zM195.68 356.65h2.05v8.82h-2.05zM197.48 60h2.05v8.82h-2.05zM197.48 68.72h2.05v8.82h-2.05zM197.48 77.45h2.05v8.82h-2.05zM199.28 103.62h2.05v8.82h-2.05zM199.28 112.35h2.05v8.82h-2.05zM199.28 121.07h2.05v8.82h-2.05zM201.08 330.47h2.05v8.82h-2.05zM202.88 68.72h2.05v8.82h-2.05zM202.88 86.17h2.05v8.82h-2.05zM202.88 129.8h2.05v8.82h-2.05zM202.88 147.25h2.05v8.82h-2.05zM202.88 339.2h2.05v8.82h-2.05zM202.88 347.93h2.05v8.82h-2.05zM204.67 60h2.05v8.82h-2.05zM204.67 68.72h2.05v8.82h-2.05zM204.67 86.17h2.05v8.82h-2.05zM204.67 382.82h2.05v8.82h-2.05zM204.67 400.27h2.05v8.82h-2.05zM206.47 94.9h2.05v8.82h-2.05zM206.47 147.25h2.05v8.82h-2.05zM206.47 182.15h2.05v8.82h-2.05zM206.47 330.47h2.05v8.82h-2.05zM206.47 339.2h2.05v8.82h-2.05zM206.47 391.55h2.05v8.82h-2.05zM208.27 94.9h2.05v8.82h-2.05zM208.27 391.55h2.05v8.82h-2.05zM210.07 103.62h2.05v8.82h-2.05zM210.07 121.07h2.05v8.82h-2.05zM210.07 330.47h2.05v8.82h-2.05zM210.07 356.65h2.05v8.82h-2.05zM211.87 86.17h2.05v8.82h-2.05zM211.87 313.02h2.05v8.82h-2.05zM213.67 86.17h2.05v8.82h-2.05zM213.67 103.62h2.05v8.82h-2.05zM213.67 112.35h2.05v8.82h-2.05zM213.67 121.07h2.05v8.82h-2.05zM213.67 190.88h2.05v8.82h-2.05zM213.67 251.95h2.05v8.82h-2.05zM213.67 304.3h2.05v8.82h-2.05zM215.46 121.07h2.05v8.82h-2.05zM215.46 138.52h2.05v8.82h-2.05zM215.46 164.7h2.05v8.82h-2.05zM215.46 278.12h2.05v8.82h-2.05zM215.46 304.3h2.05v8.82h-2.05zM215.46 347.93h2.05v8.82h-2.05zM219.06 77.45h2.05v8.82h-2.05zM219.06 86.17h2.05v8.82h-2.05zM219.06 94.9h2.05v8.82h-2.05zM219.06 286.85h2.05v8.82h-2.05zM219.06 330.47h2.05v8.82h-2.05zM220.86 286.85h2.05v8.82h-2.05zM220.86 339.2h2.05v8.82h-2.05zM222.66 68.72h2.05v8.82h-2.05zM222.66 112.35h2.05v8.82h-2.05zM222.66 278.12h2.05v8.82h-2.05zM222.66 304.3h2.05v8.82h-2.05zM222.66 313.02h2.05v8.82h-2.05zM224.46 94.9h2.05v8.82h-2.05zM224.46 103.62h2.05v8.82h-2.05zM224.46 112.35h2.05v8.82h-2.05zM224.46 382.82h2.05v8.82h-2.05zM224.46 391.55h2.05v8.82h-2.05zM226.25 60h2.05v8.82h-2.05zM226.25 68.72h2.05v8.82h-2.05zM226.25 86.17h2.05v8.82h-2.05zM226.25 155.97h2.05v8.82h-2.05zM226.25 182.15h2.05v8.82h-2.05zM226.25 278.12h2.05v8.82h-2.05zM226.25 313.02h2.05v8.82h-2.05zM226.25 365.38h2.05v8.82h-2.05zM228.05 77.45h2.05v8.82h-2.05zM228.05 86.17h2.05v8.82h-2.05zM228.05 112.35h2.05v8.82h-2.05zM228.05 173.43h2.05v8.82h-2.05zM228.05 208.32h2.05v8.82h-2.05zM228.05 217.05h2.05v8.82h-2.05zM228.05 269.4h2.05v8.82h-2.05zM228.05 400.27h2.05v8.82h-2.05zM229.85 60h2.05v8.82h-2.05zM229.85 94.9h2.05v8.82h-2.05zM229.85 190.88h2.05v8.82h-2.05zM229.85 313.02h2.05v8.82h-2.05zM231.65 173.43h2.05v8.82h-2.05zM231.65 199.6h2.05v8.82h-2.05zM233.45 94.9h2.05v8.82h-2.05zM233.45 103.62h2.05v8.82h-2.05zM233.45 339.2h2.05v8.82h-2.05zM233.45 391.55h2.05v8.82h-2.05zM235.24 60h2.05v8.82h-2.05zM235.24 86.17h2.05v8.82h-2.05zM235.24 164.7h2.05v8.82h-2.05zM235.24 374.1h2.05v8.82h-2.05zM237.04 121.07h2.05v8.82h-2.05zM237.04 155.97h2.05v8.82h-2.05zM237.04 182.15h2.05v8.82h-2.05zM237.04 313.02h2.05v8.82h-2.05zM237.04 356.65h2.05v8.82h-2.05zM238.84 234.5h2.05v8.82h-2.05zM238.84 260.67h2.05v8.82h-2.05zM238.84 269.4h2.05v8.82h-2.05zM238.84 321.75h2.05v8.82h-2.05zM240.64 173.43h2.05v8.82h-2.05zM242.44 155.97h2.05v8.82h-2.05zM242.44 190.88h2.05v8.82h-2.05zM242.44 269.4h2.05v8.82h-2.05zM244.24 208.32h2.05v8.82h-2.05zM244.24 339.2h2.05v8.82h-2.05zM244.24 365.38h2.05v8.82h-2.05zM246.03 155.97h2.05v8.82h-2.05zM247.83 147.25h2.05v8.82h-2.05zM247.83 190.88h2.05v8.82h-2.05zM247.83 374.1h2.05v8.82h-2.05zM249.63 60h2.05v8.82h-2.05zM249.63 121.07h2.05v8.82h-2.05zM249.63 225.78h2.05v8.82h-2.05zM251.43 278.12h2.05v8.82h-2.05zM251.43 304.3h2.05v8.82h-2.05zM251.43 365.38h2.05v8.82h-2.05zM251.43 400.27h2.05v8.82h-2.05zM253.23 147.25h2.05v8.82h-2.05zM253.23 164.7h2.05v8.82h-2.05zM253.23 182.15h2.05v8.82h-2.05zM253.23 190.88h2.05v8.82h-2.05zM255.03 155.97h2.05v8.82h-2.05zM255.03 164.7h2.05v8.82h-2.05zM255.03 339.2h2.05v8.82h-2.05zM256.82 173.43h2.05v8.82h-2.05zM256.82 225.78h2.05v8.82h-2.05zM256.82 356.65h2.05v8.82h-2.05zM258.62 182.15h2.05v8.82h-2.05zM258.62 286.85h2.05v8.82h-2.05zM262.22 269.4h2.05v8.82h-2.05zM262.22 295.57h2.05v8.82h-2.05zM264.02 173.43h2.05v8.82h-2.05zM264.02 190.88h2.05v8.82h-2.05zM264.02 199.6h2.05v8.82h-2.05zM265.82 313.02h2.05v8.82h-2.05zM267.61 182.15h2.05v8.82h-2.05zM267.61 269.4h2.05v8.82h-2.05zM267.61 347.93h2.05v8.82h-2.05zM267.61 374.1h2.05v8.82h-2.05zM267.61 391.55h2.05v8.82h-2.05zM269.41 330.47h2.05v8.82h-2.05zM269.41 339.2h2.05v8.82h-2.05zM269.41 365.38h2.05v8.82h-2.05zM271.21 147.25h2.05v8.82h-2.05zM271.21 164.7h2.05v8.82h-2.05zM271.21 190.88h2.05v8.82h-2.05zM271.21 208.32h2.05v8.82h-2.05zM271.21 217.05h2.05v8.82h-2.05zM271.21 374.1h2.05v8.82h-2.05zM271.21 391.55h2.05v8.82h-2.05zM273.01 155.97h2.05v8.82h-2.05zM273.01 199.6h2.05v8.82h-2.05zM273.01 286.85h2.05v8.82h-2.05zM273.01 339.2h2.05v8.82h-2.05zM273.01 347.93h2.05v8.82h-2.05zM274.81 155.97h2.05v8.82h-2.05zM274.81 339.2h2.05v8.82h-2.05zM276.61 164.7h2.05v8.82h-2.05zM276.61 208.32h2.05v8.82h-2.05zM276.61 217.05h2.05v8.82h-2.05zM276.61 225.78h2.05v8.82h-2.05zM276.61 304.3h2.05v8.82h-2.05zM276.61 365.38h2.05v8.82h-2.05zM278.4 199.6h2.05v8.82h-2.05zM278.4 391.55h2.05v8.82h-2.05zM278.4 400.27h2.05v8.82h-2.05z"/>
<path fill="#f8c8b8" d="M26 121.07h2.04v8.82h-2.04zM26 164.7h2.04v8.82h-2.04zM26 330.47h2.04v8.82h-2.04zM26 382.82h2.04v8.82h-2.04zM26 391.55h2.04v8.82h-2.04zM27.79 68.72h2.04v8.82h-2.04zM27.79 295.57h2.04v8.82h-2.04zM27.79 330.47h2.04v8.82h-2.04zM27.79 374.1h2.04v8.82h-2.04zM27.79 382.82h2.04v8.82h-2.04zM29.57 147.25h2.04v8.82h-2.04zM29.57 225.78h2.04v8.82h-2.04zM29.57 304.3h2.04v8.82h-2.04zM29.57 365.38h2.04v8.82h-2.04zM31.36 103.62h2.04v8.82h-2.04zM31.36 129.8h2.04v8.82h-2.04zM33.14 365.38h2.04v8.82h-2.04zM33.14 374.1h2.04v8.82h-2.04zM33.14 382.82h2.04v8.82h-2.04zM33.14 391.55h2.04v8.82h-2.04zM34.93 86.17h2.04v8.82h-2.04zM34.93 103.62h2.04v8.82h-2.04zM36.71 68.72h2.04v8.82h-2.04zM36.71 86.17h2.04v8.82h-2.04zM36.71 382.82h2.04v8.82h-2.04zM38.5 68.72h2.04v8.82h-2.04zM38.5 243.22h2.04v8.82h-2.04zM38.5 365.38h2.04v8.82h-2.04zM38.5 391.55h2.04v8.82h-2.04zM40.29 77.45h2.04v8.82h-2.04zM40.29 112.35h2.04v8.82h-2.04zM40.29 121.07h2.04v8.82h-2.04zM40.29 138.52h2.04v8.82h-2.04zM40.29 251.95h2.04v8.82h-2.04zM40.29 321.75h2.04v8.82h-2.04zM40.29 365.38h2.04v8.82h-2.04zM40.29 400.27h2.04v8.82h-2.04zM42.07 112.35h2.04v8.82h-2.04zM43.86 103.62h2.04v8.82h-2.04zM43.86 121.07h2.04v8.82h-2.04zM43.86 138.52h2.04v8.82h-2.04zM43.86 374.1h2.04v8.82h-2.04zM43.86 391.55h2.04v8.82h-2.04zM45.64 86.17h2.04v8.82h-2.04zM45.64 251.95h2.04v8.82h-2.04zM45.64 269.4h2.04v8.82h-2.04zM45.64 313.02h2.04v8.82h-2.04zM45.64 321.75h2.04v8.82h-2.04zM47.43 295.57h2.04v8.82h-2.04zM47.43 321.75h2.04v8.82h-2.04zM47.43 365.38h2.04v8.82h-2.04zM49.21 77.45h2.04v8.82h-2.04zM49.21 112.35h2.04v8.82h-2.04zM49.21 121.07h2.04v8.82h-2.04zM49.21 129.8h2.04v8.82h-2.04zM49.21 199.6h2.04v8.82h-2.04zM49.21 382.82h2.04v8.82h-2.04zM49.21 391.55h2.04v8.82h-2.04zM49.21 400.27h2.04v8.82h-2.04zM51 60h2.04v8.82h-2.04zM51 68.72h2.04v8.82h-2.04zM51 86.17h2.04v8.82h-2.04zM51 330.47h2.04v8.82h-2.04zM51 374.1h2.04v8.82h-2.04zM52.79 60h2.04v8.82h-2.04zM52.79 138.52h2.04v8.82h-2.04zM52.79 330.47h2.04v8.82h-2.04zM52.79 391.55h2.04v8.82h-2.04zM54.57 68.72h2.04v8.82h-2.04zM54.57 199.6h2.04v8.82h-2.04zM54.57 382.82h2.04v8.82h-2.04zM56.36 86.17h2.04v8.82h-2.04zM56.36 112.35h2.04v8.82h-2.04zM56.36 138.52h2.04v8.82h-2.04zM56.36 251.95h2.04v8.82h-2.04zM56.36 313.02h2.04v8.82h-2.04zM56.36 347.93h2.04v8.82h-2.04zM56.36 356.65h2.04v8.82h-2.04zM58.14 129.8h2.04v8.82h-2.04zM59.93 77.45h2.04v8.82h-2.04zM59.93 243.22h2.04v8.82h-2.04zM59.93 251.95h2.04v8.82h-2.04zM59.93 400.27h2.04v8.82h-2.04zM61.71 121.07h2.04v8.82h-2.04zM61.71 260.67h2.04v8.82h-2.04zM61.71 365.38h2.04v8.82h-2.04zM63.5 94.9h2.04v8.82h-2.04zM63.5 138.52h2.04v8.82h-2.04zM63.5 286.85h2.04v8.82h-2.04zM63.5 339.2h2.04v8.82h-2.04zM63.5 400.27h2.04v8.82h-2.04zM65.29 77.45h2.04v8.82h-2.04zM65.29 234.5h2.04v8.82h-2.04zM65.29 269.4h2.04v8.82h-2.04zM65.29 295.57h2.04v8.82h-2.04zM65.29 330.47h2.04v8.82h-2.04zM65.29 365.38h2.04v8.82h-2.04zM67.07 173.43h2.04v8.82h-2.04zM67.07 199.6h2.04v8.82h-2.04zM67.07 225.78h2.04v8.82h-2.04zM67.07 234.5h2.04v8.82h-2.04zM67.07 356.65h2.04v8.82h-2.04zM67.07 365.38h2.04v8.82h-2.04zM67.07 400.27h2.04v8.82h-2.04zM68.86 60h2.04v8.82h-2.04zM68.86 94.9h2.04v8.82h-2.04zM68.86 260.67h2.04v8.82h-2.04zM68.86 330.47h2.04v8.82h-2.04zM68.86 365.38h2.04v8.82h-2.04zM70.64 173.43h2.04v8.82h-2.04zM70.64 295.57h2.04v8.82h-2.04zM72.43 138.52h2.04v8.82h-2.04zM74.21 129.8h2.04v8.82h-2.04zM74.21 330.47h2.04v8.82h-2.04zM74.21 356.65h2.04v8.82h-2.04zM76 68.72h2.04v8.82h-2.04zM76 77.45h2.04v8.82h-2.04zM76 129.8h2.04v8.82h-2.04zM76 199.6h2.04v8.82h-2.04zM76 225.78h2.04v8.82h-2.04zM76 269.4h2.04v8.82h-2.04zM76 374.1h2.04v8.82h-2.04zM76 391.55h2.04v8.82h-2.04zM76 400.27h2.04v8.82h-2.04zM77.79 77.45h2.04v8.82h-2.04zM77.79 138.52h2.04v8.82h-2.04zM77.79 374.1h2.04v8.82h-2.04zM79.57 138.52h2.04v8.82h-2.04zM79.57 147.25h2.04v8.82h-2.04zM79.57 173.43h2.04v8.82h-2.04zM79.57 225.78h2.04v8.82h-2.04zM81.36 121.07h2.04v8.82h-2.04zM81.36 173.43h2.04v8.82h-2.04zM81.36 190.88h2.04v8.82h-2.04zM81.36 251.95h2.04v8.82h-2.04zM81.36 286.85h2.04v8.82h-2.04zM83.14 121.07h2.04v8.82h-2.04zM83.14 138.52h2.04v8.82h-2.04zM83.14 365.38h2.04v8.82h-2.04zM83.14 400.27h2.04v8.82h-2.04zM84.93 155.97h2.04v8.82h-2.04zM84.93 190.88h2.04v8.82h-2.04zM84.93 217.05h2.04v8.82h-2.04zM84.93 225.78h2.04v8.82h-2.04zM84.93 269.4h2.04v8.82h-2.04zM84.93 278.12h2.04v8.82h-2.04zM84.93 304.3h2.04v8.82h-2.04zM86.71 260.67h2.04v8.82h-2.04zM86.71 278.12h2.04v8.82h-2.04zM86.71 304.3h2.04v8.82h-2.04zM86.71 330.47h2.04v8.82h-2.04zM86.71 356.65h2.04v8.82h-2.04zM88.5 60h2.04v8.82h-2.04zM88.5 112.35h2.04v8.82h-2.04zM88.5 330.47h2.04v8.82h-2.04zM88.5 391.55h2.04v8.82h-2.04zM90.29 112.35h2.04v8.82h-2.04zM90.29 138.52h2.04v8.82h-2.04zM90.29 147.25h2.04v8.82h-2.04zM90.29 199.6h2.04v8.82h-2.04zM90.29 208.32h2.04v8.82h-2.04zM90.29 269.4h2.04v8.82h-2.04zM90.29 286.85h2.04v8.82h-2.04zM90.29 295.57h2.04v8.82h-2.04zM90.29 330.47h2.04v8.82h-2.04zM90.29 339.2h2.04v8.82h-2.04zM90.29 356.65h2.04v8.82h-2.04zM90.29 391.55h2.04v8.82h-2.04zM92.07 260.67h2.04v8.82h-2.04zM92.07 269.4h2.04v8.82h-2.04zM93.86 68.72h2.04v8.82h-2.04zM93.86 77.45h2.04v8.82h-2.04zM93.86 234.5h2.04v8.82h-2.04zM93.86 243.22h2.04v8.82h-2.04zM95.64 129.8h2.04v8.82h-2.04zM95.64 155.97h2.04v8.82h-2.04zM95.64 173.43h2.04v8.82h-2.04zM95.64 182.15h2.04v8.82h-2.04zM95.64 260.67h2.04v8.82h-2.04zM95.64 347.93h2.04v8.82h-2.04zM97.43 164.7h2.04v8.82h-2.04zM97.43 225.78h2.04v8.82h-2.04zM97.43 286.85h2.04v8.82h-2.04zM97.43 330.47h2.04v8.82h-2.04zM99.21 260.67h2.04v8.82h-2.04zM99.21 321.75h2.04v8.82h-2.04zM99.21 339.2h2.04v8.82h-2.04zM99.21 347.93h2.04v8.82h-2.04zM99.21 391.55h2.04v8.82h-2.04zM101 199.6h2.04v8.82h-2.04zM101 304.3h2.04v8.82h-2.04zM102.79 164.7h2.04v8.82h-2.04zM102.79 182.15h2.04v8.82h-2.04zM102.79 199.6h2.04v8.82h-2.04zM102.79 208.32h2.04v8.82h-2.04zM102.79 217.05h2.04v8.82h-2.04zM102.79 251.95h2.04v8.82h-2.04zM102.79 260.67h2.04v8.82h-2.04zM104.57 86.17h2.04v8.82h-2.04zM104.57 147.25h2.04v8.82h-2.04zM104.57 217.05h2.04v8.82h-2.04zM104.57 260.67h2.04v8.82h-2.04zM104.57 304.3h2.04v8.82h-2.04zM106.36 225.78h2.04v8.82h-2.04zM106.36 269.4h2.04v8.82h-2.04zM106.36 330.47h2.04v8.82h-2.04zM108.14 147.25h2.04v8.82h-2.04zM108.14 391.55h2.04v8.82h-2.04zM109.93 190.88h2.04v8.82h-2.04zM109.93 313.02h2.04v8.82h-2.04zM109.93 382.82h2.04v8.82h-2.04zM111.71 164.7h2.04v8.82h-2.04zM111.71 225.78h2.04v8.82h-2.04zM111.71 234.5h2.04v8.82h-2.04zM111.71 356.65h2.04v8.82h-2.04zM111.71 374.1h2.04v8.82h-2.04zM113.5 112.35h2.04v8.82h-2.04zM113.5 147.25h2.04v8.82h-2.04zM113.5 155.97h2.04v8.82h-2.04zM113.5 164.7h2.04v8.82h-2.04zM113.5 190.88h2.04v8.82h-2.04zM115.29 164.7h2.04v8.82h-2.04zM115.29 190.88h2.04v8.82h-2.04zM115.29 225.78h2.04v8.82h-2.04zM115.29 251.95h2.04v8.82h-2.04zM115.29 269.4h2.04v8.82h-2.04zM115.29 313.02h2.04v8.82h-2.04zM115.29 382.82h2.04v8.82h-2.04zM115.29 391.55h2.04v8.82h-2.04zM117.07 86.17h2.04v8.82h-2.04zM117.07 112.35h2.04v8.82h-2.04zM117.07 129.8h2.04v8.82h-2.04zM118.86 234.5h2.04v8.82h-2.04zM118.86 251.95h2.04v8.82h-2.04zM118.86 321.75h2.04v8.82h-2.04zM118.86 391.55h2.04v8.82h-2.04zM120.64 68.72h2.04v8.82h-2.04zM120.64 138.52h2.04v8.82h-2.04zM120.64 190.88h2.04v8.82h-2.04zM120.64 208.32h2.04v8.82h-2.04zM120.64 217.05h2.04v8.82h-2.04zM122.43 164.7h2.04v8.82h-2.04zM122.43 391.55h2.04v8.82h-2.04zM124.21 112.35h2.04v8.82h-2.04zM124.21 199.6h2.04v8.82h-2.04zM124.21 234.5h2.04v8.82h-2.04zM124.21 321.75h2.04v8.82h-2.04zM126 68.72h2.04v8.82h-2.04zM126 182.15h2.04v8.82h-2.04zM126 234.5h2.04v8.82h-2.04zM127.79 129.8h2.04v8.82h-2.04zM127.79 138.52h2.04v8.82h-2.04zM127.79 147.25h2.04v8.82h-2.04zM127.79 173.43h2.04v8.82h-2.04zM127.79 269.4h2.04v8.82h-2.04zM129.57 217.05h2.04v8.82h-2.04zM129.57 278.12h2.04v8.82h-2.04zM129.57 286.85h2.04v8.82h-2.04zM129.57 356.65h2.04v8.82h-2.04zM129.57 374.1h2.04v8.82h-2.04zM129.57 400.27h2.04v8.82h-2.04zM131.36 68.72h2.04v8.82h-2.04zM131.36 155.97h2.04v8.82h-2.04zM131.36 190.88h2.04v8.82h-2.04zM131.36 199.6h2.04v8.82h-2.04zM131.36 234.5h2.04v8.82h-2.04zM131.36 251.95h2.04v8.82h-2.04zM131.36 278.12h2.04v8.82h-2.04zM133.14 234.5h2.04v8.82h-2.04zM133.14 304.3h2.04v8.82h-2.04zM133.14 330.47h2.04v8.82h-2.04zM134.93 112.35h2.04v8.82h-2.04zM134.93 155.97h2.04v8.82h-2.04zM134.93 208.32h2.04v8.82h-2.04zM136.71 147.25h2.04v8.82h-2.04zM136.71 173.43h2.04v8.82h-2.04zM138.5 68.72h2.04v8.82h-2.04zM138.5 147.25h2.04v8.82h-2.04zM138.5 199.6h2.04v8.82h-2.04zM138.5 208.32h2.04v8.82h-2.04zM138.5 260.67h2.04v8.82h-2.04zM138.5 321.75h2.04v8.82h-2.04zM140.29 68.72h2.04v8.82h-2.04zM140.29 147.25h2.04v8.82h-2.04zM142.07 182.15h2.04v8.82h-2.04zM142.07 190.88h2.04v8.82h-2.04zM143.86 164.7h2.04v8.82h-2.04zM143.86 269.4h2.04v8.82h-2.04zM143.86 330.47h2.04v8.82h-2.04zM143.86 374.1h2.04v8.82h-2.04zM145.64 60h2.04v8.82h-2.04zM145.64 94.9h2.04v8.82h-2.04zM145.64 112.35h2.04v8.82h-2.04zM145.64 147.25h2.04v8.82h-2.04zM145.64 208.32h2.04v8.82h-2.04zM147.43 199.6h2.04v8.82h-2.04zM147.43 234.5h2.04v8.82h-2.04zM147.43 251.95h2.04v8.82h-2.04zM147.43 260.67h2.04v8.82h-2.04zM147.43 269.4h2.04v8.82h-2.04zM147.43 295.57h2.04v8.82h-2.04zM149.21 225.78h2.04v8.82h-2.04zM149.21 260.67h2.04v8.82h-2.04zM149.21 269.4h2.04v8.82h-2.04zM149.21 295.57h2.04v8.82h-2.04zM149.21 382.82h2.04v8.82h-2.04zM151 60h2.04v8.82h-2.04zM151 321.75h2.04v8.82h-2.04zM152.79 164.7h2.04v8.82h-2.04zM152.79 173.43h2.04v8.82h-2.04zM152.79 243.22h2.04v8.82h-2.04zM152.79 313.02h2.04v8.82h-2.04zM154.57 164.7h2.04v8.82h-2.04zM156.36 68.72h2.04v8.82h-2.04zM156.36 243.22h2.04v8.82h-2.04zM156.36 304.3h2.04v8.82h-2.04zM158.14 138.52h2.04v8.82h-2.04zM158.14 173.43h2.04v8.82h-2.04zM158.14 190.88h2.04v8.82h-2.04zM158.14 260.67h2.04v8.82h-2.04zM159.93 208.32h2.04v8.82h-2.04zM159.93 269.4h2.04v8.82h-2.04zM159.93 304.3h2.04v8.82h-2.04zM159.93 321.75h2.04v8.82h-2.04zM161.71 112.35h2.04v8.82h-2.04zM161.71 147.25h2.04v8.82h-2.04zM161.71 208.32h2.04v8.82h-2.04zM161.71 269.4h2.04v8.82h-2.04zM161.71 286.85h2.04v8.82h-2.04zM161.71 313.02h2.04v8.82h-2.04zM163.5 147.25h2.04v8.82h-2.04zM163.5 155.97h2.04v8.82h-2.04zM163.5 182.15h2.04v8.82h-2.04zM163.5 208.32h2.04v8.82h-2.04zM163.5 260.67h2.04v8.82h-2.04zM165.29 190.88h2.04v8.82h-2.04zM165.29 225.78h2.04v8.82h-2.04zM165.29 234.5h2.04v8.82h-2.04zM165.29 260.67h2.04v8.82h-2.04zM165.29 313.02h2.04v8.82h-2.04zM165.29 321.75h2.04v8.82h-2.04zM167.07 164.7h2.04v8.82h-2.04zM167.07 269.4h2.04v8.82h-2.04zM168.86 173.43h2.04v8.82h-2.04zM168.86 217.05h2.04v8.82h-2.04zM168.86 225.78h2.04v8.82h-2.04zM170.64 173.43h2.04v8.82h-2.04zM170.64 182.15h2.04v8.82h-2.04zM170.64 190.88h2.04v8.82h-2.04zM170.64 234.5h2.04v8.82h-2.04zM170.64 251.95h2.04v8.82h-2.04zM170.64 304.3h2.04v8.82h-2.04zM172.43 182.15h2.04v8.82h-2.04zM172.43 217.05h2.04v8.82h-2.04zM172.43 295.57h2.04v8.82h-2.04zM174.21 173.43h2.04v8.82h-2.04zM174.21 313.02h2.04v8.82h-2.04zM174.21 321.75h2.04v8.82h-2.04zM177.7 60h2.05v8.82h-2.05zM177.7 94.9h2.05v8.82h-2.05zM177.7 103.62h2.05v8.82h-2.05zM177.7 112.35h2.05v8.82h-2.05zM177.7 225.78h2.05v8.82h-2.05zM177.7 356.65h2.05v8.82h-2.05zM179.5 330.47h2.05v8.82h-2.05zM179.5 374.1h2.05v8.82h-2.05zM179.5 391.55h2.05v8.82h-2.05zM183.09 304.3h2.05v8.82h-2.05zM183.09 374.1h2.05v8.82h-2.05zM183.09 391.55h2.05v8.82h-2.05zM184.89 129.8h2.05v8.82h-2.05zM184.89 155.97h2.05v8.82h-2.05zM184.89 173.43h2.05v8.82h-2.05zM184.89 217.05h2.05v8.82h-2.05zM186.69 112.35h2.05v8.82h-2.05zM186.69 121.07h2.05v8.82h-2.05zM186.69 339.2h2.05v8.82h-2.05zM188.49 243.22h2.05v8.82h-2.05zM188.49 260.67h2.05v8.82h-2.05zM188.49 269.4h2.05v8.82h-2.05zM188.49 278.12h2.05v8.82h-2.05zM188.49 347.93h2.05v8.82h-2.05zM190.29 77.45h2.05v8.82h-2.05zM190.29 147.25h2.05v8.82h-2.05zM190.29 304.3h2.05v8.82h-2.05zM190.29 374.1h2.05v8.82h-2.05zM190.29 400.27h2.05v8.82h-2.05zM192.09 86.17h2.05v8.82h-2.05zM192.09 103.62h2.05v8.82h-2.05zM192.09 121.07h2.05v8.82h-2.05zM192.09 138.52h2.05v8.82h-2.05zM192.09 321.75h2.05v8.82h-2.05zM192.09 365.38h2.05v8.82h-2.05zM193.88 112.35h2.05v8.82h-2.05zM193.88 129.8h2.05v8.82h-2.05zM193.88 138.52h2.05v8.82h-2.05zM193.88 286.85h2.05v8.82h-2.05zM193.88 365.38h2.05v8.82h-2.05zM193.88 374.1h2.05v8.82h-2.05zM193.88 400.27h2.05v8.82h-2.05zM195.68 60h2.05v8.82h-2.05zM195.68 321.75h2.05v8.82h-2.05zM197.48 86.17h2.05v8.82h-2.05zM197.48 138.52h2.05v8.82h-2.05zM197.48 182.15h2.05v8.82h-2.05zM197.48 217.05h2.05v8.82h-2.05zM197.48 330.47h2.05v8.82h-2.05zM197.48 365.38h2.05v8.82h-2.05zM199.28 86.17h2.05v8.82h-2.05zM199.28 129.8h2.05v8.82h-2.05zM201.08 60h2.05v8.82h-2.05zM201.08 86.17h2.05v8.82h-2.05zM201.08 147.25h2.05v8.82h-2.05zM201.08 155.97h2.05v8.82h-2.05zM201.08 347.93h2.05v8.82h-2.05zM202.88 313.02h2.05v8.82h-2.05zM202.88 356.65h2.05v8.82h-2.05zM202.88 374.1h2.05v8.82h-2.05zM202.88 400.27h2.05v8.82h-2.05zM204.67 129.8h2.05v8.82h-2.05zM204.67 365.38h2.05v8.82h-2.05zM204.67 391.55h2.05v8.82h-2.05zM206.47 121.07h2.05v8.82h-2.05zM206.47 129.8h2.05v8.82h-2.05zM206.47 173.43h2.05v8.82h-2.05zM206.47 199.6h2.05v8.82h-2.05zM206.47 347.93h2.05v8.82h-2.05zM208.27 60h2.05v8.82h-2.05zM208.27 112.35h2.05v8.82h-2.05zM208.27 190.88h2.05v8.82h-2.05zM208.27 217.05h2.05v8.82h-2.05zM208.27 260.67h2.05v8.82h-2.05zM208.27 278.12h2.05v8.82h-2.05zM208.27 313.02h2.05v8.82h-2.05zM208.27 330.47h2.05v8.82h-2.05zM208.27 356.65h2.05v8.82h-2.05zM208.27 382.82h2.05v8.82h-2.05zM210.07 94.9h2.05v8.82h-2.05zM210.07 112.35h2.05v8.82h-2.05zM210.07 147.25h2.05v8.82h-2.05zM210.07 182.15h2.05v8.82h-2.05zM210.07 365.38h2.05v8.82h-2.05zM211.87 68.72h2.05v8.82h-2.05zM211.87 382.82h2.05v8.82h-2.05zM213.67 60h2.05v8.82h-2.05zM213.67 173.43h2.05v8.82h-2.05zM213.67 208.32h2.05v8.82h-2.05zM213.67 365.38h2.05v8.82h-2.05zM213.67 374.1h2.05v8.82h-2.05zM213.67 382.82h2.05v8.82h-2.05zM215.46 86.17h2.05v8.82h-2.05zM215.46 173.43h2.05v8.82h-2.05zM215.46 234.5h2.05v8.82h-2.05zM215.46 313.02h2.05v8.82h-2.05zM215.46 356.65h2.05v8.82h-2.05zM217.26 68.72h2.05v8.82h-2.05zM217.26 103.62h2.05v8.82h-2.05zM217.26 112.35h2.05v8.82h-2.05zM217.26 121.07h2.05v8.82h-2.05zM219.06 278.12h2.05v8.82h-2.05zM219.06 313.02h2.05v8.82h-2.05zM219.06 339.2h2.05v8.82h-2.05zM219.06 382.82h2.05v8.82h-2.05zM219.06 391.55h2.05v8.82h-2.05zM219.06 400.27h2.05v8.82h-2.05zM220.86 77.45h2.05v8.82h-2.05zM220.86 155.97h2.05v8.82h-2.05zM220.86 182.15h2.05v8.82h-2.05zM220.86 208.32h2.05v8.82h-2.05zM220.86 217.05h2.05v8.82h-2.05zM222.66 103.62h2.05v8.82h-2.05zM222.66 121.07h2.05v8.82h-2.05zM222.66 129.8h2.05v8.82h-2.05zM222.66 164.7h2.05v8.82h-2.05zM222.66 208.32h2.05v8.82h-2.05zM224.46 313.02h2.05v8.82h-2.05zM224.46 330.47h2.05v8.82h-2.05zM226.25 94.9h2.05v8.82h-2.05zM226.25 103.62h2.05v8.82h-2.05zM226.25 121.07h2.05v8.82h-2.05zM226.25 208.32h2.05v8.82h-2.05zM226.25 382.82h2.05v8.82h-2.05zM228.05 103.62h2.05v8.82h-2.05zM228.05 147.25h2.05v8.82h-2.05zM228.05 234.5h2.05v8.82h-2.05zM228.05 278.12h2.05v8.82h-2.05zM228.05 313.02h2.05v8.82h-2.05zM228.05 339.2h2.05v8.82h-2.05zM228.05 374.1h2.05v8.82h-2.05zM229.85 77.45h2.05v8.82h-2.05zM229.85 103.62h2.05v8.82h-2.05zM229.85 112.35h2.05v8.82h-2.05zM229.85 182.15h2.05v8.82h-2.05zM229.85 321.75h2.05v8.82h-2.05zM229.85 356.65h2.05v8.82h-2.05zM231.65 68.72h2.05v8.82h-2.05zM231.65 77.45h2.05v8.82h-2.05zM231.65 147.25h2.05v8.82h-2.05zM233.45 68.72h2.05v8.82h-2.05zM233.45 86.17h2.05v8.82h-2.05zM233.45 190.88h2.05v8.82h-2.05zM233.45 208.32h2.05v8.82h-2.05zM233.45 278.12h2.05v8.82h-2.05zM233.45 347.93h2.05v8.82h-2.05zM233.45 356.65h2.05v8.82h-2.05zM233.45 400.27h2.05v8.82h-2.05zM235.24 68.72h2.05v8.82h-2.05zM235.24 225.78h2.05v8.82h-2.05zM235.24 278.12h2.05v8.82h-2.05zM235.24 295.57h2.05v8.82h-2.05zM235.24 313.02h2.05v8.82h-2.05zM235.24 347.93h2.05v8.82h-2.05zM235.24 365.38h2.05v8.82h-2.05zM235.24 382.82h2.05v8.82h-2.05zM237.04 103.62h2.05v8.82h-2.05zM237.04 190.88h2.05v8.82h-2.05zM237.04 208.32h2.05v8.82h-2.05zM237.04 217.05h2.05v8.82h-2.05zM237.04 225.78h2.05v8.82h-2.05zM237.04 234.5h2.05v8.82h-2.05zM237.04 260.67h2.05v8.82h-2.05zM237.04 321.75h2.05v8.82h-2.05zM237.04 330.47h2.05v8.82h-2.05zM237.04 339.2h2.05v8.82h-2.05zM238.84 243.22h2.05v8.82h-2.05zM238.84 356.65h2.05v8.82h-2.05zM240.64 60h2.05v8.82h-2.05zM240.64 155.97h2.05v8.82h-2.05zM240.64 330.47h2.05v8.82h-2.05zM242.44 68.72h2.05v8.82h-2.05zM242.44 173.43h2.05v8.82h-2.05zM242.44 225.78h2.05v8.82h-2.05zM242.44 260.67h2.05v8.82h-2.05zM242.44 278.12h2.05v8.82h-2.05zM242.44 295.57h2.05v8.82h-2.05zM242.44 313.02h2.05v8.82h-2.05zM242.44 356.65h2.05v8.82h-2.05zM244.24 164.7h2.05v8.82h-2.05zM244.24 225.78h2.05v8.82h-2.05zM244.24 251.95h2.05v8.82h-2.05zM244.24 313.02h2.05v8.82h-2.05zM244.24 347.93h2.05v8.82h-2.05zM246.03 138.52h2.05v8.82h-2.05zM246.03 147.25h2.05v8.82h-2.05zM246.03 173.43h2.05v8.82h-2.05zM246.03 225.78h2.05v8.82h-2.05zM247.83 121.07h2.05v8.82h-2.05zM247.83 138.52h2.05v8.82h-2.05zM247.83 330.47h2.05v8.82h-2.05zM247.83 356.65h2.05v8.82h-2.05zM249.63 164.7h2.05v8.82h-2.05zM249.63 243.22h2.05v8.82h-2.05zM249.63 286.85h2.05v8.82h-2.05zM251.43 103.62h2.05v8.82h-2.05zM251.43 208.32h2.05v8.82h-2.05zM251.43 234.5h2.05v8.82h-2.05zM251.43 286.85h2.05v8.82h-2.05zM251.43 382.82h2.05v8.82h-2.05zM253.23 208.32h2.05v8.82h-2.05zM253.23 313.02h2.05v8.82h-2.05zM253.23 330.47h2.05v8.82h-2.05zM253.23 374.1h2.05v8.82h-2.05zM255.03 147.25h2.05v8.82h-2.05zM255.03 225.78h2.05v8.82h-2.05zM255.03 234.5h2.05v8.82h-2.05zM255.03 374.1h2.05v8.82h-2.05zM256.82 112.35h2.05v8.82h-2.05zM256.82 129.8h2.05v8.82h-2.05zM256.82 182.15h2.05v8.82h-2.05zM256.82 208.32h2.05v8.82h-2.05zM256.82 339.2h2.05v8.82h-2.05zM258.62 190.88h2.05v8.82h-2.05zM258.62 199.6h2.05v8.82h-2.05zM258.62 217.05h2.05v8.82h-2.05zM258.62 321.75h2.05v8.82h-2.05zM260.42 339.2h2.05v8.82h-2.05zM260.42 365.38h2.05v8.82h-2.05zM260.42 374.1h2.05v8.82h-2.05zM262.22 243.22h2.05v8.82h-2.05zM262.22 260.67h2.05v8.82h-2.05zM262.22 339.2h2.05v8.82h-2.05zM262.22 356.65h2.05v8.82h-2.05zM262.22 365.38h2.05v8.82h-2.05zM262.22 400.27h2.05v8.82h-2.05zM264.02 269.4h2.05v8.82h-2.05zM264.02 295.57h2.05v8.82h-2.05zM265.82 94.9h2.05v8.82h-2.05zM265.82 278.12h2.05v8.82h-2.05zM265.82 286.85h2.05v8.82h-2.05zM265.82 295.57h2.05v8.82h-2.05zM267.61 103.62h2.05v8.82h-2.05zM267.61 208.32h2.05v8.82h-2.05zM267.61 234.5h2.05v8.82h-2.05zM267.61 243.22h2.05v8.82h-2.05zM267.61 356.65h2.05v8.82h-2.05zM269.41 374.1h2.05v8.82h-2.05zM269.41 391.55h2.05v8.82h-2.05zM271.21 94.9h2.05v8.82h-2.05zM271.21 173.43h2.05v8.82h-2.05zM271.21 199.6h2.05v8.82h-2.05zM271.21 400.27h2.05v8.82h-2.05zM273.01 147.25h2.05v8.82h-2.05zM273.01 365.38h2.05v8.82h-2.05zM273.01 374.1h2.05v8.82h-2.05zM274.81 347.93h2.05v8.82h-2.05zM274.81 400.27h2.05v8.82h-2.05zM276.61 190.88h2.05v8.82h-2.05zM276.61 286.85h2.05v8.82h-2.05zM276.61 391.55h2.05v8.82h-2.05zM278.4 330.47h2.05v8.82h-2.05zM278.4 374.1h2.05v8.82h-2.05zM280.2 190.88h2.05v8.82h-2.05z"/>
<path fill="#ea6851" d="M26 129.8h2.04v8.82h-2.04zM26 339.2h2.04v8.82h-2.04zM27.79 77.45h2.04v8.82h-2.04zM27.79 112.35h2.04v8.82h-2.04zM29.57 60h2.04v8.82h-2.04zM29.57 330.47h2.04v8.82h-2.04zM29.57 347.93h2.04v8.82h-2.04zM29.57 382.82h2.04v8.82h-2.04zM34.93 129.8h2.04v8.82h-2.04zM36.71 103.62h2.04v8.82h-2.04zM38.5 94.9h2.04v8.82h-2.04zM38.5 347.93h2.04v8.82h-2.04zM42.07 129.8h2.04v8.82h-2.04zM47.43 112.35h2.04v8.82h-2.04zM47.43 121.07h2.04v8.82h-2.04zM49.21 347.93h2.04v8.82h-2.04zM52.79 86.17h2.04v8.82h-2.04zM58.14 347.93h2.04v8.82h-2.04zM58.14 356.65h2.04v8.82h-2.04zM59.93 330.47h2.04v8.82h-2.04zM63.5 77.45h2.04v8.82h-2.04zM63.5 121.07h2.04v8.82h-2.04zM63.5 330.47h2.04v8.82h-2.04zM83.14 347.93h2.04v8.82h-2.04zM84.93 234.5h2.04v8.82h-2.04zM84.93 251.95h2.04v8.82h-2.04zM90.29 234.5h2.04v8.82h-2.04zM90.29 243.22h2.04v8.82h-2.04zM93.86 330.47h2.04v8.82h-2.04zM93.86 382.82h2.04v8.82h-2.04zM99.21 234.5h2.04v8.82h-2.04zM101 260.67h2.04v8.82h-2.04zM117.07 147.25h2.04v8.82h-2.04zM117.07 208.32h2.04v8.82h-2.04zM117.07 225.78h2.04v8.82h-2.04zM117.07 234.5h2.04v8.82h-2.04zM117.07 278.12h2.04v8.82h-2.04zM117.07 286.85h2.04v8.82h-2.04zM117.07 321.75h2.04v8.82h-2.04zM124.21 286.85h2.04v8.82h-2.04zM126 295.57h2.04v8.82h-2.04zM127.79 217.05h2.04v8.82h-2.04zM127.79 260.67h2.04v8.82h-2.04zM133.14 217.05h2.04v8.82h-2.04zM133.14 321.75h2.04v8.82h-2.04zM134.93 234.5h2.04v8.82h-2.04zM136.71 295.57h2.04v8.82h-2.04zM138.5 295.57h2.04v8.82h-2.04zM140.29 217.05h2.04v8.82h-2.04zM142.07 225.78h2.04v8.82h-2.04zM143.86 243.22h2.04v8.82h-2.04zM154.57 260.67h2.04v8.82h-2.04zM154.57 286.85h2.04v8.82h-2.04zM154.57 304.3h2.04v8.82h-2.04zM156.36 234.5h2.04v8.82h-2.04zM156.36 251.95h2.04v8.82h-2.04zM156.36 278.12h2.04v8.82h-2.04zM156.36 286.85h2.04v8.82h-2.04zM158.14 208.32h2.04v8.82h-2.04zM158.14 217.05h2.04v8.82h-2.04zM158.14 295.57h2.04v8.82h-2.04zM159.93 225.78h2.04v8.82h-2.04zM159.93 234.5h2.04v8.82h-2.04zM161.71 243.22h2.04v8.82h-2.04zM161.71 278.12h2.04v8.82h-2.04zM163.5 286.85h2.04v8.82h-2.04zM167.07 182.15h2.04v8.82h-2.04zM167.07 251.95h2.04v8.82h-2.04zM167.07 321.75h2.04v8.82h-2.04zM168.86 199.6h2.04v8.82h-2.04zM168.86 278.12h2.04v8.82h-2.04zM168.86 321.75h2.04v8.82h-2.04zM170.64 217.05h2.04v8.82h-2.04zM170.64 225.78h2.04v8.82h-2.04zM170.64 243.22h2.04v8.82h-2.04zM172.43 155.97h2.04v8.82h-2.04zM172.43 313.02h2.04v8.82h-2.04zM172.43 321.75h2.04v8.82h-2.04zM177.7 365.38h2.05v8.82h-2.05zM177.7 400.27h2.05v8.82h-2.05zM179.5 121.07h2.05v8.82h-2.05zM181.3 129.8h2.05v8.82h-2.05zM186.69 60h2.05v8.82h-2.05zM186.69 103.62h2.05v8.82h-2.05zM188.49 68.72h2.05v8.82h-2.05zM188.49 86.17h2.05v8.82h-2.05zM188.49 94.9h2.05v8.82h-2.05zM190.29 278.12h2.05v8.82h-2.05zM190.29 347.93h2.05v8.82h-2.05zM193.88 330.47h2.05v8.82h-2.05zM197.48 121.07h2.05v8.82h-2.05zM202.88 330.47h2.05v8.82h-2.05zM204.67 347.93h2.05v8.82h-2.05zM206.47 86.17h2.05v8.82h-2.05zM208.27 365.38h2.05v8.82h-2.05zM215.46 112.35h2.05v8.82h-2.05zM219.06 68.72h2.05v8.82h-2.05zM220.86 60h2.05v8.82h-2.05zM228.05 304.3h2.05v8.82h-2.05zM229.85 400.27h2.05v8.82h-2.05zM235.24 400.27h2.05v8.82h-2.05zM237.04 304.3h2.05v8.82h-2.05zM244.24 190.88h2.05v8.82h-2.05zM249.63 147.25h2.05v8.82h-2.05zM249.63 155.97h2.05v8.82h-2.05zM251.43 330.47h2.05v8.82h-2.05zM255.03 190.88h2.05v8.82h-2.05zM258.62 155.97h2.05v8.82h-2.05zM258.62 173.43h2.05v8.82h-2.05zM262.22 155.97h2.05v8.82h-2.05zM262.22 164.7h2.05v8.82h-2.05zM262.22 190.88h2.05v8.82h-2.05zM262.22 234.5h2.05v8.82h-2.05zM262.22 321.75h2.05v8.82h-2.05zM265.82 155.97h2.05v8.82h-2.05zM265.82 217.05h2.05v8.82h-2.05zM265.82 225.78h2.05v8.82h-2.05zM267.61 173.43h2.05v8.82h-2.05zM269.41 155.97h2.05v8.82h-2.05zM269.41 164.7h2.05v8.82h-2.05zM269.41 190.88h2.05v8.82h-2.05zM269.41 199.6h2.05v8.82h-2.05zM269.41 208.32h2.05v8.82h-2.05zM269.41 225.78h2.05v8.82h-2.05zM271.21 182.15h2.05v8.82h-2.05zM273.01 173.43h2.05v8.82h-2.05zM273.01 190.88h2.05v8.82h-2.05zM273.01 217.05h2.05v8.82h-2.05zM276.61 155.97h2.05v8.82h-2.05zM278.4 155.97h2.05v8.82h-2.05zM278.4 173.43h2.05v8.82h-2.05zM278.4 217.05h2.05v8.82h-2.05zM278.4 339.2h2.05v8.82h-2.05zM280.2 147.25h2.05v8.82h-2.05z"/>
<path fill="#8274c6" d="M26 155.97h2.04v8.82h-2.04zM26 286.85h2.04v8.82h-2.04zM27.79 147.25h2.04v8.82h-2.04zM27.79 208.32h2.04v8.82h-2.04zM27.79 225.78h2.04v8.82h-2.04zM31.36 182.15h2.04v8.82h-2.04zM31.36 208.32h2.04v8.82h-2.04zM31.36 278.12h2.04v8.82h-2.04zM31.36 321.75h2.04v8.82h-2.04zM33.14 164.7h2.04v8.82h-2.04zM33.14 400.27h2.04v8.82h-2.04zM34.93 155.97h2.04v8.82h-2.04zM34.93 173.43h2.04v8.82h-2.04zM34.93 208.32h2.04v8.82h-2.04zM34.93 234.5h2.04v8.82h-2.04zM34.93 243.22h2.04v8.82h-2.04zM34.93 260.67h2.04v8.82h-2.04zM34.93 269.4h2.04v8.82h-2.04zM34.93 313.02h2.04v8.82h-2.04zM34.93 400.27h2.04v8.82h-2.04zM36.71 260.67h2.04v8.82h-2.04zM36.71 286.85h2.04v8.82h-2.04zM38.5 225.78h2.04v8.82h-2.04zM42.07 147.25h2.04v8.82h-2.04zM42.07 190.88h2.04v8.82h-2.04zM43.86 147.25h2.04v8.82h-2.04zM43.86 190.88h2.04v8.82h-2.04zM43.86 234.5h2.04v8.82h-2.04zM43.86 243.22h2.04v8.82h-2.04zM43.86 278.12h2.04v8.82h-2.04zM43.86 295.57h2.04v8.82h-2.04zM43.86 304.3h2.04v8.82h-2.04zM43.86 321.75h2.04v8.82h-2.04zM45.64 164.7h2.04v8.82h-2.04zM45.64 182.15h2.04v8.82h-2.04zM45.64 225.78h2.04v8.82h-2.04zM47.43 155.97h2.04v8.82h-2.04zM47.43 208.32h2.04v8.82h-2.04zM49.21 173.43h2.04v8.82h-2.04zM49.21 208.32h2.04v8.82h-2.04zM51 155.97h2.04v8.82h-2.04zM51 173.43h2.04v8.82h-2.04zM51 190.88h2.04v8.82h-2.04zM51 225.78h2.04v8.82h-2.04zM51 286.85h2.04v8.82h-2.04zM52.79 155.97h2.04v8.82h-2.04zM52.79 313.02h2.04v8.82h-2.04zM54.57 217.05h2.04v8.82h-2.04zM54.57 260.67h2.04v8.82h-2.04zM56.36 147.25h2.04v8.82h-2.04zM56.36 155.97h2.04v8.82h-2.04zM58.14 304.3h2.04v8.82h-2.04zM59.93 208.32h2.04v8.82h-2.04zM61.71 182.15h2.04v8.82h-2.04zM63.5 182.15h2.04v8.82h-2.04zM63.5 295.57h2.04v8.82h-2.04zM67.07 60h2.04v8.82h-2.04zM67.07 86.17h2.04v8.82h-2.04zM70.64 339.2h2.04v8.82h-2.04zM72.43 217.05h2.04v8.82h-2.04zM72.43 225.78h2.04v8.82h-2.04zM72.43 243.22h2.04v8.82h-2.04zM72.43 278.12h2.04v8.82h-2.04zM74.21 217.05h2.04v8.82h-2.04zM79.57 313.02h2.04v8.82h-2.04zM79.57 321.75h2.04v8.82h-2.04zM84.93 60h2.04v8.82h-2.04zM84.93 86.17h2.04v8.82h-2.04zM84.93 382.82h2.04v8.82h-2.04zM86.71 60h2.04v8.82h-2.04zM86.71 68.72h2.04v8.82h-2.04zM86.71 121.07h2.04v8.82h-2.04zM88.5 164.7h2.04v8.82h-2.04zM88.5 243.22h2.04v8.82h-2.04zM88.5 313.02h2.04v8.82h-2.04zM88.5 321.75h2.04v8.82h-2.04zM90.29 182.15h2.04v8.82h-2.04zM92.07 94.9h2.04v8.82h-2.04zM92.07 112.35h2.04v8.82h-2.04zM92.07 155.97h2.04v8.82h-2.04zM92.07 190.88h2.04v8.82h-2.04zM93.86 182.15h2.04v8.82h-2.04zM95.64 60h2.04v8.82h-2.04zM95.64 103.62h2.04v8.82h-2.04zM95.64 269.4h2.04v8.82h-2.04zM99.21 147.25h2.04v8.82h-2.04zM99.21 182.15h2.04v8.82h-2.04zM99.21 199.6h2.04v8.82h-2.04zM101 60h2.04v8.82h-2.04zM102.79 60h2.04v8.82h-2.04zM102.79 77.45h2.04v8.82h-2.04zM102.79 94.9h2.04v8.82h-2.04zM104.57 339.2h2.04v8.82h-2.04zM106.36 60h2.04v8.82h-2.04zM106.36 112.35h2.04v8.82h-2.04zM106.36 121.07h2.04v8.82h-2.04zM106.36 190.88h2.04v8.82h-2.04zM108.14 77.45h2.04v8.82h-2.04zM108.14 121.07h2.04v8.82h-2.04zM108.14 347.93h2.04v8.82h-2.04zM108.14 365.38h2.04v8.82h-2.04zM109.93 77.45h2.04v8.82h-2.04zM109.93 356.65h2.04v8.82h-2.04zM109.93 365.38h2.04v8.82h-2.04zM111.71 365.38h2.04v8.82h-2.04zM113.5 339.2h2.04v8.82h-2.04zM117.07 339.2h2.04v8.82h-2.04zM117.07 365.38h2.04v8.82h-2.04zM118.86 199.6h2.04v8.82h-2.04zM118.86 339.2h2.04v8.82h-2.04zM120.64 374.1h2.04v8.82h-2.04zM120.64 400.27h2.04v8.82h-2.04zM122.43 77.45h2.04v8.82h-2.04zM122.43 129.8h2.04v8.82h-2.04zM124.21 391.55h2.04v8.82h-2.04zM124.21 400.27h2.04v8.82h-2.04zM126 330.47h2.04v8.82h-2.04zM126 347.93h2.04v8.82h-2.04zM127.79 77.45h2.04v8.82h-2.04zM127.79 356.65h2.04v8.82h-2.04zM127.79 391.55h2.04v8.82h-2.04zM127.79 400.27h2.04v8.82h-2.04zM129.57 86.17h2.04v8.82h-2.04zM129.57 121.07h2.04v8.82h-2.04zM129.57 129.8h2.04v8.82h-2.04zM129.57 173.43h2.04v8.82h-2.04zM131.36 330.47h2.04v8.82h-2.04zM131.36 356.65h2.04v8.82h-2.04zM131.36 391.55h2.04v8.82h-2.04zM133.14 68.72h2.04v8.82h-2.04zM133.14 103.62h2.04v8.82h-2.04zM133.14 356.65h2.04v8.82h-2.04zM134.93 129.8h2.04v8.82h-2.04zM134.93 365.38h2.04v8.82h-2.04zM134.93 382.82h2.04v8.82h-2.04zM136.71 94.9h2.04v8.82h-2.04zM136.71 112.35h2.04v8.82h-2.04zM136.71 121.07h2.04v8.82h-2.04zM136.71 339.2h2.04v8.82h-2.04zM136.71 347.93h2.04v8.82h-2.04zM138.5 94.9h2.04v8.82h-2.04zM138.5 365.38h2.04v8.82h-2.04zM140.29 304.3h2.04v8.82h-2.04zM140.29 313.02h2.04v8.82h-2.04zM140.29 330.47h2.04v8.82h-2.04zM140.29 356.65h2.04v8.82h-2.04zM142.07 103.62h2.04v8.82h-2.04zM142.07 313.02h2.04v8.82h-2.04zM142.07 347.93h2.04v8.82h-2.04zM142.07 374.1h2.04v8.82h-2.04zM142.07 391.55h2.04v8.82h-2.04zM142.07 400.27h2.04v8.82h-2.04zM143.86 121.07h2.04v8.82h-2.04zM145.64 356.65h2.04v8.82h-2.04zM147.43 347.93h2.04v8.82h-2.04zM149.21 68.72h2.04v8.82h-2.04zM149.21 77.45h2.04v8.82h-2.04zM149.21 86.17h2.04v8.82h-2.04zM149.21 112.35h2.04v8.82h-2.04zM149.21 199.6h2.04v8.82h-2.04zM151 400.27h2.04v8.82h-2.04zM152.79 339.2h2.04v8.82h-2.04zM152.79 374.1h2.04v8.82h-2.04zM154.57 77.45h2.04v8.82h-2.04zM154.57 121.07h2.04v8.82h-2.04zM154.57 356.65h2.04v8.82h-2.04zM154.57 374.1h2.04v8.82h-2.04zM156.36 121.07h2.04v8.82h-2.04zM156.36 347.93h2.04v8.82h-2.04zM158.14 77.45h2.04v8.82h-2.04zM158.14 347.93h2.04v8.82h-2.04zM159.93 68.72h2.04v8.82h-2.04zM159.93 86.17h2.04v8.82h-2.04zM159.93 94.9h2.04v8.82h-2.04zM159.93 330.47h2.04v8.82h-2.04zM159.93 347.93h2.04v8.82h-2.04zM159.93 374.1h2.04v8.82h-2.04zM161.71 77.45h2.04v8.82h-2.04zM161.71 103.62h2.04v8.82h-2.04zM161.71 347.93h2.04v8.82h-2.04zM161.71 356.65h2.04v8.82h-2.04zM161.71 365.38h2.04v8.82h-2.04zM161.71 374.1h2.04v8.82h-2.04zM163.5 60h2.04v8.82h-2.04zM163.5 77.45h2.04v8.82h-2.04zM163.5 121.07h2.04v8.82h-2.04zM163.5 339.2h2.04v8.82h-2.04zM165.29 77.45h2.04v8.82h-2.04zM165.29 103.62h2.04v8.82h-2.04zM165.29 356.65h2.04v8.82h-2.04zM165.29 374.1h2.04v8.82h-2.04zM165.29 391.55h2.04v8.82h-2.04zM167.07 103.62h2.04v8.82h-2.04zM168.86 77.45h2.04v8.82h-2.04zM168.86 121.07h2.04v8.82h-2.04zM168.86 339.2h2.04v8.82h-2.04zM170.64 121.07h2.04v8.82h-2.04zM170.64 330.47h2.04v8.82h-2.04zM170.64 391.55h2.04v8.82h-2.04zM172.43 103.62h2.04v8.82h-2.04zM172.43 129.8h2.04v8.82h-2.04zM179.5 286.85h2.05v8.82h-2.05zM181.3 208.32h2.05v8.82h-2.05zM184.89 225.78h2.05v8.82h-2.05zM184.89 260.67h2.05v8.82h-2.05zM184.89 269.4h2.05v8.82h-2.05zM184.89 295.57h2.05v8.82h-2.05zM184.89 356.65h2.05v8.82h-2.05zM186.69 173.43h2.05v8.82h-2.05zM186.69 182.15h2.05v8.82h-2.05zM186.69 208.32h2.05v8.82h-2.05zM186.69 251.95h2.05v8.82h-2.05zM186.69 304.3h2.05v8.82h-2.05zM186.69 321.75h2.05v8.82h-2.05zM188.49 164.7h2.05v8.82h-2.05zM188.49 199.6h2.05v8.82h-2.05zM188.49 208.32h2.05v8.82h-2.05zM188.49 225.78h2.05v8.82h-2.05zM190.29 129.8h2.05v8.82h-2.05zM192.09 155.97h2.05v8.82h-2.05zM192.09 173.43h2.05v8.82h-2.05zM193.88 208.32h2.05v8.82h-2.05zM193.88 225.78h2.05v8.82h-2.05zM193.88 243.22h2.05v8.82h-2.05zM197.48 243.22h2.05v8.82h-2.05zM199.28 147.25h2.05v8.82h-2.05zM199.28 155.97h2.05v8.82h-2.05zM199.28 164.7h2.05v8.82h-2.05zM199.28 400.27h2.05v8.82h-2.05zM201.08 269.4h2.05v8.82h-2.05zM201.08 286.85h2.05v8.82h-2.05zM202.88 155.97h2.05v8.82h-2.05zM202.88 243.22h2.05v8.82h-2.05zM202.88 251.95h2.05v8.82h-2.05zM204.67 286.85h2.05v8.82h-2.05zM206.47 243.22h2.05v8.82h-2.05zM208.27 243.22h2.05v8.82h-2.05zM211.87 155.97h2.05v8.82h-2.05zM211.87 208.32h2.05v8.82h-2.05zM211.87 330.47h2.05v8.82h-2.05zM213.67 225.78h2.05v8.82h-2.05zM217.26 225.78h2.05v8.82h-2.05zM217.26 295.57h2.05v8.82h-2.05zM220.86 382.82h2.05v8.82h-2.05zM222.66 330.47h2.05v8.82h-2.05zM224.46 217.05h2.05v8.82h-2.05zM224.46 321.75h2.05v8.82h-2.05zM226.25 251.95h2.05v8.82h-2.05zM228.05 356.65h2.05v8.82h-2.05zM233.45 199.6h2.05v8.82h-2.05zM233.45 251.95h2.05v8.82h-2.05zM233.45 269.4h2.05v8.82h-2.05zM238.84 155.97h2.05v8.82h-2.05zM238.84 199.6h2.05v8.82h-2.05zM238.84 225.78h2.05v8.82h-2.05zM238.84 347.93h2.05v8.82h-2.05zM238.84 374.1h2.05v8.82h-2.05zM238.84 400.27h2.05v8.82h-2.05zM240.64 129.8h2.05v8.82h-2.05zM240.64 138.52h2.05v8.82h-2.05zM244.24 60h2.05v8.82h-2.05zM244.24 129.8h2.05v8.82h-2.05zM246.03 260.67h2.05v8.82h-2.05zM247.83 243.22h2.05v8.82h-2.05zM247.83 260.67h2.05v8.82h-2.05zM253.23 60h2.05v8.82h-2.05zM253.23 68.72h2.05v8.82h-2.05zM253.23 251.95h2.05v8.82h-2.05zM253.23 304.3h2.05v8.82h-2.05zM255.03 121.07h2.05v8.82h-2.05zM256.82 243.22h2.05v8.82h-2.05zM256.82 251.95h2.05v8.82h-2.05zM256.82 260.67h2.05v8.82h-2.05zM256.82 269.4h2.05v8.82h-2.05zM256.82 321.75h2.05v8.82h-2.05zM260.42 94.9h2.05v8.82h-2.05zM260.42 269.4h2.05v8.82h-2.05zM262.22 68.72h2.05v8.82h-2.05zM262.22 121.07h2.05v8.82h-2.05zM262.22 382.82h2.05v8.82h-2.05zM264.02 77.45h2.05v8.82h-2.05zM264.02 374.1h2.05v8.82h-2.05zM265.82 86.17h2.05v8.82h-2.05zM267.61 68.72h2.05v8.82h-2.05zM267.61 94.9h2.05v8.82h-2.05zM267.61 121.07h2.05v8.82h-2.05zM269.41 251.95h2.05v8.82h-2.05zM271.21 77.45h2.05v8.82h-2.05zM271.21 86.17h2.05v8.82h-2.05zM271.21 138.52h2.05v8.82h-2.05zM271.21 260.67h2.05v8.82h-2.05zM271.21 269.4h2.05v8.82h-2.05zM273.01 60h2.05v8.82h-2.05zM273.01 68.72h2.05v8.82h-2.05zM273.01 77.45h2.05v8.82h-2.05zM273.01 86.17h2.05v8.82h-2.05zM273.01 94.9h2.05v8.82h-2.05zM273.01 382.82h2.05v8.82h-2.05zM274.81 243.22h2.05v8.82h-2.05zM274.81 269.4h2.05v8.82h-2.05zM276.61 77.45h2.05v8.82h-2.05zM276.61 94.9h2.05v8.82h-2.05zM276.61 112.35h2.05v8.82h-2.05zM278.4 77.45h2.05v8.82h-2.05zM278.4 112.35h2.05v8.82h-2.05zM278.4 269.4h2.05v8.82h-2.05zM280.2 339.2h2.05v8.82h-2.05z"/>
<path fill="#a49ad6" d="M26 182.15h2.04v8.82h-2.04zM26 269.4h2.04v8.82h-2.04zM26 304.3h2.04v8.82h-2.04zM27.79 164.7h2.04v8.82h-2.04zM27.79 173.43h2.04v8.82h-2.04zM27.79 217.05h2.04v8.82h-2.04zM29.57 164.7h2.04v8.82h-2.04zM29.57 234.5h2.04v8.82h-2.04zM29.57 286.85h2.04v8.82h-2.04zM31.36 155.97h2.04v8.82h-2.04zM31.36 173.43h2.04v8.82h-2.04zM31.36 225.78h2.04v8.82h-2.04zM31.36 313.02h2.04v8.82h-2.04zM33.14 339.2h2.04v8.82h-2.04zM34.93 147.25h2.04v8.82h-2.04zM34.93 217.05h2.04v8.82h-2.04zM34.93 225.78h2.04v8.82h-2.04zM34.93 286.85h2.04v8.82h-2.04zM34.93 304.3h2.04v8.82h-2.04zM34.93 321.75h2.04v8.82h-2.04zM36.71 155.97h2.04v8.82h-2.04zM36.71 164.7h2.04v8.82h-2.04zM36.71 173.43h2.04v8.82h-2.04zM36.71 295.57h2.04v8.82h-2.04zM36.71 304.3h2.04v8.82h-2.04zM38.5 147.25h2.04v8.82h-2.04zM38.5 173.43h2.04v8.82h-2.04zM38.5 278.12h2.04v8.82h-2.04zM40.29 147.25h2.04v8.82h-2.04zM40.29 208.32h2.04v8.82h-2.04zM42.07 243.22h2.04v8.82h-2.04zM42.07 269.4h2.04v8.82h-2.04zM42.07 304.3h2.04v8.82h-2.04zM43.86 86.17h2.04v8.82h-2.04zM43.86 155.97h2.04v8.82h-2.04zM43.86 173.43h2.04v8.82h-2.04zM43.86 182.15h2.04v8.82h-2.04zM45.64 199.6h2.04v8.82h-2.04zM47.43 182.15h2.04v8.82h-2.04zM47.43 313.02h2.04v8.82h-2.04zM49.21 182.15h2.04v8.82h-2.04zM49.21 217.05h2.04v8.82h-2.04zM52.79 208.32h2.04v8.82h-2.04zM52.79 234.5h2.04v8.82h-2.04zM52.79 295.57h2.04v8.82h-2.04zM54.57 182.15h2.04v8.82h-2.04zM54.57 208.32h2.04v8.82h-2.04zM54.57 269.4h2.04v8.82h-2.04zM54.57 286.85h2.04v8.82h-2.04zM54.57 304.3h2.04v8.82h-2.04zM58.14 121.07h2.04v8.82h-2.04zM58.14 173.43h2.04v8.82h-2.04zM58.14 260.67h2.04v8.82h-2.04zM58.14 286.85h2.04v8.82h-2.04zM58.14 313.02h2.04v8.82h-2.04zM59.93 94.9h2.04v8.82h-2.04zM59.93 173.43h2.04v8.82h-2.04zM59.93 190.88h2.04v8.82h-2.04zM59.93 217.05h2.04v8.82h-2.04zM61.71 155.97h2.04v8.82h-2.04zM61.71 190.88h2.04v8.82h-2.04zM61.71 217.05h2.04v8.82h-2.04zM63.5 155.97h2.04v8.82h-2.04zM63.5 173.43h2.04v8.82h-2.04zM63.5 251.95h2.04v8.82h-2.04zM63.5 269.4h2.04v8.82h-2.04zM63.5 278.12h2.04v8.82h-2.04zM67.07 103.62h2.04v8.82h-2.04zM67.07 121.07h2.04v8.82h-2.04zM67.07 260.67h2.04v8.82h-2.04zM67.07 269.4h2.04v8.82h-2.04zM67.07 313.02h2.04v8.82h-2.04zM68.86 147.25h2.04v8.82h-2.04zM68.86 173.43h2.04v8.82h-2.04zM68.86 208.32h2.04v8.82h-2.04zM70.64 313.02h2.04v8.82h-2.04zM70.64 356.65h2.04v8.82h-2.04zM70.64 374.1h2.04v8.82h-2.04zM72.43 208.32h2.04v8.82h-2.04zM74.21 190.88h2.04v8.82h-2.04zM74.21 208.32h2.04v8.82h-2.04zM77.79 391.55h2.04v8.82h-2.04zM77.79 400.27h2.04v8.82h-2.04zM79.57 286.85h2.04v8.82h-2.04zM79.57 295.57h2.04v8.82h-2.04zM79.57 304.3h2.04v8.82h-2.04zM79.57 374.1h2.04v8.82h-2.04zM81.36 94.9h2.04v8.82h-2.04zM81.36 155.97h2.04v8.82h-2.04zM81.36 356.65h2.04v8.82h-2.04zM83.14 295.57h2.04v8.82h-2.04zM84.93 138.52h2.04v8.82h-2.04zM84.93 339.2h2.04v8.82h-2.04zM84.93 356.65h2.04v8.82h-2.04zM86.71 86.17h2.04v8.82h-2.04zM86.71 94.9h2.04v8.82h-2.04zM86.71 164.7h2.04v8.82h-2.04zM86.71 190.88h2.04v8.82h-2.04zM86.71 286.85h2.04v8.82h-2.04zM88.5 173.43h2.04v8.82h-2.04zM88.5 278.12h2.04v8.82h-2.04zM88.5 286.85h2.04v8.82h-2.04zM88.5 295.57h2.04v8.82h-2.04zM88.5 304.3h2.04v8.82h-2.04zM92.07 68.72h2.04v8.82h-2.04zM92.07 129.8h2.04v8.82h-2.04zM92.07 147.25h2.04v8.82h-2.04zM92.07 182.15h2.04v8.82h-2.04zM92.07 208.32h2.04v8.82h-2.04zM92.07 234.5h2.04v8.82h-2.04zM92.07 278.12h2.04v8.82h-2.04zM92.07 347.93h2.04v8.82h-2.04zM92.07 365.38h2.04v8.82h-2.04zM92.07 382.82h2.04v8.82h-2.04zM93.86 173.43h2.04v8.82h-2.04zM93.86 190.88h2.04v8.82h-2.04zM93.86 304.3h2.04v8.82h-2.04zM93.86 313.02h2.04v8.82h-2.04zM95.64 234.5h2.04v8.82h-2.04zM95.64 365.38h2.04v8.82h-2.04zM95.64 400.27h2.04v8.82h-2.04zM97.43 103.62h2.04v8.82h-2.04zM97.43 278.12h2.04v8.82h-2.04zM97.43 304.3h2.04v8.82h-2.04zM99.21 138.52h2.04v8.82h-2.04zM99.21 155.97h2.04v8.82h-2.04zM99.21 217.05h2.04v8.82h-2.04zM99.21 225.78h2.04v8.82h-2.04zM101 103.62h2.04v8.82h-2.04zM101 121.07h2.04v8.82h-2.04zM102.79 339.2h2.04v8.82h-2.04zM102.79 365.38h2.04v8.82h-2.04zM104.57 103.62h2.04v8.82h-2.04zM104.57 182.15h2.04v8.82h-2.04zM104.57 330.47h2.04v8.82h-2.04zM106.36 86.17h2.04v8.82h-2.04zM106.36 164.7h2.04v8.82h-2.04zM108.14 94.9h2.04v8.82h-2.04zM108.14 382.82h2.04v8.82h-2.04zM109.93 347.93h2.04v8.82h-2.04zM111.71 60h2.04v8.82h-2.04zM111.71 103.62h2.04v8.82h-2.04zM111.71 121.07h2.04v8.82h-2.04zM111.71 339.2h2.04v8.82h-2.04zM113.5 94.9h2.04v8.82h-2.04zM113.5 243.22h2.04v8.82h-2.04zM113.5 356.65h2.04v8.82h-2.04zM115.29 138.52h2.04v8.82h-2.04zM115.29 199.6h2.04v8.82h-2.04zM115.29 339.2h2.04v8.82h-2.04zM117.07 60h2.04v8.82h-2.04zM117.07 391.55h2.04v8.82h-2.04zM117.07 400.27h2.04v8.82h-2.04zM118.86 121.07h2.04v8.82h-2.04zM118.86 164.7h2.04v8.82h-2.04zM118.86 217.05h2.04v8.82h-2.04zM118.86 356.65h2.04v8.82h-2.04zM118.86 400.27h2.04v8.82h-2.04zM120.64 164.7h2.04v8.82h-2.04zM120.64 234.5h2.04v8.82h-2.04zM120.64 243.22h2.04v8.82h-2.04zM120.64 313.02h2.04v8.82h-2.04zM120.64 330.47h2.04v8.82h-2.04zM124.21 60h2.04v8.82h-2.04zM124.21 147.25h2.04v8.82h-2.04zM124.21 225.78h2.04v8.82h-2.04zM124.21 339.2h2.04v8.82h-2.04zM126 60h2.04v8.82h-2.04zM126 339.2h2.04v8.82h-2.04zM126 356.65h2.04v8.82h-2.04zM126 365.38h2.04v8.82h-2.04zM127.79 121.07h2.04v8.82h-2.04zM129.57 77.45h2.04v8.82h-2.04zM131.36 86.17h2.04v8.82h-2.04zM131.36 103.62h2.04v8.82h-2.04zM131.36 129.8h2.04v8.82h-2.04zM131.36 164.7h2.04v8.82h-2.04zM131.36 269.4h2.04v8.82h-2.04zM131.36 382.82h2.04v8.82h-2.04zM133.14 129.8h2.04v8.82h-2.04zM133.14 339.2h2.04v8.82h-2.04zM134.93 77.45h2.04v8.82h-2.04zM134.93 164.7h2.04v8.82h-2.04zM134.93 330.47h2.04v8.82h-2.04zM134.93 391.55h2.04v8.82h-2.04zM136.71 68.72h2.04v8.82h-2.04zM136.71 103.62h2.04v8.82h-2.04zM136.71 356.65h2.04v8.82h-2.04zM138.5 77.45h2.04v8.82h-2.04zM138.5 103.62h2.04v8.82h-2.04zM138.5 330.47h2.04v8.82h-2.04zM138.5 339.2h2.04v8.82h-2.04zM138.5 356.65h2.04v8.82h-2.04zM140.29 103.62h2.04v8.82h-2.04zM140.29 278.12h2.04v8.82h-2.04zM142.07 94.9h2.04v8.82h-2.04zM142.07 382.82h2.04v8.82h-2.04zM143.86 86.17h2.04v8.82h-2.04zM143.86 94.9h2.04v8.82h-2.04zM143.86 138.52h2.04v8.82h-2.04zM143.86 356.65h2.04v8.82h-2.04zM143.86 391.55h2.04v8.82h-2.04zM143.86 400.27h2.04v8.82h-2.04zM147.43 77.45h2.04v8.82h-2.04zM147.43 121.07h2.04v8.82h-2.04zM147.43 147.25h2.04v8.82h-2.04zM149.21 94.9h2.04v8.82h-2.04zM149.21 129.8h2.04v8.82h-2.04zM149.21 173.43h2.04v8.82h-2.04zM149.21 217.05h2.04v8.82h-2.04zM149.21 339.2h2.04v8.82h-2.04zM149.21 374.1h2.04v8.82h-2.04zM151 365.38h2.04v8.82h-2.04zM152.79 68.72h2.04v8.82h-2.04zM152.79 121.07h2.04v8.82h-2.04zM152.79 391.55h2.04v8.82h-2.04zM154.57 330.47h2.04v8.82h-2.04zM154.57 400.27h2.04v8.82h-2.04zM156.36 77.45h2.04v8.82h-2.04zM156.36 330.47h2.04v8.82h-2.04zM156.36 339.2h2.04v8.82h-2.04zM156.36 382.82h2.04v8.82h-2.04zM158.14 121.07h2.04v8.82h-2.04zM159.93 138.52h2.04v8.82h-2.04zM161.71 382.82h2.04v8.82h-2.04zM161.71 400.27h2.04v8.82h-2.04zM163.5 86.17h2.04v8.82h-2.04zM163.5 330.47h2.04v8.82h-2.04zM163.5 347.93h2.04v8.82h-2.04zM163.5 391.55h2.04v8.82h-2.04zM165.29 86.17h2.04v8.82h-2.04zM165.29 121.07h2.04v8.82h-2.04zM165.29 382.82h2.04v8.82h-2.04zM167.07 86.17h2.04v8.82h-2.04zM168.86 68.72h2.04v8.82h-2.04zM168.86 94.9h2.04v8.82h-2.04zM168.86 129.8h2.04v8.82h-2.04zM168.86 391.55h2.04v8.82h-2.04zM170.64 77.45h2.04v8.82h-2.04zM170.64 103.62h2.04v8.82h-2.04zM177.7 217.05h2.05v8.82h-2.05zM177.7 243.22h2.05v8.82h-2.05zM177.7 269.4h2.05v8.82h-2.05zM177.7 286.85h2.05v8.82h-2.05zM177.7 321.75h2.05v8.82h-2.05zM179.5 155.97h2.05v8.82h-2.05zM179.5 251.95h2.05v8.82h-2.05zM179.5 260.67h2.05v8.82h-2.05zM179.5 321.75h2.05v8.82h-2.05zM181.3 155.97h2.05v8.82h-2.05zM181.3 217.05h2.05v8.82h-2.05zM181.3 243.22h2.05v8.82h-2.05zM181.3 260.67h2.05v8.82h-2.05zM181.3 330.47h2.05v8.82h-2.05zM183.09 147.25h2.05v8.82h-2.05zM183.09 173.43h2.05v8.82h-2.05zM183.09 208.32h2.05v8.82h-2.05zM183.09 217.05h2.05v8.82h-2.05zM183.09 225.78h2.05v8.82h-2.05zM184.89 286.85h2.05v8.82h-2.05zM184.89 304.3h2.05v8.82h-2.05zM184.89 313.02h2.05v8.82h-2.05zM184.89 321.75h2.05v8.82h-2.05zM184.89 374.1h2.05v8.82h-2.05zM184.89 391.55h2.05v8.82h-2.05zM184.89 400.27h2.05v8.82h-2.05zM186.69 190.88h2.05v8.82h-2.05zM186.69 234.5h2.05v8.82h-2.05zM186.69 260.67h2.05v8.82h-2.05zM186.69 313.02h2.05v8.82h-2.05zM188.49 147.25h2.05v8.82h-2.05zM190.29 199.6h2.05v8.82h-2.05zM190.29 217.05h2.05v8.82h-2.05zM190.29 225.78h2.05v8.82h-2.05zM190.29 260.67h2.05v8.82h-2.05zM192.09 182.15h2.05v8.82h-2.05zM192.09 208.32h2.05v8.82h-2.05zM193.88 155.97h2.05v8.82h-2.05zM193.88 164.7h2.05v8.82h-2.05zM195.68 295.57h2.05v8.82h-2.05zM197.48 225.78h2.05v8.82h-2.05zM197.48 295.57h2.05v8.82h-2.05zM197.48 347.93h2.05v8.82h-2.05zM199.28 260.67h2.05v8.82h-2.05zM199.28 278.12h2.05v8.82h-2.05zM201.08 94.9h2.05v8.82h-2.05zM204.67 173.43h2.05v8.82h-2.05zM204.67 217.05h2.05v8.82h-2.05zM204.67 260.67h2.05v8.82h-2.05zM204.67 321.75h2.05v8.82h-2.05zM206.47 260.67h2.05v8.82h-2.05zM206.47 304.3h2.05v8.82h-2.05zM210.07 129.8h2.05v8.82h-2.05zM210.07 260.67h2.05v8.82h-2.05zM211.87 217.05h2.05v8.82h-2.05zM215.46 225.78h2.05v8.82h-2.05zM215.46 243.22h2.05v8.82h-2.05zM217.26 199.6h2.05v8.82h-2.05zM217.26 243.22h2.05v8.82h-2.05zM217.26 269.4h2.05v8.82h-2.05zM217.26 286.85h2.05v8.82h-2.05zM217.26 321.75h2.05v8.82h-2.05zM219.06 217.05h2.05v8.82h-2.05zM220.86 356.65h2.05v8.82h-2.05zM222.66 382.82h2.05v8.82h-2.05zM224.46 278.12h2.05v8.82h-2.05zM224.46 304.3h2.05v8.82h-2.05zM226.25 269.4h2.05v8.82h-2.05zM231.65 400.27h2.05v8.82h-2.05zM235.24 243.22h2.05v8.82h-2.05zM237.04 68.72h2.05v8.82h-2.05zM238.84 68.72h2.05v8.82h-2.05zM238.84 94.9h2.05v8.82h-2.05zM238.84 382.82h2.05v8.82h-2.05zM240.64 103.62h2.05v8.82h-2.05zM240.64 199.6h2.05v8.82h-2.05zM240.64 208.32h2.05v8.82h-2.05zM240.64 225.78h2.05v8.82h-2.05zM240.64 313.02h2.05v8.82h-2.05zM242.44 251.95h2.05v8.82h-2.05zM246.03 77.45h2.05v8.82h-2.05zM246.03 86.17h2.05v8.82h-2.05zM246.03 295.57h2.05v8.82h-2.05zM247.83 225.78h2.05v8.82h-2.05zM247.83 251.95h2.05v8.82h-2.05zM247.83 304.3h2.05v8.82h-2.05zM247.83 313.02h2.05v8.82h-2.05zM249.63 234.5h2.05v8.82h-2.05zM249.63 391.55h2.05v8.82h-2.05zM251.43 77.45h2.05v8.82h-2.05zM251.43 129.8h2.05v8.82h-2.05zM251.43 138.52h2.05v8.82h-2.05zM253.23 77.45h2.05v8.82h-2.05zM253.23 94.9h2.05v8.82h-2.05zM253.23 112.35h2.05v8.82h-2.05zM253.23 138.52h2.05v8.82h-2.05zM253.23 260.67h2.05v8.82h-2.05zM253.23 382.82h2.05v8.82h-2.05zM255.03 112.35h2.05v8.82h-2.05zM255.03 243.22h2.05v8.82h-2.05zM255.03 251.95h2.05v8.82h-2.05zM255.03 382.82h2.05v8.82h-2.05zM256.82 286.85h2.05v8.82h-2.05zM256.82 295.57h2.05v8.82h-2.05zM258.62 234.5h2.05v8.82h-2.05zM258.62 243.22h2.05v8.82h-2.05zM258.62 313.02h2.05v8.82h-2.05zM260.42 121.07h2.05v8.82h-2.05zM260.42 295.57h2.05v8.82h-2.05zM264.02 121.07h2.05v8.82h-2.05zM264.02 138.52h2.05v8.82h-2.05zM264.02 339.2h2.05v8.82h-2.05zM264.02 391.55h2.05v8.82h-2.05zM265.82 260.67h2.05v8.82h-2.05zM265.82 382.82h2.05v8.82h-2.05zM265.82 400.27h2.05v8.82h-2.05zM267.61 86.17h2.05v8.82h-2.05zM267.61 112.35h2.05v8.82h-2.05zM267.61 138.52h2.05v8.82h-2.05zM269.41 103.62h2.05v8.82h-2.05zM269.41 121.07h2.05v8.82h-2.05zM271.21 103.62h2.05v8.82h-2.05zM271.21 129.8h2.05v8.82h-2.05zM271.21 243.22h2.05v8.82h-2.05zM273.01 251.95h2.05v8.82h-2.05zM274.81 68.72h2.05v8.82h-2.05zM274.81 86.17h2.05v8.82h-2.05zM276.61 86.17h2.05v8.82h-2.05zM278.4 86.17h2.05v8.82h-2.05zM278.4 94.9h2.05v8.82h-2.05zM278.4 138.52h2.05v8.82h-2.05zM278.4 234.5h2.05v8.82h-2.05zM278.4 382.82h2.05v8.82h-2.05zM280.2 77.45h2.05v8.82h-2.05zM280.2 86.17h2.05v8.82h-2.05zM280.2 103.62h2.05v8.82h-2.05zM280.2 138.52h2.05v8.82h-2.05zM280.2 234.5h2.05v8.82h-2.05zM280.2 243.22h2.05v8.82h-2.05zM280.2 251.95h2.05v8.82h-2.05zM280.2 260.67h2.05v8.82h-2.05zM280.2 295.57h2.05v8.82h-2.05zM280.2 347.93h2.05v8.82h-2.05zM280.2 374.1h2.05v8.82h-2.05z"/>
<path fill="#7060b7" d="M26 190.88h2.04v8.82h-2.04zM29.57 278.12h2.04v8.82h-2.04zM31.36 234.5h2.04v8.82h-2.04zM31.36 269.4h2.04v8.82h-2.04zM33.14 155.97h2.04v8.82h-2.04zM34.93 164.7h2.04v8.82h-2.04zM34.93 182.15h2.04v8.82h-2.04zM36.71 190.88h2.04v8.82h-2.04zM36.71 217.05h2.04v8.82h-2.04zM36.71 234.5h2.04v8.82h-2.04zM36.71 278.12h2.04v8.82h-2.04zM36.71 321.75h2.04v8.82h-2.04zM38.5 155.97h2.04v8.82h-2.04zM38.5 208.32h2.04v8.82h-2.04zM42.07 313.02h2.04v8.82h-2.04zM43.86 164.7h2.04v8.82h-2.04zM45.64 147.25h2.04v8.82h-2.04zM45.64 217.05h2.04v8.82h-2.04zM47.43 164.7h2.04v8.82h-2.04zM47.43 286.85h2.04v8.82h-2.04zM49.21 147.25h2.04v8.82h-2.04zM49.21 155.97h2.04v8.82h-2.04zM49.21 225.78h2.04v8.82h-2.04zM54.57 164.7h2.04v8.82h-2.04zM54.57 234.5h2.04v8.82h-2.04zM54.57 400.27h2.04v8.82h-2.04zM58.14 182.15h2.04v8.82h-2.04zM61.71 208.32h2.04v8.82h-2.04zM63.5 164.7h2.04v8.82h-2.04zM63.5 313.02h2.04v8.82h-2.04zM67.07 304.3h2.04v8.82h-2.04zM68.86 190.88h2.04v8.82h-2.04zM68.86 313.02h2.04v8.82h-2.04zM70.64 321.75h2.04v8.82h-2.04zM72.43 286.85h2.04v8.82h-2.04zM72.43 304.3h2.04v8.82h-2.04zM74.21 121.07h2.04v8.82h-2.04zM74.21 182.15h2.04v8.82h-2.04zM84.93 103.62h2.04v8.82h-2.04zM88.5 155.97h2.04v8.82h-2.04zM88.5 190.88h2.04v8.82h-2.04zM92.07 103.62h2.04v8.82h-2.04zM99.21 60h2.04v8.82h-2.04zM102.79 356.65h2.04v8.82h-2.04zM108.14 112.35h2.04v8.82h-2.04zM111.71 400.27h2.04v8.82h-2.04zM113.5 347.93h2.04v8.82h-2.04zM120.64 269.4h2.04v8.82h-2.04zM120.64 304.3h2.04v8.82h-2.04zM120.64 347.93h2.04v8.82h-2.04zM120.64 391.55h2.04v8.82h-2.04zM122.43 60h2.04v8.82h-2.04zM122.43 121.07h2.04v8.82h-2.04zM122.43 138.52h2.04v8.82h-2.04zM122.43 365.38h2.04v8.82h-2.04zM124.21 330.47h2.04v8.82h-2.04zM124.21 347.93h2.04v8.82h-2.04zM127.79 339.2h2.04v8.82h-2.04zM127.79 374.1h2.04v8.82h-2.04zM129.57 60h2.04v8.82h-2.04zM129.57 94.9h2.04v8.82h-2.04zM131.36 121.07h2.04v8.82h-2.04zM131.36 138.52h2.04v8.82h-2.04zM131.36 374.1h2.04v8.82h-2.04zM131.36 400.27h2.04v8.82h-2.04zM133.14 77.45h2.04v8.82h-2.04zM134.93 347.93h2.04v8.82h-2.04zM134.93 374.1h2.04v8.82h-2.04zM136.71 60h2.04v8.82h-2.04zM136.71 77.45h2.04v8.82h-2.04zM136.71 86.17h2.04v8.82h-2.04zM136.71 129.8h2.04v8.82h-2.04zM136.71 382.82h2.04v8.82h-2.04zM138.5 347.93h2.04v8.82h-2.04zM142.07 330.47h2.04v8.82h-2.04zM142.07 339.2h2.04v8.82h-2.04zM142.07 356.65h2.04v8.82h-2.04zM142.07 365.38h2.04v8.82h-2.04zM143.86 60h2.04v8.82h-2.04zM143.86 103.62h2.04v8.82h-2.04zM143.86 347.93h2.04v8.82h-2.04zM147.43 68.72h2.04v8.82h-2.04zM147.43 339.2h2.04v8.82h-2.04zM147.43 356.65h2.04v8.82h-2.04zM147.43 382.82h2.04v8.82h-2.04zM149.21 60h2.04v8.82h-2.04zM149.21 121.07h2.04v8.82h-2.04zM149.21 147.25h2.04v8.82h-2.04zM151 347.93h2.04v8.82h-2.04zM152.79 77.45h2.04v8.82h-2.04zM152.79 103.62h2.04v8.82h-2.04zM152.79 382.82h2.04v8.82h-2.04zM158.14 330.47h2.04v8.82h-2.04zM158.14 382.82h2.04v8.82h-2.04zM158.14 400.27h2.04v8.82h-2.04zM159.93 60h2.04v8.82h-2.04zM159.93 77.45h2.04v8.82h-2.04zM159.93 103.62h2.04v8.82h-2.04zM159.93 121.07h2.04v8.82h-2.04zM159.93 356.65h2.04v8.82h-2.04zM161.71 330.47h2.04v8.82h-2.04zM163.5 103.62h2.04v8.82h-2.04zM163.5 365.38h2.04v8.82h-2.04zM163.5 400.27h2.04v8.82h-2.04zM165.29 339.2h2.04v8.82h-2.04zM165.29 347.93h2.04v8.82h-2.04zM165.29 400.27h2.04v8.82h-2.04zM167.07 356.65h2.04v8.82h-2.04zM168.86 103.62h2.04v8.82h-2.04zM168.86 356.65h2.04v8.82h-2.04zM170.64 86.17h2.04v8.82h-2.04zM170.64 382.82h2.04v8.82h-2.04zM172.43 77.45h2.04v8.82h-2.04zM172.43 330.47h2.04v8.82h-2.04zM172.43 356.65h2.04v8.82h-2.04zM174.21 339.2h2.04v8.82h-2.04zM174.21 356.65h2.04v8.82h-2.04zM174.21 365.38h2.04v8.82h-2.04zM174.21 374.1h2.04v8.82h-2.04zM174.21 400.27h2.04v8.82h-2.04zM179.5 190.88h2.05v8.82h-2.05zM179.5 243.22h2.05v8.82h-2.05zM179.5 295.57h2.05v8.82h-2.05zM181.3 164.7h2.05v8.82h-2.05zM183.09 155.97h2.05v8.82h-2.05zM183.09 182.15h2.05v8.82h-2.05zM184.89 234.5h2.05v8.82h-2.05zM184.89 251.95h2.05v8.82h-2.05zM186.69 155.97h2.05v8.82h-2.05zM186.69 164.7h2.05v8.82h-2.05zM186.69 243.22h2.05v8.82h-2.05zM186.69 269.4h2.05v8.82h-2.05zM188.49 155.97h2.05v8.82h-2.05zM188.49 173.43h2.05v8.82h-2.05zM195.68 147.25h2.05v8.82h-2.05zM195.68 155.97h2.05v8.82h-2.05zM195.68 217.05h2.05v8.82h-2.05zM195.68 225.78h2.05v8.82h-2.05zM199.28 199.6h2.05v8.82h-2.05zM199.28 225.78h2.05v8.82h-2.05zM199.28 321.75h2.05v8.82h-2.05zM199.28 391.55h2.05v8.82h-2.05zM202.88 321.75h2.05v8.82h-2.05zM204.67 243.22h2.05v8.82h-2.05zM204.67 251.95h2.05v8.82h-2.05zM206.47 234.5h2.05v8.82h-2.05zM206.47 269.4h2.05v8.82h-2.05zM210.07 243.22h2.05v8.82h-2.05zM211.87 190.88h2.05v8.82h-2.05zM211.87 225.78h2.05v8.82h-2.05zM217.26 251.95h2.05v8.82h-2.05zM217.26 260.67h2.05v8.82h-2.05zM222.66 374.1h2.05v8.82h-2.05zM224.46 251.95h2.05v8.82h-2.05zM224.46 269.4h2.05v8.82h-2.05zM231.65 382.82h2.05v8.82h-2.05zM233.45 243.22h2.05v8.82h-2.05zM238.84 129.8h2.05v8.82h-2.05zM244.24 86.17h2.05v8.82h-2.05zM246.03 234.5h2.05v8.82h-2.05zM247.83 321.75h2.05v8.82h-2.05zM249.63 251.95h2.05v8.82h-2.05zM253.23 295.57h2.05v8.82h-2.05zM258.62 60h2.05v8.82h-2.05zM258.62 86.17h2.05v8.82h-2.05zM258.62 260.67h2.05v8.82h-2.05zM260.42 60h2.05v8.82h-2.05zM260.42 77.45h2.05v8.82h-2.05zM260.42 112.35h2.05v8.82h-2.05zM262.22 86.17h2.05v8.82h-2.05zM262.22 103.62h2.05v8.82h-2.05zM262.22 112.35h2.05v8.82h-2.05zM264.02 86.17h2.05v8.82h-2.05zM265.82 374.1h2.05v8.82h-2.05zM267.61 77.45h2.05v8.82h-2.05zM269.41 86.17h2.05v8.82h-2.05zM269.41 112.35h2.05v8.82h-2.05zM269.41 129.8h2.05v8.82h-2.05zM269.41 138.52h2.05v8.82h-2.05zM273.01 103.62h2.05v8.82h-2.05zM273.01 112.35h2.05v8.82h-2.05zM273.01 129.8h2.05v8.82h-2.05zM276.61 60h2.05v8.82h-2.05zM276.61 129.8h2.05v8.82h-2.05zM276.61 138.52h2.05v8.82h-2.05zM278.4 295.57h2.05v8.82h-2.05zM280.2 112.35h2.05v8.82h-2.05zM280.2 391.55h2.05v8.82h-2.05zM280.2 400.27h2.05v8.82h-2.05z"/>
<path fill="#e0dcf1" d="M26 234.5h2.04v8.82h-2.04zM26 278.12h2.04v8.82h-2.04zM26 313.02h2.04v8.82h-2.04zM26 365.38h2.04v8.82h-2.04zM27.79 251.95h2.04v8.82h-2.04zM27.79 260.67h2.04v8.82h-2.04zM27.79 313.02h2.04v8.82h-2.04zM27.79 321.75h2.04v8.82h-2.04zM29.57 208.32h2.04v8.82h-2.04zM31.36 60h2.04v8.82h-2.04zM31.36 68.72h2.04v8.82h-2.04zM31.36 304.3h2.04v8.82h-2.04zM33.14 68.72h2.04v8.82h-2.04zM33.14 138.52h2.04v8.82h-2.04zM33.14 147.25h2.04v8.82h-2.04zM33.14 208.32h2.04v8.82h-2.04zM33.14 225.78h2.04v8.82h-2.04zM33.14 330.47h2.04v8.82h-2.04zM34.93 356.65h2.04v8.82h-2.04zM36.71 182.15h2.04v8.82h-2.04zM36.71 269.4h2.04v8.82h-2.04zM38.5 234.5h2.04v8.82h-2.04zM38.5 269.4h2.04v8.82h-2.04zM38.5 295.57h2.04v8.82h-2.04zM38.5 304.3h2.04v8.82h-2.04zM40.29 60h2.04v8.82h-2.04zM40.29 173.43h2.04v8.82h-2.04zM40.29 182.15h2.04v8.82h-2.04zM40.29 217.05h2.04v8.82h-2.04zM40.29 286.85h2.04v8.82h-2.04zM40.29 304.3h2.04v8.82h-2.04zM42.07 60h2.04v8.82h-2.04zM42.07 121.07h2.04v8.82h-2.04zM42.07 155.97h2.04v8.82h-2.04zM42.07 234.5h2.04v8.82h-2.04zM42.07 260.67h2.04v8.82h-2.04zM42.07 278.12h2.04v8.82h-2.04zM42.07 286.85h2.04v8.82h-2.04zM42.07 321.75h2.04v8.82h-2.04zM43.86 225.78h2.04v8.82h-2.04zM43.86 251.95h2.04v8.82h-2.04zM43.86 260.67h2.04v8.82h-2.04zM43.86 286.85h2.04v8.82h-2.04zM45.64 260.67h2.04v8.82h-2.04zM45.64 339.2h2.04v8.82h-2.04zM45.64 356.65h2.04v8.82h-2.04zM45.64 374.1h2.04v8.82h-2.04zM47.43 199.6h2.04v8.82h-2.04zM47.43 243.22h2.04v8.82h-2.04zM47.43 304.3h2.04v8.82h-2.04zM47.43 356.65h2.04v8.82h-2.04zM49.21 313.02h2.04v8.82h-2.04zM51 138.52h2.04v8.82h-2.04zM51 217.05h2.04v8.82h-2.04zM51 313.02h2.04v8.82h-2.04zM52.79 164.7h2.04v8.82h-2.04zM52.79 217.05h2.04v8.82h-2.04zM52.79 269.4h2.04v8.82h-2.04zM52.79 278.12h2.04v8.82h-2.04zM52.79 304.3h2.04v8.82h-2.04zM52.79 321.75h2.04v8.82h-2.04zM52.79 365.38h2.04v8.82h-2.04zM52.79 382.82h2.04v8.82h-2.04zM54.57 86.17h2.04v8.82h-2.04zM54.57 155.97h2.04v8.82h-2.04zM54.57 251.95h2.04v8.82h-2.04zM54.57 365.38h2.04v8.82h-2.04zM56.36 60h2.04v8.82h-2.04zM56.36 190.88h2.04v8.82h-2.04zM56.36 217.05h2.04v8.82h-2.04zM56.36 225.78h2.04v8.82h-2.04zM56.36 234.5h2.04v8.82h-2.04zM56.36 269.4h2.04v8.82h-2.04zM56.36 286.85h2.04v8.82h-2.04zM56.36 295.57h2.04v8.82h-2.04zM56.36 304.3h2.04v8.82h-2.04zM58.14 164.7h2.04v8.82h-2.04zM58.14 243.22h2.04v8.82h-2.04zM59.93 164.7h2.04v8.82h-2.04zM59.93 278.12h2.04v8.82h-2.04zM59.93 286.85h2.04v8.82h-2.04zM61.71 60h2.04v8.82h-2.04zM61.71 68.72h2.04v8.82h-2.04zM61.71 164.7h2.04v8.82h-2.04zM61.71 225.78h2.04v8.82h-2.04zM61.71 234.5h2.04v8.82h-2.04zM61.71 251.95h2.04v8.82h-2.04zM61.71 295.57h2.04v8.82h-2.04zM61.71 313.02h2.04v8.82h-2.04zM61.71 356.65h2.04v8.82h-2.04zM63.5 147.25h2.04v8.82h-2.04zM63.5 260.67h2.04v8.82h-2.04zM65.29 155.97h2.04v8.82h-2.04zM65.29 173.43h2.04v8.82h-2.04zM65.29 217.05h2.04v8.82h-2.04zM65.29 225.78h2.04v8.82h-2.04zM65.29 313.02h2.04v8.82h-2.04zM65.29 347.93h2.04v8.82h-2.04zM65.29 356.65h2.04v8.82h-2.04zM65.29 374.1h2.04v8.82h-2.04zM67.07 77.45h2.04v8.82h-2.04zM67.07 138.52h2.04v8.82h-2.04zM67.07 147.25h2.04v8.82h-2.04zM67.07 155.97h2.04v8.82h-2.04zM67.07 182.15h2.04v8.82h-2.04zM67.07 251.95h2.04v8.82h-2.04zM67.07 286.85h2.04v8.82h-2.04zM68.86 155.97h2.04v8.82h-2.04zM68.86 234.5h2.04v8.82h-2.04zM68.86 269.4h2.04v8.82h-2.04zM68.86 347.93h2.04v8.82h-2.04zM70.64 121.07h2.04v8.82h-2.04zM70.64 164.7h2.04v8.82h-2.04zM70.64 208.32h2.04v8.82h-2.04zM70.64 234.5h2.04v8.82h-2.04zM70.64 251.95h2.04v8.82h-2.04zM70.64 278.12h2.04v8.82h-2.04zM70.64 286.85h2.04v8.82h-2.04zM70.64 365.38h2.04v8.82h-2.04zM70.64 382.82h2.04v8.82h-2.04zM72.43 60h2.04v8.82h-2.04zM72.43 68.72h2.04v8.82h-2.04zM72.43 121.07h2.04v8.82h-2.04zM72.43 190.88h2.04v8.82h-2.04zM72.43 199.6h2.04v8.82h-2.04zM72.43 321.75h2.04v8.82h-2.04zM74.21 164.7h2.04v8.82h-2.04zM74.21 173.43h2.04v8.82h-2.04zM74.21 225.78h2.04v8.82h-2.04zM74.21 286.85h2.04v8.82h-2.04zM74.21 313.02h2.04v8.82h-2.04zM74.21 321.75h2.04v8.82h-2.04zM76 313.02h2.04v8.82h-2.04zM76 356.65h2.04v8.82h-2.04zM77.79 147.25h2.04v8.82h-2.04zM77.79 155.97h2.04v8.82h-2.04zM77.79 182.15h2.04v8.82h-2.04zM77.79 225.78h2.04v8.82h-2.04zM77.79 260.67h2.04v8.82h-2.04zM77.79 365.38h2.04v8.82h-2.04zM79.57 155.97h2.04v8.82h-2.04zM79.57 164.7h2.04v8.82h-2.04zM79.57 251.95h2.04v8.82h-2.04zM79.57 269.4h2.04v8.82h-2.04zM79.57 278.12h2.04v8.82h-2.04zM79.57 347.93h2.04v8.82h-2.04zM79.57 391.55h2.04v8.82h-2.04zM79.57 400.27h2.04v8.82h-2.04zM81.36 147.25h2.04v8.82h-2.04zM81.36 164.7h2.04v8.82h-2.04zM81.36 313.02h2.04v8.82h-2.04zM81.36 339.2h2.04v8.82h-2.04zM81.36 400.27h2.04v8.82h-2.04zM83.14 60h2.04v8.82h-2.04zM83.14 86.17h2.04v8.82h-2.04zM83.14 147.25h2.04v8.82h-2.04zM83.14 217.05h2.04v8.82h-2.04zM83.14 234.5h2.04v8.82h-2.04zM83.14 269.4h2.04v8.82h-2.04zM83.14 278.12h2.04v8.82h-2.04zM83.14 304.3h2.04v8.82h-2.04zM84.93 77.45h2.04v8.82h-2.04zM84.93 94.9h2.04v8.82h-2.04zM84.93 129.8h2.04v8.82h-2.04zM84.93 164.7h2.04v8.82h-2.04zM84.93 330.47h2.04v8.82h-2.04zM84.93 365.38h2.04v8.82h-2.04zM84.93 391.55h2.04v8.82h-2.04zM86.71 77.45h2.04v8.82h-2.04zM86.71 112.35h2.04v8.82h-2.04zM86.71 347.93h2.04v8.82h-2.04zM86.71 382.82h2.04v8.82h-2.04zM88.5 199.6h2.04v8.82h-2.04zM88.5 225.78h2.04v8.82h-2.04zM88.5 234.5h2.04v8.82h-2.04zM88.5 251.95h2.04v8.82h-2.04zM88.5 260.67h2.04v8.82h-2.04zM88.5 269.4h2.04v8.82h-2.04zM88.5 365.38h2.04v8.82h-2.04zM90.29 86.17h2.04v8.82h-2.04zM90.29 103.62h2.04v8.82h-2.04zM90.29 155.97h2.04v8.82h-2.04zM90.29 217.05h2.04v8.82h-2.04zM90.29 251.95h2.04v8.82h-2.04zM92.07 86.17h2.04v8.82h-2.04zM92.07 217.05h2.04v8.82h-2.04zM92.07 330.47h2.04v8.82h-2.04zM93.86 147.25h2.04v8.82h-2.04zM93.86 260.67h2.04v8.82h-2.04zM95.64 77.45h2.04v8.82h-2.04zM95.64 286.85h2.04v8.82h-2.04zM95.64 304.3h2.04v8.82h-2.04zM95.64 321.75h2.04v8.82h-2.04zM95.64 382.82h2.04v8.82h-2.04zM97.43 260.67h2.04v8.82h-2.04zM97.43 313.02h2.04v8.82h-2.04zM97.43 339.2h2.04v8.82h-2.04zM97.43 347.93h2.04v8.82h-2.04zM97.43 365.38h2.04v8.82h-2.04zM99.21 112.35h2.04v8.82h-2.04zM99.21 400.27h2.04v8.82h-2.04zM101 68.72h2.04v8.82h-2.04zM101 77.45h2.04v8.82h-2.04zM101 94.9h2.04v8.82h-2.04zM101 208.32h2.04v8.82h-2.04zM101 269.4h2.04v8.82h-2.04zM101 278.12h2.04v8.82h-2.04zM101 356.65h2.04v8.82h-2.04zM101 391.55h2.04v8.82h-2.04zM102.79 86.17h2.04v8.82h-2.04zM102.79 138.52h2.04v8.82h-2.04zM102.79 278.12h2.04v8.82h-2.04zM102.79 304.3h2.04v8.82h-2.04zM102.79 374.1h2.04v8.82h-2.04zM102.79 382.82h2.04v8.82h-2.04zM102.79 391.55h2.04v8.82h-2.04zM102.79 400.27h2.04v8.82h-2.04zM104.57 112.35h2.04v8.82h-2.04zM104.57 208.32h2.04v8.82h-2.04zM104.57 225.78h2.04v8.82h-2.04zM104.57 356.65h2.04v8.82h-2.04zM106.36 103.62h2.04v8.82h-2.04zM106.36 147.25h2.04v8.82h-2.04zM106.36 155.97h2.04v8.82h-2.04zM106.36 304.3h2.04v8.82h-2.04zM108.14 103.62h2.04v8.82h-2.04zM108.14 330.47h2.04v8.82h-2.04zM109.93 339.2h2.04v8.82h-2.04zM111.71 77.45h2.04v8.82h-2.04zM111.71 86.17h2.04v8.82h-2.04zM111.71 94.9h2.04v8.82h-2.04zM111.71 112.35h2.04v8.82h-2.04zM111.71 138.52h2.04v8.82h-2.04zM111.71 173.43h2.04v8.82h-2.04zM113.5 60h2.04v8.82h-2.04zM113.5 103.62h2.04v8.82h-2.04zM113.5 173.43h2.04v8.82h-2.04zM113.5 260.67h2.04v8.82h-2.04zM113.5 269.4h2.04v8.82h-2.04zM113.5 321.75h2.04v8.82h-2.04zM113.5 400.27h2.04v8.82h-2.04zM115.29 60h2.04v8.82h-2.04zM115.29 103.62h2.04v8.82h-2.04zM115.29 112.35h2.04v8.82h-2.04zM115.29 121.07h2.04v8.82h-2.04zM115.29 129.8h2.04v8.82h-2.04zM115.29 155.97h2.04v8.82h-2.04zM117.07 138.52h2.04v8.82h-2.04zM117.07 330.47h2.04v8.82h-2.04zM117.07 347.93h2.04v8.82h-2.04zM117.07 356.65h2.04v8.82h-2.04zM117.07 382.82h2.04v8.82h-2.04zM118.86 103.62h2.04v8.82h-2.04zM118.86 182.15h2.04v8.82h-2.04zM118.86 208.32h2.04v8.82h-2.04zM118.86 225.78h2.04v8.82h-2.04zM118.86 278.12h2.04v8.82h-2.04zM118.86 347.93h2.04v8.82h-2.04zM120.64 60h2.04v8.82h-2.04zM120.64 86.17h2.04v8.82h-2.04zM120.64 94.9h2.04v8.82h-2.04zM120.64 147.25h2.04v8.82h-2.04zM120.64 260.67h2.04v8.82h-2.04zM120.64 286.85h2.04v8.82h-2.04zM120.64 339.2h2.04v8.82h-2.04zM122.43 94.9h2.04v8.82h-2.04zM124.21 86.17h2.04v8.82h-2.04zM124.21 217.05h2.04v8.82h-2.04zM126 77.45h2.04v8.82h-2.04zM126 121.07h2.04v8.82h-2.04zM126 138.52h2.04v8.82h-2.04zM126 217.05h2.04v8.82h-2.04zM126 382.82h2.04v8.82h-2.04zM126 391.55h2.04v8.82h-2.04zM127.79 86.17h2.04v8.82h-2.04zM127.79 304.3h2.04v8.82h-2.04zM127.79 321.75h2.04v8.82h-2.04zM127.79 330.47h2.04v8.82h-2.04zM129.57 68.72h2.04v8.82h-2.04zM129.57 103.62h2.04v8.82h-2.04zM129.57 164.7h2.04v8.82h-2.04zM129.57 190.88h2.04v8.82h-2.04zM129.57 304.3h2.04v8.82h-2.04zM129.57 313.02h2.04v8.82h-2.04zM131.36 94.9h2.04v8.82h-2.04zM131.36 112.35h2.04v8.82h-2.04zM131.36 208.32h2.04v8.82h-2.04zM131.36 217.05h2.04v8.82h-2.04zM131.36 286.85h2.04v8.82h-2.04zM133.14 60h2.04v8.82h-2.04zM133.14 365.38h2.04v8.82h-2.04zM134.93 138.52h2.04v8.82h-2.04zM134.93 182.15h2.04v8.82h-2.04zM138.5 121.07h2.04v8.82h-2.04zM138.5 138.52h2.04v8.82h-2.04zM138.5 391.55h2.04v8.82h-2.04zM140.29 60h2.04v8.82h-2.04zM140.29 182.15h2.04v8.82h-2.04zM140.29 251.95h2.04v8.82h-2.04zM140.29 269.4h2.04v8.82h-2.04zM140.29 339.2h2.04v8.82h-2.04zM142.07 121.07h2.04v8.82h-2.04zM142.07 164.7h2.04v8.82h-2.04zM142.07 278.12h2.04v8.82h-2.04zM143.86 129.8h2.04v8.82h-2.04zM143.86 147.25h2.04v8.82h-2.04zM143.86 365.38h2.04v8.82h-2.04zM145.64 77.45h2.04v8.82h-2.04zM145.64 121.07h2.04v8.82h-2.04zM145.64 286.85h2.04v8.82h-2.04zM145.64 304.3h2.04v8.82h-2.04zM147.43 60h2.04v8.82h-2.04zM147.43 94.9h2.04v8.82h-2.04zM147.43 112.35h2.04v8.82h-2.04zM147.43 208.32h2.04v8.82h-2.04zM147.43 217.05h2.04v8.82h-2.04zM149.21 313.02h2.04v8.82h-2.04zM149.21 365.38h2.04v8.82h-2.04zM151 68.72h2.04v8.82h-2.04zM151 339.2h2.04v8.82h-2.04zM151 356.65h2.04v8.82h-2.04zM151 374.1h2.04v8.82h-2.04zM151 382.82h2.04v8.82h-2.04zM152.79 86.17h2.04v8.82h-2.04zM152.79 112.35h2.04v8.82h-2.04zM152.79 330.47h2.04v8.82h-2.04zM152.79 347.93h2.04v8.82h-2.04zM152.79 356.65h2.04v8.82h-2.04zM152.79 400.27h2.04v8.82h-2.04zM154.57 60h2.04v8.82h-2.04zM154.57 68.72h2.04v8.82h-2.04zM154.57 103.62h2.04v8.82h-2.04zM154.57 129.8h2.04v8.82h-2.04zM154.57 339.2h2.04v8.82h-2.04zM156.36 103.62h2.04v8.82h-2.04zM156.36 356.65h2.04v8.82h-2.04zM158.14 68.72h2.04v8.82h-2.04zM158.14 86.17h2.04v8.82h-2.04zM158.14 94.9h2.04v8.82h-2.04zM158.14 103.62h2.04v8.82h-2.04zM158.14 147.25h2.04v8.82h-2.04zM159.93 112.35h2.04v8.82h-2.04zM159.93 129.8h2.04v8.82h-2.04zM161.71 60h2.04v8.82h-2.04zM161.71 68.72h2.04v8.82h-2.04zM163.5 94.9h2.04v8.82h-2.04zM165.29 155.97h2.04v8.82h-2.04zM165.29 164.7h2.04v8.82h-2.04zM165.29 173.43h2.04v8.82h-2.04zM165.29 182.15h2.04v8.82h-2.04zM165.29 217.05h2.04v8.82h-2.04zM168.86 86.17h2.04v8.82h-2.04zM168.86 112.35h2.04v8.82h-2.04zM168.86 164.7h2.04v8.82h-2.04zM170.64 68.72h2.04v8.82h-2.04zM172.43 68.72h2.04v8.82h-2.04zM172.43 173.43h2.04v8.82h-2.04zM174.21 77.45h2.04v8.82h-2.04zM174.21 121.07h2.04v8.82h-2.04zM177.7 129.8h2.05v8.82h-2.05zM177.7 190.88h2.05v8.82h-2.05zM177.7 199.6h2.05v8.82h-2.05zM177.7 234.5h2.05v8.82h-2.05zM179.5 173.43h2.05v8.82h-2.05zM179.5 269.4h2.05v8.82h-2.05zM179.5 365.38h2.05v8.82h-2.05zM181.3 225.78h2.05v8.82h-2.05zM181.3 251.95h2.05v8.82h-2.05zM181.3 269.4h2.05v8.82h-2.05zM181.3 356.65h2.05v8.82h-2.05zM183.09 164.7h2.05v8.82h-2.05zM183.09 199.6h2.05v8.82h-2.05zM183.09 260.67h2.05v8.82h-2.05zM183.09 269.4h2.05v8.82h-2.05zM183.09 295.57h2.05v8.82h-2.05zM184.89 347.93h2.05v8.82h-2.05zM184.89 382.82h2.05v8.82h-2.05zM186.69 286.85h2.05v8.82h-2.05zM186.69 382.82h2.05v8.82h-2.05zM188.49 190.88h2.05v8.82h-2.05zM190.29 155.97h2.05v8.82h-2.05zM190.29 295.57h2.05v8.82h-2.05zM192.09 147.25h2.05v8.82h-2.05zM192.09 199.6h2.05v8.82h-2.05zM192.09 243.22h2.05v8.82h-2.05zM193.88 190.88h2.05v8.82h-2.05zM193.88 260.67h2.05v8.82h-2.05zM193.88 321.75h2.05v8.82h-2.05zM195.68 234.5h2.05v8.82h-2.05zM195.68 243.22h2.05v8.82h-2.05zM195.68 251.95h2.05v8.82h-2.05zM195.68 278.12h2.05v8.82h-2.05zM197.48 155.97h2.05v8.82h-2.05zM197.48 173.43h2.05v8.82h-2.05zM197.48 234.5h2.05v8.82h-2.05zM197.48 321.75h2.05v8.82h-2.05zM197.48 374.1h2.05v8.82h-2.05zM197.48 391.55h2.05v8.82h-2.05zM199.28 182.15h2.05v8.82h-2.05zM199.28 269.4h2.05v8.82h-2.05zM199.28 295.57h2.05v8.82h-2.05zM199.28 365.38h2.05v8.82h-2.05zM199.28 374.1h2.05v8.82h-2.05zM201.08 68.72h2.05v8.82h-2.05zM201.08 103.62h2.05v8.82h-2.05zM201.08 121.07h2.05v8.82h-2.05zM201.08 138.52h2.05v8.82h-2.05zM201.08 304.3h2.05v8.82h-2.05zM201.08 313.02h2.05v8.82h-2.05zM201.08 339.2h2.05v8.82h-2.05zM201.08 374.1h2.05v8.82h-2.05zM201.08 382.82h2.05v8.82h-2.05zM201.08 391.55h2.05v8.82h-2.05zM202.88 112.35h2.05v8.82h-2.05zM202.88 173.43h2.05v8.82h-2.05zM202.88 217.05h2.05v8.82h-2.05zM202.88 234.5h2.05v8.82h-2.05zM202.88 260.67h2.05v8.82h-2.05zM202.88 269.4h2.05v8.82h-2.05zM204.67 164.7h2.05v8.82h-2.05zM204.67 208.32h2.05v8.82h-2.05zM204.67 234.5h2.05v8.82h-2.05zM204.67 295.57h2.05v8.82h-2.05zM206.47 225.78h2.05v8.82h-2.05zM206.47 313.02h2.05v8.82h-2.05zM208.27 155.97h2.05v8.82h-2.05zM208.27 164.7h2.05v8.82h-2.05zM208.27 269.4h2.05v8.82h-2.05zM208.27 286.85h2.05v8.82h-2.05zM208.27 295.57h2.05v8.82h-2.05zM208.27 321.75h2.05v8.82h-2.05zM208.27 347.93h2.05v8.82h-2.05zM210.07 173.43h2.05v8.82h-2.05zM210.07 217.05h2.05v8.82h-2.05zM210.07 269.4h2.05v8.82h-2.05zM210.07 347.93h2.05v8.82h-2.05zM210.07 382.82h2.05v8.82h-2.05zM210.07 391.55h2.05v8.82h-2.05zM210.07 400.27h2.05v8.82h-2.05zM211.87 147.25h2.05v8.82h-2.05zM211.87 295.57h2.05v8.82h-2.05zM211.87 347.93h2.05v8.82h-2.05zM211.87 356.65h2.05v8.82h-2.05zM211.87 391.55h2.05v8.82h-2.05zM211.87 400.27h2.05v8.82h-2.05zM213.67 129.8h2.05v8.82h-2.05zM213.67 155.97h2.05v8.82h-2.05zM213.67 199.6h2.05v8.82h-2.05zM213.67 217.05h2.05v8.82h-2.05zM215.46 251.95h2.05v8.82h-2.05zM217.26 173.43h2.05v8.82h-2.05zM217.26 190.88h2.05v8.82h-2.05zM217.26 217.05h2.05v8.82h-2.05zM217.26 313.02h2.05v8.82h-2.05zM217.26 347.93h2.05v8.82h-2.05zM217.26 374.1h2.05v8.82h-2.05zM217.26 400.27h2.05v8.82h-2.05zM219.06 164.7h2.05v8.82h-2.05zM219.06 243.22h2.05v8.82h-2.05zM219.06 260.67h2.05v8.82h-2.05zM219.06 347.93h2.05v8.82h-2.05zM220.86 129.8h2.05v8.82h-2.05zM220.86 260.67h2.05v8.82h-2.05zM220.86 347.93h2.05v8.82h-2.05zM220.86 391.55h2.05v8.82h-2.05zM220.86 400.27h2.05v8.82h-2.05zM222.66 217.05h2.05v8.82h-2.05zM222.66 225.78h2.05v8.82h-2.05zM222.66 243.22h2.05v8.82h-2.05zM222.66 251.95h2.05v8.82h-2.05zM222.66 347.93h2.05v8.82h-2.05zM222.66 365.38h2.05v8.82h-2.05zM224.46 138.52h2.05v8.82h-2.05zM224.46 164.7h2.05v8.82h-2.05zM224.46 208.32h2.05v8.82h-2.05zM224.46 234.5h2.05v8.82h-2.05zM224.46 295.57h2.05v8.82h-2.05zM226.25 129.8h2.05v8.82h-2.05zM226.25 199.6h2.05v8.82h-2.05zM226.25 225.78h2.05v8.82h-2.05zM226.25 286.85h2.05v8.82h-2.05zM228.05 94.9h2.05v8.82h-2.05zM228.05 121.07h2.05v8.82h-2.05zM228.05 330.47h2.05v8.82h-2.05zM229.85 164.7h2.05v8.82h-2.05zM229.85 199.6h2.05v8.82h-2.05zM229.85 243.22h2.05v8.82h-2.05zM229.85 251.95h2.05v8.82h-2.05zM231.65 103.62h2.05v8.82h-2.05zM231.65 112.35h2.05v8.82h-2.05zM231.65 260.67h2.05v8.82h-2.05zM231.65 356.65h2.05v8.82h-2.05zM233.45 112.35h2.05v8.82h-2.05zM233.45 182.15h2.05v8.82h-2.05zM235.24 112.35h2.05v8.82h-2.05zM235.24 138.52h2.05v8.82h-2.05zM235.24 234.5h2.05v8.82h-2.05zM235.24 251.95h2.05v8.82h-2.05zM235.24 260.67h2.05v8.82h-2.05zM237.04 77.45h2.05v8.82h-2.05zM237.04 94.9h2.05v8.82h-2.05zM237.04 129.8h2.05v8.82h-2.05zM237.04 138.52h2.05v8.82h-2.05zM237.04 251.95h2.05v8.82h-2.05zM237.04 382.82h2.05v8.82h-2.05zM237.04 400.27h2.05v8.82h-2.05zM238.84 103.62h2.05v8.82h-2.05zM238.84 182.15h2.05v8.82h-2.05zM238.84 217.05h2.05v8.82h-2.05zM238.84 365.38h2.05v8.82h-2.05zM240.64 68.72h2.05v8.82h-2.05zM240.64 77.45h2.05v8.82h-2.05zM240.64 112.35h2.05v8.82h-2.05zM240.64 190.88h2.05v8.82h-2.05zM240.64 234.5h2.05v8.82h-2.05zM240.64 251.95h2.05v8.82h-2.05zM240.64 295.57h2.05v8.82h-2.05zM240.64 321.75h2.05v8.82h-2.05zM240.64 365.38h2.05v8.82h-2.05zM242.44 60h2.05v8.82h-2.05zM242.44 86.17h2.05v8.82h-2.05zM242.44 103.62h2.05v8.82h-2.05zM242.44 208.32h2.05v8.82h-2.05zM242.44 321.75h2.05v8.82h-2.05zM242.44 347.93h2.05v8.82h-2.05zM242.44 374.1h2.05v8.82h-2.05zM242.44 400.27h2.05v8.82h-2.05zM244.24 77.45h2.05v8.82h-2.05zM244.24 138.52h2.05v8.82h-2.05zM244.24 147.25h2.05v8.82h-2.05zM244.24 330.47h2.05v8.82h-2.05zM244.24 374.1h2.05v8.82h-2.05zM246.03 60h2.05v8.82h-2.05zM246.03 164.7h2.05v8.82h-2.05zM246.03 199.6h2.05v8.82h-2.05zM246.03 321.75h2.05v8.82h-2.05zM247.83 77.45h2.05v8.82h-2.05zM247.83 129.8h2.05v8.82h-2.05zM247.83 199.6h2.05v8.82h-2.05zM247.83 269.4h2.05v8.82h-2.05zM247.83 382.82h2.05v8.82h-2.05zM249.63 77.45h2.05v8.82h-2.05zM249.63 260.67h2.05v8.82h-2.05zM249.63 339.2h2.05v8.82h-2.05zM251.43 68.72h2.05v8.82h-2.05zM251.43 86.17h2.05v8.82h-2.05zM251.43 94.9h2.05v8.82h-2.05zM251.43 217.05h2.05v8.82h-2.05zM251.43 225.78h2.05v8.82h-2.05zM251.43 243.22h2.05v8.82h-2.05zM251.43 260.67h2.05v8.82h-2.05zM251.43 313.02h2.05v8.82h-2.05zM253.23 103.62h2.05v8.82h-2.05zM253.23 121.07h2.05v8.82h-2.05zM253.23 286.85h2.05v8.82h-2.05zM253.23 339.2h2.05v8.82h-2.05zM253.23 347.93h2.05v8.82h-2.05zM253.23 391.55h2.05v8.82h-2.05zM255.03 60h2.05v8.82h-2.05zM255.03 103.62h2.05v8.82h-2.05zM255.03 260.67h2.05v8.82h-2.05zM255.03 295.57h2.05v8.82h-2.05zM255.03 304.3h2.05v8.82h-2.05zM255.03 321.75h2.05v8.82h-2.05zM255.03 347.93h2.05v8.82h-2.05zM255.03 400.27h2.05v8.82h-2.05zM256.82 278.12h2.05v8.82h-2.05zM256.82 304.3h2.05v8.82h-2.05zM256.82 330.47h2.05v8.82h-2.05zM256.82 347.93h2.05v8.82h-2.05zM256.82 374.1h2.05v8.82h-2.05zM256.82 382.82h2.05v8.82h-2.05zM256.82 400.27h2.05v8.82h-2.05zM258.62 269.4h2.05v8.82h-2.05zM258.62 278.12h2.05v8.82h-2.05zM258.62 330.47h2.05v8.82h-2.05zM260.42 251.95h2.05v8.82h-2.05zM260.42 313.02h2.05v8.82h-2.05zM260.42 347.93h2.05v8.82h-2.05zM260.42 382.82h2.05v8.82h-2.05zM264.02 60h2.05v8.82h-2.05zM264.02 112.35h2.05v8.82h-2.05zM264.02 182.15h2.05v8.82h-2.05zM264.02 304.3h2.05v8.82h-2.05zM264.02 330.47h2.05v8.82h-2.05zM264.02 365.38h2.05v8.82h-2.05zM264.02 400.27h2.05v8.82h-2.05zM265.82 60h2.05v8.82h-2.05zM265.82 103.62h2.05v8.82h-2.05zM265.82 121.07h2.05v8.82h-2.05zM265.82 129.8h2.05v8.82h-2.05zM265.82 330.47h2.05v8.82h-2.05zM265.82 339.2h2.05v8.82h-2.05zM265.82 347.93h2.05v8.82h-2.05zM265.82 356.65h2.05v8.82h-2.05zM267.61 60h2.05v8.82h-2.05zM267.61 147.25h2.05v8.82h-2.05zM267.61 164.7h2.05v8.82h-2.05zM267.61 260.67h2.05v8.82h-2.05zM269.41 60h2.05v8.82h-2.05zM269.41 68.72h2.05v8.82h-2.05zM269.41 234.5h2.05v8.82h-2.05zM269.41 304.3h2.05v8.82h-2.05zM269.41 356.65h2.05v8.82h-2.05zM271.21 68.72h2.05v8.82h-2.05zM271.21 121.07h2.05v8.82h-2.05zM271.21 234.5h2.05v8.82h-2.05zM271.21 278.12h2.05v8.82h-2.05zM271.21 304.3h2.05v8.82h-2.05zM271.21 313.02h2.05v8.82h-2.05zM271.21 321.75h2.05v8.82h-2.05zM273.01 234.5h2.05v8.82h-2.05zM273.01 243.22h2.05v8.82h-2.05zM273.01 295.57h2.05v8.82h-2.05zM273.01 304.3h2.05v8.82h-2.05zM274.81 60h2.05v8.82h-2.05zM274.81 138.52h2.05v8.82h-2.05zM274.81 217.05h2.05v8.82h-2.05zM274.81 260.67h2.05v8.82h-2.05zM274.81 304.3h2.05v8.82h-2.05zM274.81 313.02h2.05v8.82h-2.05zM276.61 121.07h2.05v8.82h-2.05zM276.61 234.5h2.05v8.82h-2.05zM276.61 243.22h2.05v8.82h-2.05zM276.61 251.95h2.05v8.82h-2.05zM276.61 269.4h2.05v8.82h-2.05zM278.4 60h2.05v8.82h-2.05zM278.4 68.72h2.05v8.82h-2.05zM278.4 121.07h2.05v8.82h-2.05zM278.4 304.3h2.05v8.82h-2.05zM280.2 68.72h2.05v8.82h-2.05zM280.2 94.9h2.05v8.82h-2.05zM280.2 269.4h2.05v8.82h-2.05zM280.2 278.12h2.05v8.82h-2.05zM280.2 313.02h2.05v8.82h-2.05z"/>
<path fill="#ee7d64" d="M27.79 60h2.04v8.82h-2.04zM27.79 138.52h2.04v8.82h-2.04zM29.57 68.72h2.04v8.82h-2.04zM29.57 199.6h2.04v8.82h-2.04zM29.57 374.1h2.04v8.82h-2.04zM29.57 391.55h2.04v8.82h-2.04zM33.14 112.35h2.04v8.82h-2.04zM34.93 68.72h2.04v8.82h-2.04zM34.93 94.9h2.04v8.82h-2.04zM34.93 112.35h2.04v8.82h-2.04zM34.93 121.07h2.04v8.82h-2.04zM34.93 138.52h2.04v8.82h-2.04zM36.71 347.93h2.04v8.82h-2.04zM36.71 356.65h2.04v8.82h-2.04zM38.5 77.45h2.04v8.82h-2.04zM38.5 86.17h2.04v8.82h-2.04zM38.5 103.62h2.04v8.82h-2.04zM38.5 112.35h2.04v8.82h-2.04zM38.5 129.8h2.04v8.82h-2.04zM42.07 77.45h2.04v8.82h-2.04zM42.07 374.1h2.04v8.82h-2.04zM42.07 382.82h2.04v8.82h-2.04zM42.07 391.55h2.04v8.82h-2.04zM43.86 77.45h2.04v8.82h-2.04zM43.86 112.35h2.04v8.82h-2.04zM43.86 382.82h2.04v8.82h-2.04zM45.64 77.45h2.04v8.82h-2.04zM45.64 94.9h2.04v8.82h-2.04zM45.64 121.07h2.04v8.82h-2.04zM47.43 138.52h2.04v8.82h-2.04zM52.79 103.62h2.04v8.82h-2.04zM54.57 94.9h2.04v8.82h-2.04zM56.36 68.72h2.04v8.82h-2.04zM56.36 129.8h2.04v8.82h-2.04zM56.36 382.82h2.04v8.82h-2.04zM56.36 391.55h2.04v8.82h-2.04zM58.14 365.38h2.04v8.82h-2.04zM58.14 400.27h2.04v8.82h-2.04zM59.93 234.5h2.04v8.82h-2.04zM59.93 347.93h2.04v8.82h-2.04zM59.93 391.55h2.04v8.82h-2.04zM61.71 330.47h2.04v8.82h-2.04zM61.71 391.55h2.04v8.82h-2.04zM63.5 68.72h2.04v8.82h-2.04zM63.5 112.35h2.04v8.82h-2.04zM63.5 365.38h2.04v8.82h-2.04zM65.29 129.8h2.04v8.82h-2.04zM68.86 103.62h2.04v8.82h-2.04zM70.64 147.25h2.04v8.82h-2.04zM74.21 347.93h2.04v8.82h-2.04zM74.21 382.82h2.04v8.82h-2.04zM76 86.17h2.04v8.82h-2.04zM76 138.52h2.04v8.82h-2.04zM76 251.95h2.04v8.82h-2.04zM81.36 129.8h2.04v8.82h-2.04zM83.14 391.55h2.04v8.82h-2.04zM84.93 295.57h2.04v8.82h-2.04zM88.5 77.45h2.04v8.82h-2.04zM88.5 138.52h2.04v8.82h-2.04zM90.29 260.67h2.04v8.82h-2.04zM92.07 295.57h2.04v8.82h-2.04zM93.86 321.75h2.04v8.82h-2.04zM93.86 347.93h2.04v8.82h-2.04zM93.86 356.65h2.04v8.82h-2.04zM97.43 199.6h2.04v8.82h-2.04zM97.43 356.65h2.04v8.82h-2.04zM106.36 243.22h2.04v8.82h-2.04zM106.36 260.67h2.04v8.82h-2.04zM108.14 208.32h2.04v8.82h-2.04zM109.93 164.7h2.04v8.82h-2.04zM109.93 217.05h2.04v8.82h-2.04zM109.93 269.4h2.04v8.82h-2.04zM115.29 295.57h2.04v8.82h-2.04zM117.07 155.97h2.04v8.82h-2.04zM117.07 173.43h2.04v8.82h-2.04zM117.07 182.15h2.04v8.82h-2.04zM117.07 217.05h2.04v8.82h-2.04zM117.07 304.3h2.04v8.82h-2.04zM117.07 313.02h2.04v8.82h-2.04zM122.43 217.05h2.04v8.82h-2.04zM122.43 243.22h2.04v8.82h-2.04zM124.21 251.95h2.04v8.82h-2.04zM124.21 269.4h2.04v8.82h-2.04zM126 155.97h2.04v8.82h-2.04zM126 199.6h2.04v8.82h-2.04zM126 278.12h2.04v8.82h-2.04zM127.79 182.15h2.04v8.82h-2.04zM127.79 295.57h2.04v8.82h-2.04zM129.57 225.78h2.04v8.82h-2.04zM133.14 155.97h2.04v8.82h-2.04zM133.14 182.15h2.04v8.82h-2.04zM133.14 243.22h2.04v8.82h-2.04zM133.14 260.67h2.04v8.82h-2.04zM133.14 286.85h2.04v8.82h-2.04zM134.93 286.85h2.04v8.82h-2.04zM134.93 313.02h2.04v8.82h-2.04zM134.93 321.75h2.04v8.82h-2.04zM136.71 225.78h2.04v8.82h-2.04zM138.5 155.97h2.04v8.82h-2.04zM138.5 269.4h2.04v8.82h-2.04zM138.5 278.12h2.04v8.82h-2.04zM142.07 155.97h2.04v8.82h-2.04zM143.86 155.97h2.04v8.82h-2.04zM143.86 286.85h2.04v8.82h-2.04zM143.86 295.57h2.04v8.82h-2.04zM145.64 138.52h2.04v8.82h-2.04zM145.64 155.97h2.04v8.82h-2.04zM145.64 295.57h2.04v8.82h-2.04zM151 155.97h2.04v8.82h-2.04zM152.79 155.97h2.04v8.82h-2.04zM152.79 190.88h2.04v8.82h-2.04zM152.79 269.4h2.04v8.82h-2.04zM154.57 182.15h2.04v8.82h-2.04zM154.57 190.88h2.04v8.82h-2.04zM154.57 208.32h2.04v8.82h-2.04zM154.57 217.05h2.04v8.82h-2.04zM154.57 225.78h2.04v8.82h-2.04zM154.57 251.95h2.04v8.82h-2.04zM154.57 269.4h2.04v8.82h-2.04zM156.36 112.35h2.04v8.82h-2.04zM156.36 190.88h2.04v8.82h-2.04zM156.36 208.32h2.04v8.82h-2.04zM156.36 217.05h2.04v8.82h-2.04zM156.36 225.78h2.04v8.82h-2.04zM156.36 260.67h2.04v8.82h-2.04zM156.36 269.4h2.04v8.82h-2.04zM158.14 155.97h2.04v8.82h-2.04zM158.14 199.6h2.04v8.82h-2.04zM158.14 225.78h2.04v8.82h-2.04zM158.14 278.12h2.04v8.82h-2.04zM159.93 155.97h2.04v8.82h-2.04zM159.93 182.15h2.04v8.82h-2.04zM159.93 190.88h2.04v8.82h-2.04zM159.93 199.6h2.04v8.82h-2.04zM159.93 217.05h2.04v8.82h-2.04zM159.93 260.67h2.04v8.82h-2.04zM161.71 155.97h2.04v8.82h-2.04zM161.71 251.95h2.04v8.82h-2.04zM161.71 295.57h2.04v8.82h-2.04zM163.5 234.5h2.04v8.82h-2.04zM163.5 313.02h2.04v8.82h-2.04zM163.5 321.75h2.04v8.82h-2.04zM165.29 243.22h2.04v8.82h-2.04zM165.29 269.4h2.04v8.82h-2.04zM167.07 155.97h2.04v8.82h-2.04zM167.07 173.43h2.04v8.82h-2.04zM167.07 199.6h2.04v8.82h-2.04zM167.07 208.32h2.04v8.82h-2.04zM167.07 225.78h2.04v8.82h-2.04zM167.07 278.12h2.04v8.82h-2.04zM168.86 155.97h2.04v8.82h-2.04zM168.86 234.5h2.04v8.82h-2.04zM168.86 243.22h2.04v8.82h-2.04zM168.86 251.95h2.04v8.82h-2.04zM168.86 260.67h2.04v8.82h-2.04zM170.64 313.02h2.04v8.82h-2.04zM172.43 234.5h2.04v8.82h-2.04zM174.21 243.22h2.04v8.82h-2.04zM177.7 330.47h2.05v8.82h-2.05zM177.7 339.2h2.05v8.82h-2.05zM177.7 347.93h2.05v8.82h-2.05zM177.7 391.55h2.05v8.82h-2.05zM179.5 60h2.05v8.82h-2.05zM179.5 94.9h2.05v8.82h-2.05zM179.5 129.8h2.05v8.82h-2.05zM179.5 138.52h2.05v8.82h-2.05zM181.3 60h2.05v8.82h-2.05zM181.3 138.52h2.05v8.82h-2.05zM183.09 77.45h2.05v8.82h-2.05zM183.09 94.9h2.05v8.82h-2.05zM183.09 112.35h2.05v8.82h-2.05zM183.09 356.65h2.05v8.82h-2.05zM183.09 382.82h2.05v8.82h-2.05zM183.09 400.27h2.05v8.82h-2.05zM184.89 112.35h2.05v8.82h-2.05zM186.69 138.52h2.05v8.82h-2.05zM186.69 400.27h2.05v8.82h-2.05zM188.49 103.62h2.05v8.82h-2.05zM188.49 129.8h2.05v8.82h-2.05zM190.29 103.62h2.05v8.82h-2.05zM190.29 313.02h2.05v8.82h-2.05zM190.29 330.47h2.05v8.82h-2.05zM192.09 313.02h2.05v8.82h-2.05zM193.88 60h2.05v8.82h-2.05zM197.48 94.9h2.05v8.82h-2.05zM197.48 103.62h2.05v8.82h-2.05zM197.48 112.35h2.05v8.82h-2.05zM199.28 94.9h2.05v8.82h-2.05zM202.88 77.45h2.05v8.82h-2.05zM202.88 103.62h2.05v8.82h-2.05zM204.67 94.9h2.05v8.82h-2.05zM204.67 103.62h2.05v8.82h-2.05zM204.67 121.07h2.05v8.82h-2.05zM206.47 103.62h2.05v8.82h-2.05zM206.47 112.35h2.05v8.82h-2.05zM206.47 138.52h2.05v8.82h-2.05zM206.47 164.7h2.05v8.82h-2.05zM211.87 138.52h2.05v8.82h-2.05zM211.87 304.3h2.05v8.82h-2.05zM213.67 77.45h2.05v8.82h-2.05zM213.67 339.2h2.05v8.82h-2.05zM215.46 339.2h2.05v8.82h-2.05zM217.26 60h2.05v8.82h-2.05zM217.26 86.17h2.05v8.82h-2.05zM219.06 60h2.05v8.82h-2.05zM219.06 103.62h2.05v8.82h-2.05zM219.06 112.35h2.05v8.82h-2.05zM219.06 121.07h2.05v8.82h-2.05zM219.06 129.8h2.05v8.82h-2.05zM220.86 173.43h2.05v8.82h-2.05zM220.86 190.88h2.05v8.82h-2.05zM222.66 77.45h2.05v8.82h-2.05zM224.46 77.45h2.05v8.82h-2.05zM224.46 356.65h2.05v8.82h-2.05zM224.46 365.38h2.05v8.82h-2.05zM224.46 374.1h2.05v8.82h-2.05zM224.46 400.27h2.05v8.82h-2.05zM226.25 77.45h2.05v8.82h-2.05zM228.05 182.15h2.05v8.82h-2.05zM228.05 190.88h2.05v8.82h-2.05zM229.85 278.12h2.05v8.82h-2.05zM229.85 374.1h2.05v8.82h-2.05zM233.45 60h2.05v8.82h-2.05zM233.45 121.07h2.05v8.82h-2.05zM233.45 365.38h2.05v8.82h-2.05zM235.24 330.47h2.05v8.82h-2.05zM235.24 339.2h2.05v8.82h-2.05zM237.04 286.85h2.05v8.82h-2.05zM237.04 374.1h2.05v8.82h-2.05zM238.84 286.85h2.05v8.82h-2.05zM238.84 304.3h2.05v8.82h-2.05zM244.24 182.15h2.05v8.82h-2.05zM244.24 278.12h2.05v8.82h-2.05zM244.24 304.3h2.05v8.82h-2.05zM246.03 330.47h2.05v8.82h-2.05zM249.63 173.43h2.05v8.82h-2.05zM249.63 208.32h2.05v8.82h-2.05zM249.63 217.05h2.05v8.82h-2.05zM251.43 374.1h2.05v8.82h-2.05zM253.23 173.43h2.05v8.82h-2.05zM255.03 173.43h2.05v8.82h-2.05zM255.03 199.6h2.05v8.82h-2.05zM255.03 278.12h2.05v8.82h-2.05zM256.82 217.05h2.05v8.82h-2.05zM258.62 164.7h2.05v8.82h-2.05zM258.62 208.32h2.05v8.82h-2.05zM260.42 155.97h2.05v8.82h-2.05zM260.42 164.7h2.05v8.82h-2.05zM260.42 190.88h2.05v8.82h-2.05zM260.42 208.32h2.05v8.82h-2.05zM262.22 173.43h2.05v8.82h-2.05zM262.22 182.15h2.05v8.82h-2.05zM262.22 217.05h2.05v8.82h-2.05zM262.22 286.85h2.05v8.82h-2.05zM262.22 304.3h2.05v8.82h-2.05zM262.22 313.02h2.05v8.82h-2.05zM267.61 190.88h2.05v8.82h-2.05zM269.41 217.05h2.05v8.82h-2.05zM271.21 330.47h2.05v8.82h-2.05zM274.81 173.43h2.05v8.82h-2.05zM274.81 374.1h2.05v8.82h-2.05zM276.61 147.25h2.05v8.82h-2.05zM276.61 173.43h2.05v8.82h-2.05zM276.61 339.2h2.05v8.82h-2.05zM278.4 208.32h2.05v8.82h-2.05zM278.4 365.38h2.05v8.82h-2.05zM280.2 155.97h2.05v8.82h-2.05zM280.2 164.7h2.05v8.82h-2.05zM280.2 182.15h2.05v8.82h-2.05z"/>
<path fill="#e6533e" d="M27.79 94.9h2.04v8.82h-2.04zM34.93 77.45h2.04v8.82h-2.04zM38.5 138.52h2.04v8.82h-2.04zM45.64 129.8h2.04v8.82h-2.04zM47.43 86.17h2.04v8.82h-2.04zM47.43 94.9h2.04v8.82h-2.04zM47.43 129.8h2.04v8.82h-2.04zM58.14 330.47h2.04v8.82h-2.04zM58.14 382.82h2.04v8.82h-2.04zM59.93 374.1h2.04v8.82h-2.04zM63.5 347.93h2.04v8.82h-2.04zM65.29 251.95h2.04v8.82h-2.04zM99.21 251.95h2.04v8.82h-2.04zM108.14 190.88h2.04v8.82h-2.04zM109.93 155.97h2.04v8.82h-2.04zM109.93 182.15h2.04v8.82h-2.04zM115.29 234.5h2.04v8.82h-2.04zM117.07 199.6h2.04v8.82h-2.04zM122.43 208.32h2.04v8.82h-2.04zM124.21 243.22h2.04v8.82h-2.04zM133.14 190.88h2.04v8.82h-2.04zM134.93 243.22h2.04v8.82h-2.04zM134.93 278.12h2.04v8.82h-2.04zM134.93 295.57h2.04v8.82h-2.04zM136.71 234.5h2.04v8.82h-2.04zM136.71 304.3h2.04v8.82h-2.04zM136.71 321.75h2.04v8.82h-2.04zM142.07 217.05h2.04v8.82h-2.04zM143.86 321.75h2.04v8.82h-2.04zM151 260.67h2.04v8.82h-2.04zM151 278.12h2.04v8.82h-2.04zM151 286.85h2.04v8.82h-2.04zM152.79 199.6h2.04v8.82h-2.04zM154.57 278.12h2.04v8.82h-2.04zM156.36 155.97h2.04v8.82h-2.04zM158.14 164.7h2.04v8.82h-2.04zM161.71 225.78h2.04v8.82h-2.04zM165.29 251.95h2.04v8.82h-2.04zM167.07 190.88h2.04v8.82h-2.04zM167.07 234.5h2.04v8.82h-2.04zM170.64 278.12h2.04v8.82h-2.04zM172.43 243.22h2.04v8.82h-2.04zM172.43 260.67h2.04v8.82h-2.04zM172.43 286.85h2.04v8.82h-2.04zM174.21 208.32h2.04v8.82h-2.04zM179.5 103.62h2.05v8.82h-2.05zM181.3 68.72h2.05v8.82h-2.05zM181.3 103.62h2.05v8.82h-2.05zM181.3 121.07h2.05v8.82h-2.05zM184.89 68.72h2.05v8.82h-2.05zM186.69 77.45h2.05v8.82h-2.05zM188.49 60h2.05v8.82h-2.05zM188.49 112.35h2.05v8.82h-2.05zM188.49 339.2h2.05v8.82h-2.05zM190.29 365.38h2.05v8.82h-2.05zM192.09 60h2.05v8.82h-2.05zM202.88 365.38h2.05v8.82h-2.05zM206.47 60h2.05v8.82h-2.05zM206.47 77.45h2.05v8.82h-2.05zM224.46 339.2h2.05v8.82h-2.05zM229.85 330.47h2.05v8.82h-2.05zM229.85 382.82h2.05v8.82h-2.05zM238.84 278.12h2.05v8.82h-2.05zM251.43 356.65h2.05v8.82h-2.05zM260.42 147.25h2.05v8.82h-2.05zM260.42 173.43h2.05v8.82h-2.05zM262.22 147.25h2.05v8.82h-2.05zM262.22 208.32h2.05v8.82h-2.05zM262.22 225.78h2.05v8.82h-2.05zM265.82 147.25h2.05v8.82h-2.05zM265.82 182.15h2.05v8.82h-2.05zM265.82 199.6h2.05v8.82h-2.05zM269.41 147.25h2.05v8.82h-2.05zM274.81 365.38h2.05v8.82h-2.05zM276.61 199.6h2.05v8.82h-2.05zM278.4 190.88h2.05v8.82h-2.05zM280.2 173.43h2.05v8.82h-2.05z"/>
<path fill="#e23e2c" d="M27.79 129.8h2.04v8.82h-2.04zM29.57 77.45h2.04v8.82h-2.04zM29.57 86.17h2.04v8.82h-2.04zM29.57 94.9h2.04v8.82h-2.04zM29.57 103.62h2.04v8.82h-2.04zM29.57 112.35h2.04v8.82h-2.04zM29.57 121.07h2.04v8.82h-2.04zM29.57 129.8h2.04v8.82h-2.04zM29.57 138.52h2.04v8.82h-2.04zM40.29 129.8h2.04v8.82h-2.04zM47.43 77.45h2.04v8.82h-2.04zM47.43 103.62h2.04v8.82h-2.04zM52.79 129.8h2.04v8.82h-2.04zM56.36 374.1h2.04v8.82h-2.04zM58.14 339.2h2.04v8.82h-2.04zM58.14 374.1h2.04v8.82h-2.04zM58.14 391.55h2.04v8.82h-2.04zM68.86 77.45h2.04v8.82h-2.04zM68.86 112.35h2.04v8.82h-2.04zM108.14 199.6h2.04v8.82h-2.04zM117.07 190.88h2.04v8.82h-2.04zM117.07 243.22h2.04v8.82h-2.04zM117.07 251.95h2.04v8.82h-2.04zM117.07 260.67h2.04v8.82h-2.04zM152.79 217.05h2.04v8.82h-2.04zM152.79 225.78h2.04v8.82h-2.04zM154.57 155.97h2.04v8.82h-2.04zM167.07 217.05h2.04v8.82h-2.04zM170.64 155.97h2.04v8.82h-2.04zM170.64 260.67h2.04v8.82h-2.04zM172.43 269.4h2.04v8.82h-2.04zM174.21 155.97h2.04v8.82h-2.04zM174.21 225.78h2.04v8.82h-2.04zM174.21 251.95h2.04v8.82h-2.04zM177.7 382.82h2.05v8.82h-2.05zM181.3 77.45h2.05v8.82h-2.05zM181.3 94.9h2.05v8.82h-2.05zM181.3 112.35h2.05v8.82h-2.05zM188.49 77.45h2.05v8.82h-2.05zM204.67 339.2h2.05v8.82h-2.05zM204.67 356.65h2.05v8.82h-2.05zM229.85 365.38h2.05v8.82h-2.05zM229.85 391.55h2.05v8.82h-2.05zM249.63 190.88h2.05v8.82h-2.05zM260.42 182.15h2.05v8.82h-2.05zM262.22 278.12h2.05v8.82h-2.05zM265.82 164.7h2.05v8.82h-2.05zM265.82 173.43h2.05v8.82h-2.05zM265.82 190.88h2.05v8.82h-2.05zM265.82 208.32h2.05v8.82h-2.05zM269.41 182.15h2.05v8.82h-2.05zM278.4 347.93h2.05v8.82h-2.05z"/>
<path fill="#4c3a99" d="M27.79 155.97h2.04v8.82h-2.04zM31.36 243.22h2.04v8.82h-2.04zM31.36 286.85h2.04v8.82h-2.04zM36.71 313.02h2.04v8.82h-2.04zM38.5 164.7h2.04v8.82h-2.04zM40.29 190.88h2.04v8.82h-2.04zM43.86 313.02h2.04v8.82h-2.04zM45.64 155.97h2.04v8.82h-2.04zM49.21 190.88h2.04v8.82h-2.04zM51 278.12h2.04v8.82h-2.04zM54.57 278.12h2.04v8.82h-2.04zM72.43 155.97h2.04v8.82h-2.04zM72.43 234.5h2.04v8.82h-2.04zM88.5 208.32h2.04v8.82h-2.04zM99.21 164.7h2.04v8.82h-2.04zM99.21 208.32h2.04v8.82h-2.04zM122.43 103.62h2.04v8.82h-2.04zM124.21 356.65h2.04v8.82h-2.04zM124.21 365.38h2.04v8.82h-2.04zM127.79 365.38h2.04v8.82h-2.04zM131.36 347.93h2.04v8.82h-2.04zM131.36 365.38h2.04v8.82h-2.04zM133.14 121.07h2.04v8.82h-2.04zM142.07 77.45h2.04v8.82h-2.04zM145.64 347.93h2.04v8.82h-2.04zM145.64 391.55h2.04v8.82h-2.04zM147.43 365.38h2.04v8.82h-2.04zM158.14 339.2h2.04v8.82h-2.04zM158.14 374.1h2.04v8.82h-2.04zM159.93 339.2h2.04v8.82h-2.04zM159.93 365.38h2.04v8.82h-2.04zM159.93 391.55h2.04v8.82h-2.04zM159.93 400.27h2.04v8.82h-2.04zM163.5 356.65h2.04v8.82h-2.04zM167.07 347.93h2.04v8.82h-2.04zM167.07 391.55h2.04v8.82h-2.04zM168.86 374.1h2.04v8.82h-2.04zM168.86 382.82h2.04v8.82h-2.04zM168.86 400.27h2.04v8.82h-2.04zM170.64 365.38h2.04v8.82h-2.04zM172.43 365.38h2.04v8.82h-2.04zM174.21 330.47h2.04v8.82h-2.04zM179.5 199.6h2.05v8.82h-2.05zM186.69 225.78h2.05v8.82h-2.05zM195.68 164.7h2.05v8.82h-2.05zM195.68 173.43h2.05v8.82h-2.05zM195.68 208.32h2.05v8.82h-2.05zM211.87 199.6h2.05v8.82h-2.05zM258.62 103.62h2.05v8.82h-2.05zM258.62 138.52h2.05v8.82h-2.05zM260.42 68.72h2.05v8.82h-2.05zM260.42 86.17h2.05v8.82h-2.05zM260.42 103.62h2.05v8.82h-2.05zM260.42 129.8h2.05v8.82h-2.05zM262.22 77.45h2.05v8.82h-2.05zM262.22 94.9h2.05v8.82h-2.05zM262.22 129.8h2.05v8.82h-2.05zM264.02 94.9h2.05v8.82h-2.05zM274.81 251.95h2.05v8.82h-2.05zM278.4 260.67h2.05v8.82h-2.05zM280.2 365.38h2.05v8.82h-2.05z"/>
<path fill="#5e4da8" d="M27.79 190.88h2.04v8.82h-2.04zM29.57 243.22h2.04v8.82h-2.04zM31.36 147.25h2.04v8.82h-2.04zM31.36 190.88h2.04v8.82h-2.04zM36.71 147.25h2.04v8.82h-2.04zM36.71 225.78h2.04v8.82h-2.04zM38.5 190.88h2.04v8.82h-2.04zM43.86 208.32h2.04v8.82h-2.04zM45.64 190.88h2.04v8.82h-2.04zM45.64 208.32h2.04v8.82h-2.04zM49.21 164.7h2.04v8.82h-2.04zM51 234.5h2.04v8.82h-2.04zM51 243.22h2.04v8.82h-2.04zM54.57 243.22h2.04v8.82h-2.04zM54.57 295.57h2.04v8.82h-2.04zM58.14 190.88h2.04v8.82h-2.04zM59.93 147.25h2.04v8.82h-2.04zM67.07 68.72h2.04v8.82h-2.04zM68.86 225.78h2.04v8.82h-2.04zM88.5 182.15h2.04v8.82h-2.04zM88.5 217.05h2.04v8.82h-2.04zM92.07 60h2.04v8.82h-2.04zM92.07 121.07h2.04v8.82h-2.04zM97.43 60h2.04v8.82h-2.04zM99.21 173.43h2.04v8.82h-2.04zM106.36 77.45h2.04v8.82h-2.04zM124.21 374.1h2.04v8.82h-2.04zM124.21 382.82h2.04v8.82h-2.04zM126 374.1h2.04v8.82h-2.04zM131.36 77.45h2.04v8.82h-2.04zM131.36 339.2h2.04v8.82h-2.04zM134.93 339.2h2.04v8.82h-2.04zM134.93 356.65h2.04v8.82h-2.04zM134.93 400.27h2.04v8.82h-2.04zM136.71 330.47h2.04v8.82h-2.04zM136.71 365.38h2.04v8.82h-2.04zM136.71 374.1h2.04v8.82h-2.04zM136.71 400.27h2.04v8.82h-2.04zM143.86 77.45h2.04v8.82h-2.04zM145.64 382.82h2.04v8.82h-2.04zM145.64 400.27h2.04v8.82h-2.04zM147.43 330.47h2.04v8.82h-2.04zM147.43 391.55h2.04v8.82h-2.04zM147.43 400.27h2.04v8.82h-2.04zM152.79 365.38h2.04v8.82h-2.04zM156.36 365.38h2.04v8.82h-2.04zM158.14 356.65h2.04v8.82h-2.04zM158.14 391.55h2.04v8.82h-2.04zM161.71 339.2h2.04v8.82h-2.04zM163.5 374.1h2.04v8.82h-2.04zM165.29 330.47h2.04v8.82h-2.04zM165.29 365.38h2.04v8.82h-2.04zM167.07 121.07h2.04v8.82h-2.04zM167.07 330.47h2.04v8.82h-2.04zM168.86 365.38h2.04v8.82h-2.04zM170.64 347.93h2.04v8.82h-2.04zM170.64 356.65h2.04v8.82h-2.04zM170.64 374.1h2.04v8.82h-2.04zM172.43 86.17h2.04v8.82h-2.04zM172.43 339.2h2.04v8.82h-2.04zM172.43 347.93h2.04v8.82h-2.04zM172.43 374.1h2.04v8.82h-2.04zM172.43 400.27h2.04v8.82h-2.04zM174.21 347.93h2.04v8.82h-2.04zM174.21 382.82h2.04v8.82h-2.04zM174.21 391.55h2.04v8.82h-2.04zM184.89 243.22h2.05v8.82h-2.05zM186.69 199.6h2.05v8.82h-2.05zM186.69 217.05h2.05v8.82h-2.05zM192.09 225.78h2.05v8.82h-2.05zM193.88 173.43h2.05v8.82h-2.05zM193.88 217.05h2.05v8.82h-2.05zM195.68 182.15h2.05v8.82h-2.05zM195.68 190.88h2.05v8.82h-2.05zM195.68 199.6h2.05v8.82h-2.05zM199.28 173.43h2.05v8.82h-2.05zM199.28 190.88h2.05v8.82h-2.05zM199.28 208.32h2.05v8.82h-2.05zM206.47 251.95h2.05v8.82h-2.05zM211.87 182.15h2.05v8.82h-2.05zM217.26 304.3h2.05v8.82h-2.05zM224.46 260.67h2.05v8.82h-2.05zM231.65 365.38h2.05v8.82h-2.05zM253.23 86.17h2.05v8.82h-2.05zM253.23 129.8h2.05v8.82h-2.05zM253.23 234.5h2.05v8.82h-2.05zM258.62 68.72h2.05v8.82h-2.05zM258.62 77.45h2.05v8.82h-2.05zM258.62 94.9h2.05v8.82h-2.05zM258.62 112.35h2.05v8.82h-2.05zM258.62 129.8h2.05v8.82h-2.05zM260.42 138.52h2.05v8.82h-2.05zM264.02 129.8h2.05v8.82h-2.05zM267.61 129.8h2.05v8.82h-2.05zM269.41 260.67h2.05v8.82h-2.05zM276.61 68.72h2.05v8.82h-2.05zM280.2 129.8h2.05v8.82h-2.05zM280.2 382.82h2.05v8.82h-2.05z"/>
<path fill="#3a268a" d="M54.57 313.02h2.04v8.82h-2.04zM145.64 330.47h2.04v8.82h-2.04zM145.64 339.2h2.04v8.82h-2.04zM145.64 365.38h2.04v8.82h-2.04zM145.64 374.1h2.04v8.82h-2.04zM158.14 365.38h2.04v8.82h-2.04zM159.93 382.82h2.04v8.82h-2.04zM167.07 339.2h2.04v8.82h-2.04zM167.07 365.38h2.04v8.82h-2.04zM167.07 374.1h2.04v8.82h-2.04zM167.07 382.82h2.04v8.82h-2.04zM167.07 400.27h2.04v8.82h-2.04zM168.86 330.47h2.04v8.82h-2.04zM168.86 347.93h2.04v8.82h-2.04zM170.64 339.2h2.04v8.82h-2.04zM170.64 400.27h2.04v8.82h-2.04zM172.43 382.82h2.04v8.82h-2.04zM246.03 251.95h2.05v8.82h-2.05zM258.62 121.07h2.05v8.82h-2.05zM262.22 138.52h2.05v8.82h-2.05z"/></g>
<rect x="26.0" y="146.75" width="256" height="1" fill="#fff"/>
<rect x="26.0" y="234" width="256" height="1" fill="#fff"/>
<rect x="26.0" y="329.97" width="256" height="1" fill="#fff"/>
<rect x="176.0" y="29" width="1.7" height="382" fill="#fff"/>
<text x="286" y="34.25" font-size="5.7" text-anchor="start" fill="#262626" stroke="#262626" stroke-width="0.2" >disease</text>
<text x="286" y="40.05" font-size="5.7" text-anchor="start" fill="#262626" stroke="#262626" stroke-width="0.2" >DLBCL_coo</text>
<text x="286" y="46.05" font-size="5.7" text-anchor="start" fill="#262626" stroke="#262626" stroke-width="0.2" >DLBCL_coo_score</text>
<text x="286" y="52.2" font-size="5.7" text-anchor="start" fill="#262626" stroke="#262626" stroke-width="0.2" >FL_coo</text>
<text x="286" y="58.2" font-size="5.7" text-anchor="start" fill="#262626" stroke="#262626" stroke-width="0.2" >FL_coo_score</text>
<text x="286" y="66.66" font-size="6.3" text-anchor="start" fill="#262626" stroke="#262626" stroke-width="0.2" >KIAA1211</text>
<text x="286" y="75.4" font-size="6.3" text-anchor="start" fill="#262626" stroke="#262626" stroke-width="0.2" >SCPEP1</text>
<text x="286" y="84.14" font-size="6.3" text-anchor="start" fill="#262626" stroke="#262626" stroke-width="0.2" >RASL11A</text>
<text x="286" y="92.88" font-size="6.3" text-anchor="start" fill="#262626" stroke="#262626" stroke-width="0.2" >LMO2</text>
<text x="286" y="101.62" font-size="6.3" text-anchor="start" fill="#262626" stroke="#262626" stroke-width="0.2" >HS2ST1</text>
<text x="286" y="110.36" font-size="6.3" text-anchor="start" fill="#262626" stroke="#262626" stroke-width="0.2" >ENPP3</text>
<text x="286" y="119.1" font-size="6.3" text-anchor="start" fill="#262626" stroke="#262626" stroke-width="0.2" >SH3RF1</text>
<text x="286" y="127.85" font-size="6.3" text-anchor="start" fill="#262626" stroke="#262626" stroke-width="0.2" >SCIMP</text>
<text x="286" y="136.59" font-size="6.3" text-anchor="start" fill="#262626" stroke="#262626" stroke-width="0.2" >CCDC138</text>
<text x="286" y="145.33" font-size="6.3" text-anchor="start" fill="#262626" stroke="#262626" stroke-width="0.2" >SHCBP1</text>
<text x="286" y="154.07" font-size="6.3" text-anchor="start" fill="#262626" stroke="#262626" stroke-width="0.2" >TTC28</text>
<text x="286" y="162.81" font-size="6.3" text-anchor="start" fill="#262626" stroke="#262626" stroke-width="0.2" >FOXP1</text>
<text x="286" y="171.55" font-size="6.3" text-anchor="start" fill="#262626" stroke="#262626" stroke-width="0.2" >DOPEY2</text>
<text x="286" y="180.29" font-size="6.3" text-anchor="start" fill="#262626" stroke="#262626" stroke-width="0.2" >IQSEC1</text>
<text x="286" y="189.03" font-size="6.3" text-anchor="start" fill="#262626" stroke="#262626" stroke-width="0.2" >PTPRJ</text>
<text x="286" y="197.77" font-size="6.3" text-anchor="start" fill="#262626" stroke="#262626" stroke-width="0.2" >SLA</text>
<text x="286" y="206.51" font-size="6.3" text-anchor="start" fill="#262626" stroke="#262626" stroke-width="0.2" >CXXC5</text>
<text x="286" y="215.25" font-size="6.3" text-anchor="start" fill="#262626" stroke="#262626" stroke-width="0.2" >PDE4B</text>
<text x="286" y="223.99" font-size="6.3" text-anchor="start" fill="#262626" stroke="#262626" stroke-width="0.2" >TCF4</text>
<text x="286" y="232.73" font-size="6.3" text-anchor="start" fill="#262626" stroke="#262626" stroke-width="0.2" >MPEG1</text>
<text x="286" y="241.47" font-size="6.3" text-anchor="start" fill="#262626" stroke="#262626" stroke-width="0.2" >SH3BP5</text>
<text x="286" y="250.21" font-size="6.3" text-anchor="start" fill="#262626" stroke="#262626" stroke-width="0.2" >IRF4</text>
<text x="286" y="258.95" font-size="6.3" text-anchor="start" fill="#262626" stroke="#262626" stroke-width="0.2" >PIM1</text>
<text x="286" y="267.69" font-size="6.3" text-anchor="start" fill="#262626" stroke="#262626" stroke-width="0.2" >ENTPD1</text>
<text x="286" y="276.43" font-size="6.3" text-anchor="start" fill="#262626" stroke="#262626" stroke-width="0.2" >BLNK</text>
<text x="286" y="285.17" font-size="6.3" text-anchor="start" fill="#262626" stroke="#262626" stroke-width="0.2" >CCND2</text>
<text x="286" y="293.91" font-size="6.3" text-anchor="start" fill="#262626" stroke="#262626" stroke-width="0.2" >ETV6</text>
<text x="286" y="302.65" font-size="6.3" text-anchor="start" fill="#262626" stroke="#262626" stroke-width="0.2" >FUT8</text>
<text x="286" y="311.39" font-size="6.3" text-anchor="start" fill="#262626" stroke="#262626" stroke-width="0.2" >BMF</text>
<text x="286" y="320.13" font-size="6.3" text-anchor="start" fill="#262626" stroke="#262626" stroke-width="0.2" >IL16</text>
<text x="286" y="328.87" font-size="6.3" text-anchor="start" fill="#262626" stroke="#262626" stroke-width="0.2" >PTPN1</text>
<text x="286" y="337.61" font-size="6.3" text-anchor="start" fill="#262626" stroke="#262626" stroke-width="0.2" >ITPKB</text>
<text x="286" y="346.35" font-size="6.3" text-anchor="start" fill="#262626" stroke="#262626" stroke-width="0.2" >MME</text>
<text x="286" y="355.1" font-size="6.3" text-anchor="start" fill="#262626" stroke="#262626" stroke-width="0.2" >BCL6</text>
<text x="286" y="363.84" font-size="6.3" text-anchor="start" fill="#262626" stroke="#262626" stroke-width="0.2" >MYBL1</text>
<text x="286" y="372.58" font-size="6.3" text-anchor="start" fill="#262626" stroke="#262626" stroke-width="0.2" >DENND3</text>
<text x="286" y="381.32" font-size="6.3" text-anchor="start" fill="#262626" stroke="#262626" stroke-width="0.2" >NEK6</text>
<text x="286" y="390.06" font-size="6.3" text-anchor="start" fill="#262626" stroke="#262626" stroke-width="0.2" >LMO2</text>
<text x="286" y="398.8" font-size="6.3" text-anchor="start" fill="#262626" stroke="#262626" stroke-width="0.2" >LRMP</text>
<text x="286" y="407.54" font-size="6.3" text-anchor="start" fill="#262626" stroke="#262626" stroke-width="0.2" >SERPINA9</text>
<text transform="translate(21.2 103.62) rotate(-90)" font-size="6.4" text-anchor="middle" fill="#262626" stroke="#262626" stroke-width="0.18">FL GC-like genes</text>
<text transform="translate(21.2 190.88) rotate(-90)" font-size="6.4" text-anchor="middle" fill="#262626" stroke="#262626" stroke-width="0.18">FL MEM-like genes</text>
<text transform="translate(21.2 282.49) rotate(-90)" font-size="6.4" text-anchor="middle" fill="#262626" stroke="#262626" stroke-width="0.18">DLBCL ABC genes</text>
<text transform="translate(21.2 369.74) rotate(-90)" font-size="6.4" text-anchor="middle" fill="#262626" stroke="#262626" stroke-width="0.18">DLBCL GCB genes</text>
<text x="328.8" y="99.4" font-size="6.1" text-anchor="start" fill="#262626" stroke="#262626" stroke-width="0.2" >disease</text>
<rect x="328.8" y="104.3" width="5.2" height="4.9" fill="#0c4a88"/>
<text x="337.7" y="108.9" font-size="6.1" text-anchor="start" fill="#262626" stroke="#262626" stroke-width="0.2" >DLBCL</text>
<rect x="328.8" y="111" width="5.2" height="5" fill="#c8102e"/>
<text x="337.7" y="115.6" font-size="6.1" text-anchor="start" fill="#262626" stroke="#262626" stroke-width="0.2" >FL</text>
<text x="328.8" y="126.8" font-size="6.1" text-anchor="start" fill="#262626" stroke="#262626" stroke-width="0.2" >DLBCL_coo</text>
<rect x="328.8" y="132.5" width="5.2" height="4.9" fill="#f6b81c"/>
<text x="337.7" y="137.1" font-size="6.1" text-anchor="start" fill="#262626" stroke="#262626" stroke-width="0.2" >ABC</text>
<rect x="328.8" y="138.6" width="5.2" height="5" fill="#2ea4de"/>
<text x="337.7" y="143.2" font-size="6.1" text-anchor="start" fill="#262626" stroke="#262626" stroke-width="0.2" >GCB</text>
<rect x="328.8" y="145.2" width="5.2" height="5" fill="#c4cbd6"/>
<text x="337.7" y="150.1" font-size="6.1" text-anchor="start" fill="#262626" stroke="#262626" stroke-width="0.2" >Unclassified</text>
<text x="328.8" y="164.6" font-size="6.1" text-anchor="start" fill="#262626" stroke="#262626" stroke-width="0.2" >DLBCL_coo_score</text>
<rect x="328.8" y="167.7" width="5.2" height="36.8" fill="url(#gz)"/>
<text x="337.7" y="172.1" font-size="6.1" text-anchor="start" fill="#262626" stroke="#262626" stroke-width="0.2" >4</text>
<text x="337.7" y="180.7" font-size="6.1" text-anchor="start" fill="#262626" stroke="#262626" stroke-width="0.2" >2</text>
<text x="337.7" y="189.1" font-size="6.1" text-anchor="start" fill="#262626" stroke="#262626" stroke-width="0.2" >0</text>
<text x="337.7" y="196.9" font-size="6.1" text-anchor="start" fill="#262626" stroke="#262626" stroke-width="0.2" >−2</text>
<text x="337.7" y="204.7" font-size="6.1" text-anchor="start" fill="#262626" stroke="#262626" stroke-width="0.2" >−4</text>
<text x="328.8" y="215" font-size="6.1" text-anchor="start" fill="#262626" stroke="#262626" stroke-width="0.2" >FL_coo</text>
<rect x="328.8" y="219.8" width="5.2" height="4.8" fill="#2ea4de"/>
<text x="337.7" y="224.3" font-size="6.1" text-anchor="start" fill="#262626" stroke="#262626" stroke-width="0.2" >GC-like</text>
<rect x="328.8" y="226.6" width="5.2" height="4.8" fill="#f6b81c"/>
<text x="337.7" y="231.1" font-size="6.1" text-anchor="start" fill="#262626" stroke="#262626" stroke-width="0.2" >MEM-like</text>
<text x="328.8" y="246" font-size="6.1" text-anchor="start" fill="#262626" stroke="#262626" stroke-width="0.2" >FL_coo_score</text>
<rect x="328.8" y="250.5" width="5.2" height="37" fill="url(#gz)"/>
<text x="337.7" y="255.1" font-size="6.1" text-anchor="start" fill="#262626" stroke="#262626" stroke-width="0.2" >400</text>
<text x="337.7" y="263.7" font-size="6.1" text-anchor="start" fill="#262626" stroke="#262626" stroke-width="0.2" >200</text>
<text x="337.7" y="271.9" font-size="6.1" text-anchor="start" fill="#262626" stroke="#262626" stroke-width="0.2" >0</text>
<text x="337.7" y="280.3" font-size="6.1" text-anchor="start" fill="#262626" stroke="#262626" stroke-width="0.2" >−200</text>
<text x="337.7" y="288.5" font-size="6.1" text-anchor="start" fill="#262626" stroke="#262626" stroke-width="0.2" >−400</text>
<text x="328.8" y="305.4" font-size="6.1" text-anchor="start" fill="#262626" stroke="#262626" stroke-width="0.2" >z-score</text>
<rect x="328.8" y="308" width="5.2" height="37.5" fill="url(#gz)"/>
<text x="337.7" y="312.8" font-size="6.1" text-anchor="start" fill="#262626" stroke="#262626" stroke-width="0.2" >2</text>
<text x="337.7" y="321.4" font-size="6.1" text-anchor="start" fill="#262626" stroke="#262626" stroke-width="0.2" >1</text>
<text x="337.7" y="329.9" font-size="6.1" text-anchor="start" fill="#262626" stroke="#262626" stroke-width="0.2" >0</text>
<text x="337.7" y="338.4" font-size="6.1" text-anchor="start" fill="#262626" stroke="#262626" stroke-width="0.2" >−1</text>
<text x="337.7" y="346.5" font-size="6.1" text-anchor="start" fill="#262626" stroke="#262626" stroke-width="0.2" >−2</text>
<text x="390.6" y="51.9" font-size="10.6" text-anchor="start" fill="#111" font-weight="bold" >B</text>
<text x="453.8" y="62" font-size="8.0" text-anchor="middle" fill="#222" stroke="#222" stroke-width="0.2" >FL20 vs cFL/dFL</text>
<g style="isolation:isolate">
<path d="M419.5 66.7H434.88C454.45 66.7 454.45 66.7 474.02 66.7H489.4V106.6H474.02C454.45 106.6 454.45 106.6 434.88 106.6H419.5Z" fill="#78b9e6" style="mix-blend-mode:multiply"/>
<path d="M419.5 106.6H434.88C454.45 106.6 454.45 140.3 474.02 140.3H489.4V161.2H474.02C454.45 161.2 454.45 127.5 434.88 127.5H419.5Z" fill="#78b9e6" style="mix-blend-mode:multiply"/>
<path d="M419.5 142H434.88C454.45 142 454.45 106.6 474.02 106.6H489.4V125.6H474.02C454.45 125.6 454.45 161.2 434.88 161.2H419.5Z" fill="#f6c84a" style="mix-blend-mode:multiply"/>
<path d="M419.5 161.2H434.88C454.45 161.2 454.45 161.2 474.02 161.2H489.4V196.6H474.02C454.45 196.6 454.45 196.6 434.88 196.6H419.5Z" fill="#f6c84a" style="mix-blend-mode:multiply"/>
</g>
<rect x="411.35" y="67.05" width="7.8" height="60.1" fill="#27a2e0" stroke="#2a2a2a" stroke-width="0.7"/>
<rect x="411.35" y="142.35" width="7.8" height="53.9" fill="#f5b800" stroke="#2a2a2a" stroke-width="0.7"/>
<rect x="489.75" y="67.05" width="7.9" height="58.2" fill="#0d4a88" stroke="#0d4a88" stroke-width="0.7"/>
<rect x="489.75" y="140.65" width="7.9" height="55.6" fill="#c3102d" stroke="#c3102d" stroke-width="0.7"/>
<rect x="398" y="92.8" width="33.4" height="9.2" fill="#111"/>
<text x="414.7" y="99.7" font-size="6.4" text-anchor="middle" fill="#fff" stroke="#fff" stroke-width="0.06" >GC-like</text>
<rect x="483.8" y="91.4" width="19.5" height="9.8" fill="#111"/>
<text x="493.55" y="98.6" font-size="6.4" text-anchor="middle" fill="#fff" stroke="#fff" stroke-width="0.06" >dFL</text>
<rect x="397.6" y="164.2" width="34.7" height="9.8" fill="#111"/>
<text x="414.95" y="171.4" font-size="6.4" text-anchor="middle" fill="#fff" stroke="#fff" stroke-width="0.06" >MEM-like</text>
<rect x="483.8" y="163" width="19.4" height="10.2" fill="#111"/>
<text x="493.5" y="170.4" font-size="6.4" text-anchor="middle" fill="#fff" stroke="#fff" stroke-width="0.06" >cFL</text>
<text x="415" y="205" font-size="5.9" text-anchor="middle" fill="#444" stroke="#444" stroke-width="0.2" >FL20_class</text>
<text x="493.3" y="205" font-size="5.9" text-anchor="middle" fill="#444" stroke="#444" stroke-width="0.2" >cFL/dFL_class</text>
<text x="390.3" y="231.4" font-size="10.6" text-anchor="start" fill="#111" font-weight="bold" >C</text>
<text x="454.4" y="241.6" font-size="8.0" text-anchor="middle" fill="#222" stroke="#222" stroke-width="0.2" >FL20 vs GS23</text>
<g style="isolation:isolate">
<path d="M422.2 246.2H436.46C454.6 246.2 454.6 246.2 472.74 246.2H487V305.2H472.74C454.6 305.2 454.6 305.2 436.46 305.2H422.2Z" fill="#78b9e6" style="mix-blend-mode:multiply"/>
<path d="M422.2 305.2H436.46C454.6 305.2 454.6 343.6 472.74 343.6H487V347.7H472.74C454.6 347.7 454.6 309.3 436.46 309.3H422.2Z" fill="#78b9e6" style="mix-blend-mode:multiply"/>
<path d="M422.2 325.2H436.46C454.6 325.2 454.6 305.2 472.74 305.2H487V328.2H472.74C454.6 328.2 454.6 348 436.46 348H422.2Z" fill="#f6c84a" style="mix-blend-mode:multiply"/>
<path d="M422.2 348H436.46C454.6 348 454.6 347.7 472.74 347.7H487V387.2H472.74C454.6 387.2 454.6 387.2 436.46 387.2H422.2Z" fill="#f6c84a" style="mix-blend-mode:multiply"/>
</g>
<rect x="415.35" y="246.55" width="6.5" height="62.4" fill="#27a2e0" stroke="#2a2a2a" stroke-width="0.7"/>
<rect x="415.35" y="325.55" width="6.5" height="61.3" fill="#f5b800" stroke="#2a2a2a" stroke-width="0.7"/>
<rect x="487.35" y="246.55" width="6.5" height="81.3" fill="#c3102d" stroke="#c3102d" stroke-width="0.7"/>
<rect x="487.35" y="343.95" width="6.5" height="42.9" fill="#0d4a88" stroke="#0d4a88" stroke-width="0.7"/>
<rect x="401" y="273.1" width="34" height="9.6" fill="#111"/>
<text x="418" y="280.2" font-size="6.4" text-anchor="middle" fill="#fff" stroke="#fff" stroke-width="0.06" >GC-like</text>
<rect x="401" y="350.6" width="34.6" height="10.4" fill="#111"/>
<text x="418.3" y="358.1" font-size="6.4" text-anchor="middle" fill="#fff" stroke="#fff" stroke-width="0.06" >MEM-like</text>
<rect x="475.1" y="278.9" width="30" height="16" fill="#111"/>
<text x="490.1" y="285.2" font-size="6.4" text-anchor="middle" fill="#fff" stroke="#fff" stroke-width="0.06" >pred</text>
<text x="490.1" y="293.2" font-size="6.4" text-anchor="middle" fill="#fff" stroke="#fff" stroke-width="0.06" >Low Risk</text>
<rect x="475.4" y="357" width="29.9" height="16.5" fill="#111"/>
<text x="490.35" y="363.43" font-size="6.4" text-anchor="middle" fill="#fff" stroke="#fff" stroke-width="0.06" >pred</text>
<text x="490.35" y="371.68" font-size="6.4" text-anchor="middle" fill="#fff" stroke="#fff" stroke-width="0.06" >High Risk</text>
<text x="418.4" y="395.2" font-size="5.9" text-anchor="middle" fill="#444" stroke="#444" stroke-width="0.2" >FL20_class</text>
<text x="490" y="395.2" font-size="5.9" text-anchor="middle" fill="#444" stroke="#444" stroke-width="0.2" >GS23_class</text>
<text x="30" y="435.2" font-size="10.6" text-anchor="start" fill="#111" font-weight="bold" >D</text>
<text x="95.5" y="434.6" font-size="8.3" text-anchor="start" fill="#222" stroke="#222" stroke-width="0.2" >GS23 (Huet et al.) in R+chemo arm</text>
<path d="M72.5 440.5V548.4H253" fill="none" stroke="#333" stroke-width="1"/>
<path d="M70 445H72.5" stroke="#333" stroke-width="0.8"/>
<text x="67.3" y="447" font-size="5.6" text-anchor="end" fill="#262626" stroke="#262626" stroke-width="0.2" >1.00</text>
<path d="M70 469.62H72.5" stroke="#333" stroke-width="0.8"/>
<text x="67.3" y="471.62" font-size="5.6" text-anchor="end" fill="#262626" stroke="#262626" stroke-width="0.2" >0.75</text>
<path d="M70 494.25H72.5" stroke="#333" stroke-width="0.8"/>
<text x="67.3" y="496.25" font-size="5.6" text-anchor="end" fill="#262626" stroke="#262626" stroke-width="0.2" >0.50</text>
<path d="M70 518.88H72.5" stroke="#333" stroke-width="0.8"/>
<text x="67.3" y="520.88" font-size="5.6" text-anchor="end" fill="#262626" stroke="#262626" stroke-width="0.2" >0.25</text>
<path d="M70 543.5H72.5" stroke="#333" stroke-width="0.8"/>
<text x="67.3" y="545.5" font-size="5.6" text-anchor="end" fill="#262626" stroke="#262626" stroke-width="0.2" >0.00</text>
<path d="M80 548.4V551" stroke="#333" stroke-width="0.8"/>
<text x="80" y="559.8" font-size="5.8" text-anchor="middle" fill="#262626" stroke="#262626" stroke-width="0.2" >0</text>
<path d="M121.1 548.4V551" stroke="#333" stroke-width="0.8"/>
<text x="121.1" y="559.8" font-size="5.8" text-anchor="middle" fill="#262626" stroke="#262626" stroke-width="0.2" >2</text>
<path d="M162.2 548.4V551" stroke="#333" stroke-width="0.8"/>
<text x="162.2" y="559.8" font-size="5.8" text-anchor="middle" fill="#262626" stroke="#262626" stroke-width="0.2" >4</text>
<path d="M203.3 548.4V551" stroke="#333" stroke-width="0.8"/>
<text x="203.3" y="559.8" font-size="5.8" text-anchor="middle" fill="#262626" stroke="#262626" stroke-width="0.2" >6</text>
<path d="M244.4 548.4V551" stroke="#333" stroke-width="0.8"/>
<text x="244.4" y="559.8" font-size="5.8" text-anchor="middle" fill="#262626" stroke="#262626" stroke-width="0.2" >8</text>
<text x="162.2" y="571.4" font-size="6.6" text-anchor="middle" fill="#262626" stroke="#262626" stroke-width="0.2" textLength="36" lengthAdjust="spacingAndGlyphs">Time (years)</text>
<text transform="translate(48.6 494.2) rotate(-90)" font-size="7" text-anchor="middle" fill="#222" stroke="#222" stroke-width="0.15" textLength="12.5" lengthAdjust="spacingAndGlyphs">PFS</text>
<path d="M80 445H84V446H89.5V446.8H100V447.5H102V448.5H104V450H106V451.5H108V452.3H110.5V458.5H112V461H114V463H116V464.5H118V466H121V467.6H124V469H127V470.6H130V472H132V473.5H137V475.4H145V478H148V481H150V484H152V487H157V489.8H165V491H170V492.9H177.5V495.8H180V497.7H186V500.2H252" fill="none" stroke="#33609a" stroke-width="1.05"/>
<path d="M80 445H84V446H87V447H90.4V450.6H92.5V451.8H95V453H97.5V454.5H99.5V455.8H101.5V457.3H115V458.5H118V459.8H121V461H124V462H130V463H135V464H140V465.5H143V466.7H150V467.3H165V469.2H185V471.7H188V473.7H198V476.5H200V479.4H211V480.8H230V485.6H241.7V514H245.5" fill="none" stroke="#c2253e" stroke-width="1.05"/>
<text x="83.8" y="525.8" font-size="5.8" text-anchor="start" fill="#222" stroke="#222" stroke-width="0.2" ><tspan font-style="italic">P</tspan> = .013</text>
<text x="175" y="522.3" font-size="5.6" text-anchor="start" fill="#262626" stroke="#262626" stroke-width="0.2" >Strata</text>
<path d="M175 530.5h7M178.5 529.3v2.4" stroke="#c2253e" stroke-width="0.8"/>
<path d="M175 540.1h7M178.5 538.9v2.4" stroke="#33609a" stroke-width="0.8"/>
<text x="184.4" y="532.5" font-size="6.3" text-anchor="start" fill="#262626" stroke="#262626" stroke-width="0.2" >cat23 = pred Low Risk</text>
<text x="184.4" y="542.1" font-size="6.3" text-anchor="start" fill="#262626" stroke="#262626" stroke-width="0.2" >cat23 = pred High Risk</text>
<text x="72" y="588.6" font-size="6.4" text-anchor="start" fill="#222" stroke="#222" stroke-width="0.2" >GS23 (Huet et al.) in R+chemo arm</text>
<path d="M72 593.7V625H252.6" fill="none" stroke="#333" stroke-width="1"/>
<path d="M69 600H72M69 618H72" stroke="#333" stroke-width="0.8"/>
<text x="65.7" y="597.7" font-size="6.3" text-anchor="end" fill="#d0304e" stroke="#d0304e" stroke-width="0.2" >cat23 = pred</text>
<text x="65.7" y="605.5" font-size="6.3" text-anchor="end" fill="#d0304e" stroke="#d0304e" stroke-width="0.2" >Low Risk</text>
<text x="65.7" y="616.4" font-size="6.3" text-anchor="end" fill="#3a76b4" stroke="#3a76b4" stroke-width="0.2" >cat23 = pred</text>
<text x="65.7" y="624" font-size="6.3" text-anchor="end" fill="#3a76b4" stroke="#3a76b4" stroke-width="0.2" >High Risk</text>
<text transform="translate(23.6 607.6) rotate(-90)" font-size="7.6" text-anchor="middle" fill="#262626" stroke="#262626" stroke-width="0.2" textLength="17.5" lengthAdjust="spacingAndGlyphs">Strata</text>
<path d="M80 625V627.6" stroke="#333" stroke-width="0.8"/>
<text x="80" y="636.4" font-size="6.1" text-anchor="middle" fill="#262626" stroke="#262626" stroke-width="0.2" >0</text>
<text x="80" y="602.2" font-size="6.5" text-anchor="middle" fill="#222" stroke="#222" stroke-width="0.2" >106</text>
<text x="80" y="620.2" font-size="6.5" text-anchor="middle" fill="#222" stroke="#222" stroke-width="0.2" >54</text>
<path d="M121.1 625V627.6" stroke="#333" stroke-width="0.8"/>
<text x="121.1" y="636.4" font-size="6.1" text-anchor="middle" fill="#262626" stroke="#262626" stroke-width="0.2" >2</text>
<text x="121.1" y="602.2" font-size="6.5" text-anchor="middle" fill="#222" stroke="#222" stroke-width="0.2" >87</text>
<text x="121.1" y="620.2" font-size="6.5" text-anchor="middle" fill="#222" stroke="#222" stroke-width="0.2" >41</text>
<path d="M162.2 625V627.6" stroke="#333" stroke-width="0.8"/>
<text x="162.2" y="636.4" font-size="6.1" text-anchor="middle" fill="#262626" stroke="#262626" stroke-width="0.2" >4</text>
<text x="162.2" y="602.2" font-size="6.5" text-anchor="middle" fill="#222" stroke="#222" stroke-width="0.2" >78</text>
<text x="162.2" y="620.2" font-size="6.5" text-anchor="middle" fill="#222" stroke="#222" stroke-width="0.2" >28</text>
<path d="M203.3 625V627.6" stroke="#333" stroke-width="0.8"/>
<text x="203.3" y="636.4" font-size="6.1" text-anchor="middle" fill="#262626" stroke="#262626" stroke-width="0.2" >6</text>
<text x="203.3" y="602.2" font-size="6.5" text-anchor="middle" fill="#222" stroke="#222" stroke-width="0.2" >43</text>
<text x="203.3" y="620.2" font-size="6.5" text-anchor="middle" fill="#222" stroke="#222" stroke-width="0.2" >13</text>
<path d="M244.4 625V627.6" stroke="#333" stroke-width="0.8"/>
<text x="244.4" y="636.4" font-size="6.1" text-anchor="middle" fill="#262626" stroke="#262626" stroke-width="0.2" >8</text>
<text x="244.4" y="602.2" font-size="6.5" text-anchor="middle" fill="#222" stroke="#222" stroke-width="0.2" >1</text>
<text x="244.4" y="620.2" font-size="6.5" text-anchor="middle" fill="#222" stroke="#222" stroke-width="0.2" >1</text>
<text x="162" y="648.4" font-size="6.8" text-anchor="middle" fill="#262626" stroke="#262626" stroke-width="0.2" textLength="35.8" lengthAdjust="spacingAndGlyphs">Time (years)</text>
<text x="280" y="435.2" font-size="10.6" text-anchor="start" fill="#111" font-weight="bold" >E</text>
<text x="357" y="434.6" font-size="8.3" text-anchor="start" fill="#222" stroke="#222" stroke-width="0.2" >GS23 (Huet et al.) in R+R arm</text>
<path d="M322.5 440.5V548.4H503" fill="none" stroke="#333" stroke-width="1"/>
<path d="M320 445H322.5" stroke="#333" stroke-width="0.8"/>
<text x="317.3" y="447" font-size="5.6" text-anchor="end" fill="#262626" stroke="#262626" stroke-width="0.2" >1.00</text>
<path d="M320 469.62H322.5" stroke="#333" stroke-width="0.8"/>
<text x="317.3" y="471.62" font-size="5.6" text-anchor="end" fill="#262626" stroke="#262626" stroke-width="0.2" >0.75</text>
<path d="M320 494.25H322.5" stroke="#333" stroke-width="0.8"/>
<text x="317.3" y="496.25" font-size="5.6" text-anchor="end" fill="#262626" stroke="#262626" stroke-width="0.2" >0.50</text>
<path d="M320 518.88H322.5" stroke="#333" stroke-width="0.8"/>
<text x="317.3" y="520.88" font-size="5.6" text-anchor="end" fill="#262626" stroke="#262626" stroke-width="0.2" >0.25</text>
<path d="M320 543.5H322.5" stroke="#333" stroke-width="0.8"/>
<text x="317.3" y="545.5" font-size="5.6" text-anchor="end" fill="#262626" stroke="#262626" stroke-width="0.2" >0.00</text>
<path d="M330 548.4V551" stroke="#333" stroke-width="0.8"/>
<text x="330" y="559.8" font-size="5.8" text-anchor="middle" fill="#262626" stroke="#262626" stroke-width="0.2" >0</text>
<path d="M371.1 548.4V551" stroke="#333" stroke-width="0.8"/>
<text x="371.1" y="559.8" font-size="5.8" text-anchor="middle" fill="#262626" stroke="#262626" stroke-width="0.2" >2</text>
<path d="M412.2 548.4V551" stroke="#333" stroke-width="0.8"/>
<text x="412.2" y="559.8" font-size="5.8" text-anchor="middle" fill="#262626" stroke="#262626" stroke-width="0.2" >4</text>
<path d="M453.3 548.4V551" stroke="#333" stroke-width="0.8"/>
<text x="453.3" y="559.8" font-size="5.8" text-anchor="middle" fill="#262626" stroke="#262626" stroke-width="0.2" >6</text>
<path d="M494.4 548.4V551" stroke="#333" stroke-width="0.8"/>
<text x="494.4" y="559.8" font-size="5.8" text-anchor="middle" fill="#262626" stroke="#262626" stroke-width="0.2" >8</text>
<text x="412.2" y="571.4" font-size="6.6" text-anchor="middle" fill="#262626" stroke="#262626" stroke-width="0.2" textLength="36" lengthAdjust="spacingAndGlyphs">Time (years)</text>
<text transform="translate(298.6 494.2) rotate(-90)" font-size="7" text-anchor="middle" fill="#222" stroke="#222" stroke-width="0.15" textLength="12.5" lengthAdjust="spacingAndGlyphs">PFS</text>
<path d="M330 445H338.5V447H340V449.5H342V451.5H360.6V453H376V455H383V457.2H392V460.7H407V463H411V467.8H415V469.7H420V470.5H428V471.5H438V472.2H440V475.4H450.7V481.7H499.4" fill="none" stroke="#33609a" stroke-width="1.05"/>
<path d="M330 445H338.5V447H340V449.5H342V451H359V452.5H361V455H370V456H372V457H378V459H382V460.7H390V464H405V466.8H408.5V468.6H412V469.7H418V470.5H425V471.5H432V472.5H440V474H444V477H450.7V480.6H495" fill="none" stroke="#c2253e" stroke-width="1.05"/>
<text x="333.8" y="525.8" font-size="5.8" text-anchor="start" fill="#222" stroke="#222" stroke-width="0.2" ><tspan font-style="italic">P</tspan> = .97</text>
<text x="425.4" y="519.6" font-size="5.6" text-anchor="start" fill="#262626" stroke="#262626" stroke-width="0.2" >Strata</text>
<path d="M425.4 527.8h7M428.9 526.6v2.4" stroke="#c2253e" stroke-width="0.8"/>
<path d="M425.4 537.4h7M428.9 536.2v2.4" stroke="#33609a" stroke-width="0.8"/>
<text x="434.8" y="529.8" font-size="6.3" text-anchor="start" fill="#262626" stroke="#262626" stroke-width="0.2" >cat23 = pred Low Risk</text>
<text x="434.8" y="539.4" font-size="6.3" text-anchor="start" fill="#262626" stroke="#262626" stroke-width="0.2" >cat23 = pred High Risk</text>
<text x="322" y="588.6" font-size="6.4" text-anchor="start" fill="#222" stroke="#222" stroke-width="0.2" >GS23 (Huet et al.) in R+R arm</text>
<path d="M322 593.7V625H502.6" fill="none" stroke="#333" stroke-width="1"/>
<path d="M319 600H322M319 618H322" stroke="#333" stroke-width="0.8"/>
<text x="315.7" y="597.7" font-size="6.3" text-anchor="end" fill="#d0304e" stroke="#d0304e" stroke-width="0.2" >cat23 = pred</text>
<text x="315.7" y="605.5" font-size="6.3" text-anchor="end" fill="#d0304e" stroke="#d0304e" stroke-width="0.2" >Low Risk</text>
<text x="315.7" y="616.4" font-size="6.3" text-anchor="end" fill="#3a76b4" stroke="#3a76b4" stroke-width="0.2" >cat23 = pred</text>
<text x="315.7" y="624" font-size="6.3" text-anchor="end" fill="#3a76b4" stroke="#3a76b4" stroke-width="0.2" >High Risk</text>
<text transform="translate(273.6 607.6) rotate(-90)" font-size="7.6" text-anchor="middle" fill="#262626" stroke="#262626" stroke-width="0.2" textLength="17.5" lengthAdjust="spacingAndGlyphs">Strata</text>
<path d="M330 625V627.6" stroke="#333" stroke-width="0.8"/>
<text x="330" y="636.4" font-size="6.1" text-anchor="middle" fill="#262626" stroke="#262626" stroke-width="0.2" >0</text>
<text x="330" y="602.2" font-size="6.5" text-anchor="middle" fill="#222" stroke="#222" stroke-width="0.2" >106</text>
<text x="330" y="620.2" font-size="6.5" text-anchor="middle" fill="#222" stroke="#222" stroke-width="0.2" >56</text>
<path d="M371.1 625V627.6" stroke="#333" stroke-width="0.8"/>
<text x="371.1" y="636.4" font-size="6.1" text-anchor="middle" fill="#262626" stroke="#262626" stroke-width="0.2" >2</text>
<text x="371.1" y="602.2" font-size="6.5" text-anchor="middle" fill="#222" stroke="#222" stroke-width="0.2" >91</text>
<text x="371.1" y="620.2" font-size="6.5" text-anchor="middle" fill="#222" stroke="#222" stroke-width="0.2" >50</text>
<path d="M412.2 625V627.6" stroke="#333" stroke-width="0.8"/>
<text x="412.2" y="636.4" font-size="6.1" text-anchor="middle" fill="#262626" stroke="#262626" stroke-width="0.2" >4</text>
<text x="412.2" y="602.2" font-size="6.5" text-anchor="middle" fill="#222" stroke="#222" stroke-width="0.2" >71</text>
<text x="412.2" y="620.2" font-size="6.5" text-anchor="middle" fill="#222" stroke="#222" stroke-width="0.2" >41</text>
<path d="M453.3 625V627.6" stroke="#333" stroke-width="0.8"/>
<text x="453.3" y="636.4" font-size="6.1" text-anchor="middle" fill="#262626" stroke="#262626" stroke-width="0.2" >6</text>
<text x="453.3" y="602.2" font-size="6.5" text-anchor="middle" fill="#222" stroke="#222" stroke-width="0.2" >42</text>
<text x="453.3" y="620.2" font-size="6.5" text-anchor="middle" fill="#222" stroke="#222" stroke-width="0.2" >26</text>
<path d="M494.4 625V627.6" stroke="#333" stroke-width="0.8"/>
<text x="494.4" y="636.4" font-size="6.1" text-anchor="middle" fill="#262626" stroke="#262626" stroke-width="0.2" >8</text>
<text x="494.4" y="602.2" font-size="6.5" text-anchor="middle" fill="#222" stroke="#222" stroke-width="0.2" >0</text>
<text x="494.4" y="620.2" font-size="6.5" text-anchor="middle" fill="#222" stroke="#222" stroke-width="0.2" >1</text>
<text x="412" y="648.4" font-size="6.8" text-anchor="middle" fill="#262626" stroke="#262626" stroke-width="0.2" textLength="35.8" lengthAdjust="spacingAndGlyphs">Time (years)</text>
<path d="M86 444.6v2.8M106 455.9v2.8M128 460.6v2.8M146 465.3v2.8M160 465.9v2.8M170 467.8v2.8M176 467.8v2.8M182 467.8v2.8M190 472.3v2.8M192 472.3v2.8M194 472.3v2.8M204 478v2.8M206 478v2.8M214 479.4v2.8M216 479.4v2.8M218 479.4v2.8M222 479.4v2.8M224 479.4v2.8M226 479.4v2.8M234 484.2v2.8M236 484.2v2.8M238 484.2v2.8M244 512.6v2.8" stroke="#c2253e" stroke-width="0.9"/>
<path d="M88 444.6v2.8M139 474v2.8M146 476.6v2.8M158 488.4v2.8M172 491.5v2.8M192 498.8v2.8M196 498.8v2.8M210 498.8v2.8M212 498.8v2.8M214 498.8v2.8M216 498.8v2.8M224 498.8v2.8M235 498.8v2.8M240 498.8v2.8M250 498.8v2.8" stroke="#33609a" stroke-width="0.9"/>
<path d="M344 449.6v2.8M352 449.6v2.8M364 453.6v2.8M386 459.3v2.8M398 462.6v2.8M416 468.3v2.8M436 471.1v2.8M446 475.6v2.8M456 479.2v2.8M460 479.2v2.8M464 479.2v2.8M468 479.2v2.8M472 479.2v2.8M476 479.2v2.8M480 479.2v2.8M484 479.2v2.8M488 479.2v2.8M492 479.2v2.8" stroke="#c2253e" stroke-width="0.9"/>
<path d="M346 450.1v2.8M368 451.6v2.8M396 459.3v2.8M430 470.1v2.8M454 480.3v2.8M458 480.3v2.8M462 480.3v2.8M470 480.3v2.8M474 480.3v2.8M478 480.3v2.8M482 480.3v2.8M486 480.3v2.8M490 480.3v2.8M494 480.3v2.8M498 480.3v2.8" stroke="#33609a" stroke-width="0.9"/>
<rect x="0.5" y="0.5" width="519" height="656" fill="none" stroke="#444" stroke-width="1.1"/>
</svg></body></html>
